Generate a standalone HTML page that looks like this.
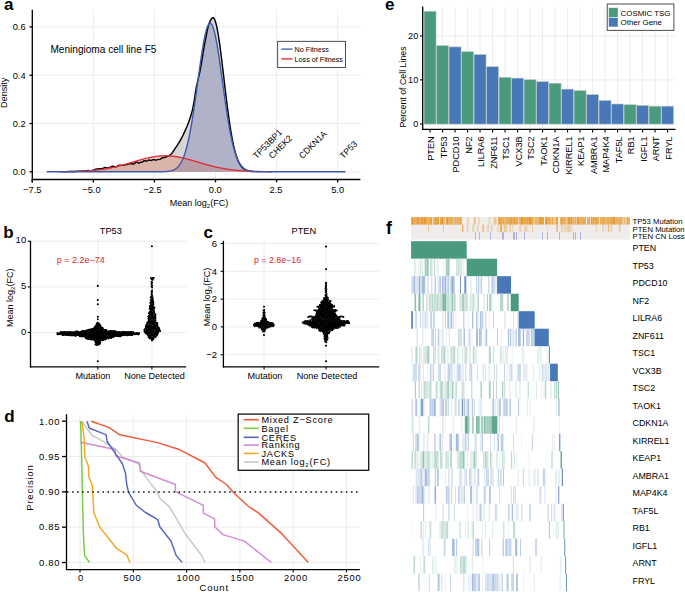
<!DOCTYPE html>
<html><head><meta charset="utf-8"><style>
html,body{margin:0;padding:0;background:#fff;}
svg{display:block;font-family:"Liberation Sans", sans-serif;}
</style></head><body>
<svg width="685" height="592" viewBox="0 0 685 592">
<rect width="685" height="592" fill="#fff"/>
<line x1="32.28" y1="9.7" x2="32.28" y2="178.8" stroke="#EBEBEB" stroke-width="0.9"/>
<line x1="93.35" y1="9.7" x2="93.35" y2="178.8" stroke="#EBEBEB" stroke-width="0.9"/>
<line x1="154.43" y1="9.7" x2="154.43" y2="178.8" stroke="#EBEBEB" stroke-width="0.9"/>
<line x1="215.5" y1="9.7" x2="215.5" y2="178.8" stroke="#EBEBEB" stroke-width="0.9"/>
<line x1="276.57" y1="9.7" x2="276.57" y2="178.8" stroke="#EBEBEB" stroke-width="0.9"/>
<line x1="337.65" y1="9.7" x2="337.65" y2="178.8" stroke="#EBEBEB" stroke-width="0.9"/>
<line x1="32.3" y1="171.8" x2="360.4" y2="171.8" stroke="#EBEBEB" stroke-width="0.9"/>
<line x1="32.3" y1="123.5" x2="360.4" y2="123.5" stroke="#EBEBEB" stroke-width="0.9"/>
<line x1="32.3" y1="75.2" x2="360.4" y2="75.2" stroke="#EBEBEB" stroke-width="0.9"/>
<line x1="32.3" y1="26.9" x2="360.4" y2="26.9" stroke="#EBEBEB" stroke-width="0.9"/>
<path d="M46.69,171.8 L46.69,171.8 L47.19,171.8 L47.69,171.8 L48.19,171.79 L48.68,171.79 L49.18,171.79 L49.68,171.79 L50.18,171.78 L50.68,171.78 L51.18,171.78 L51.68,171.77 L52.18,171.77 L52.67,171.77 L53.17,171.76 L53.67,171.76 L54.17,171.75 L54.67,171.75 L55.17,171.75 L55.67,171.74 L56.17,171.74 L56.66,171.73 L57.16,171.73 L57.66,171.72 L58.16,171.72 L58.66,171.71 L59.16,171.71 L59.66,171.7 L60.16,171.7 L60.65,171.69 L61.15,171.69 L61.65,171.68 L62.15,171.68 L62.65,171.67 L63.15,171.66 L63.65,171.66 L64.15,171.65 L64.65,171.64 L65.14,171.64 L65.64,171.63 L66.14,171.62 L66.64,171.61 L67.14,171.6 L67.64,171.6 L68.14,171.59 L68.64,171.58 L69.13,171.57 L69.63,171.56 L70.13,171.55 L70.63,171.54 L71.13,171.52 L71.63,171.51 L72.13,171.5 L72.63,171.49 L73.12,171.47 L73.62,171.46 L74.12,171.44 L74.62,171.42 L75.12,171.41 L75.62,171.39 L76.12,171.37 L76.62,171.35 L77.12,171.33 L77.61,171.31 L78.11,171.29 L78.61,171.27 L79.11,171.24 L79.61,171.22 L80.11,171.19 L80.61,171.17 L81.11,171.14 L81.6,171.11 L82.1,171.07 L82.6,171.04 L83.1,171 L83.6,170.96 L84.1,170.92 L84.6,170.88 L85.1,170.83 L85.59,170.79 L86.09,170.75 L86.59,170.71 L87.09,170.66 L87.59,170.59 L88.09,170.51 L88.59,170.46 L89.09,170.5 L89.59,170.64 L90.08,170.82 L90.58,170.98 L91.08,171.05 L91.58,170.97 L92.08,170.76 L92.58,170.51 L93.08,170.28 L93.58,170.12 L94.07,169.95 L94.57,169.7 L95.07,169.42 L95.57,169.21 L96.07,169.08 L96.57,169.01 L97.07,168.93 L97.57,168.88 L98.06,168.85 L98.56,168.82 L99.06,168.77 L99.56,168.78 L100.06,168.82 L100.56,168.82 L101.06,168.75 L101.56,168.66 L102.06,168.58 L102.55,168.47 L103.05,168.27 L103.55,168.03 L104.05,167.82 L104.55,167.67 L105.05,167.58 L105.55,167.55 L106.05,167.62 L106.54,167.78 L107.04,167.9 L107.54,167.94 L108.04,167.88 L108.54,167.7 L109.04,167.49 L109.54,167.33 L110.04,167.21 L110.53,167.05 L111.03,166.82 L111.53,166.54 L112.03,166.29 L112.53,166.17 L113.03,166.19 L113.53,166.3 L114.03,166.45 L114.52,166.6 L115.02,166.73 L115.52,166.83 L116.02,166.81 L116.52,166.64 L117.02,166.36 L117.52,166 L118.02,165.68 L118.52,165.48 L119.01,165.37 L119.51,165.31 L120.01,165.26 L120.51,165.23 L121.01,165.27 L121.51,165.35 L122.01,165.39 L122.51,165.39 L123,165.34 L123.5,165.25 L124,165.14 L124.5,165 L125,164.87 L125.5,164.77 L126,164.71 L126.5,164.65 L126.99,164.52 L127.49,164.36 L127.99,164.18 L128.49,164 L128.99,163.9 L129.49,163.84 L129.99,163.79 L130.49,163.76 L130.99,163.7 L131.48,163.66 L131.98,163.72 L132.48,163.86 L132.98,164.01 L133.48,164.08 L133.98,163.94 L134.48,163.57 L134.98,163.02 L135.47,162.43 L135.97,161.98 L136.47,161.84 L136.97,162.06 L137.47,162.49 L137.97,162.91 L138.47,163.13 L138.97,163.07 L139.46,162.8 L139.96,162.51 L140.46,162.32 L140.96,162.26 L141.46,162.24 L141.96,162.18 L142.46,161.99 L142.96,161.62 L143.46,161.18 L143.95,160.84 L144.45,160.69 L144.95,160.72 L145.45,160.86 L145.95,161.03 L146.45,161.12 L146.95,161.02 L147.45,160.73 L147.94,160.38 L148.44,160.11 L148.94,160 L149.44,160.06 L149.94,160.22 L150.44,160.36 L150.94,160.39 L151.44,160.25 L151.93,160.05 L152.43,159.85 L152.93,159.73 L153.43,159.68 L153.93,159.72 L154.43,159.78 L154.93,159.88 L155.43,159.99 L155.93,160.07 L156.42,160.06 L156.92,159.88 L157.42,159.63 L157.92,159.46 L158.42,159.39 L158.92,159.4 L159.42,159.41 L159.92,159.3 L160.41,159.02 L160.91,158.68 L161.41,158.32 L161.91,158 L162.41,157.75 L162.91,157.56 L163.41,157.46 L163.91,157.43 L164.4,157.44 L164.9,157.4 L165.4,157.25 L165.9,157 L166.4,156.73 L166.9,156.5 L167.4,156.32 L167.9,156.16 L168.39,155.94 L168.89,155.66 L169.39,155.35 L169.89,155.01 L170.39,154.62 L170.89,154.19 L171.39,153.71 L171.89,153.17 L172.39,152.53 L172.88,151.82 L173.38,151.07 L173.88,150.32 L174.38,149.59 L174.88,148.87 L175.38,148.14 L175.88,147.41 L176.38,146.67 L176.87,145.92 L177.37,145.16 L177.87,144.38 L178.37,143.59 L178.87,142.78 L179.37,141.96 L179.87,141.11 L180.37,140.23 L180.86,139.33 L181.36,138.4 L181.86,137.45 L182.36,136.47 L182.86,135.47 L183.36,134.45 L183.86,133.41 L184.36,132.34 L184.86,131.26 L185.35,130.16 L185.85,129.04 L186.35,127.9 L186.85,126.74 L187.35,125.54 L187.85,124.3 L188.35,123.02 L188.85,121.68 L189.34,120.27 L189.84,118.81 L190.34,117.29 L190.84,115.68 L191.34,113.97 L191.84,112.13 L192.34,110.15 L192.84,107.93 L193.33,105.45 L193.83,102.76 L194.33,99.91 L194.83,96.58 L195.33,93.01 L195.83,89.84 L196.33,87.2 L196.83,84.79 L197.33,82.56 L197.82,80.44 L198.32,78.38 L198.82,76.3 L199.32,74.15 L199.82,71.87 L200.32,69.39 L200.82,66.7 L201.32,63.84 L201.81,60.86 L202.31,57.79 L202.81,54.69 L203.31,51.61 L203.81,48.59 L204.31,45.68 L204.81,42.92 L205.31,40.37 L205.8,37.89 L206.3,35.37 L206.8,32.87 L207.3,30.46 L207.8,28.2 L208.3,26.15 L208.8,24.39 L209.3,22.97 L209.8,21.88 L210.29,20.86 L210.79,19.92 L211.29,19.08 L211.79,18.4 L212.29,17.9 L212.79,17.63 L213.29,17.7 L213.79,18.1 L214.28,18.82 L214.78,19.84 L215.28,21.17 L215.78,22.8 L216.28,24.71 L216.78,26.89 L217.28,29.34 L217.78,32.03 L218.27,34.95 L218.77,38.09 L219.27,41.42 L219.77,44.93 L220.27,48.6 L220.77,52.41 L221.27,56.34 L221.77,60.37 L222.26,64.48 L222.76,68.65 L223.26,72.86 L223.76,77.09 L224.26,81.33 L224.76,85.56 L225.26,89.76 L225.76,93.92 L226.26,98.01 L226.75,102.04 L227.25,105.98 L227.75,109.82 L228.25,113.56 L228.75,117.19 L229.25,120.7 L229.75,124.08 L230.25,127.32 L230.74,130.43 L231.24,133.41 L231.74,136.24 L232.24,138.93 L232.74,141.48 L233.24,143.89 L233.74,146.16 L234.24,148.3 L234.73,150.3 L235.23,152.17 L235.73,153.91 L236.23,155.54 L236.73,157.04 L237.23,158.44 L237.73,159.73 L238.23,160.91 L238.73,162 L239.22,163 L239.72,163.91 L240.22,164.75 L240.72,165.5 L241.22,166.19 L241.72,166.81 L242.22,167.38 L242.72,167.88 L243.21,168.34 L243.71,168.75 L244.21,169.12 L244.71,169.44 L245.21,169.74 L245.71,170 L246.21,170.23 L246.71,170.43 L247.2,170.61 L247.7,170.77 L248.2,170.91 L248.7,171.03 L249.2,171.13 L249.7,171.23 L250.2,171.31 L250.7,171.38 L251.2,171.44 L251.69,171.49 L252.19,171.54 L252.69,171.58 L253.19,171.61 L253.69,171.64 L254.19,171.67 L254.69,171.69 L255.19,171.7 L255.68,171.72 L256.18,171.73 L256.68,171.74 L257.18,171.75 L257.68,171.76 L258.18,171.77 L258.68,171.77 L259.18,171.78 L259.67,171.78 L260.17,171.78 L260.67,171.79 L261.17,171.79 L261.67,171.79 L262.17,171.79 L262.67,171.79 L263.17,171.8 L263.67,171.8 L264.16,171.8 L264.66,171.8 L265.16,171.8 L265.66,171.8 L266.16,171.8 L266.66,171.8 L267.16,171.8 L267.66,171.8 L268.15,171.8 L268.65,171.8 L269.15,171.8 L269.65,171.8 L270.15,171.8 L270.65,171.8 L271.15,171.8 L271.65,171.8 L272.14,171.8 L272.64,171.8 L273.14,171.8 L273.64,171.8 L274.14,171.8 L274.64,171.8 L275.14,171.8 L275.64,171.8 L276.13,171.8 L276.63,171.8 L277.13,171.8 L277.63,171.8 L278.13,171.8 L278.63,171.8 L279.13,171.8 L279.63,171.8 L280.13,171.8 L280.62,171.8 L281.12,171.8 L281.62,171.8 L282.12,171.8 L282.62,171.8 L283.12,171.8 L283.62,171.8 L284.12,171.8 L284.61,171.8 L285.11,171.8 L285.61,171.8 L286.11,171.8 L286.61,171.8 L287.11,171.8 L287.61,171.8 L288.11,171.8 L288.6,171.8 L289.1,171.8 L289.6,171.8 L290.1,171.8 L290.6,171.8 L291.1,171.8 L291.6,171.8 L292.1,171.8 L292.6,171.8 L293.09,171.8 L293.59,171.8 L294.09,171.8 L294.59,171.8 L295.09,171.8 L295.59,171.8 L296.09,171.8 L296.59,171.8 L297.08,171.8 L297.58,171.8 L298.08,171.8 L298.58,171.8 L299.08,171.8 L299.58,171.8 L300.08,171.8 L300.58,171.8 L301.07,171.8 L301.57,171.8 L302.07,171.8 L302.57,171.8 L303.07,171.8 L303.57,171.8 L304.07,171.8 L304.57,171.8 L305.07,171.8 L305.56,171.8 L306.06,171.8 L306.56,171.8 L307.06,171.8 L307.56,171.8 L308.06,171.8 L308.56,171.8 L309.06,171.8 L309.55,171.8 L310.05,171.8 L310.55,171.8 L311.05,171.8 L311.55,171.8 L312.05,171.8 L312.55,171.8 L313.05,171.8 L313.54,171.8 L314.04,171.8 L314.54,171.8 L315.04,171.8 L315.54,171.8 L316.04,171.8 L316.54,171.8 L317.04,171.8 L317.54,171.8 L318.03,171.8 L318.53,171.8 L319.03,171.8 L319.53,171.8 L320.03,171.8 L320.53,171.8 L321.03,171.8 L321.53,171.8 L322.02,171.8 L322.52,171.8 L323.02,171.8 L323.52,171.8 L324.02,171.8 L324.52,171.8 L325.02,171.8 L325.52,171.8 L326.01,171.8 L326.51,171.8 L327.01,171.8 L327.51,171.8 L328.01,171.8 L328.51,171.8 L329.01,171.8 L329.51,171.8 L330,171.8 L330.5,171.8 L331,171.8 L331.5,171.8 L332,171.8 L332.5,171.8 L333,171.8 L333.5,171.8 L334,171.8 L334.49,171.8 L334.99,171.8 L335.49,171.8 L335.99,171.8 L336.49,171.8 L336.99,171.8 L337.49,171.8 L337.99,171.8 L338.48,171.8 L338.98,171.8 L339.48,171.8 L339.98,171.8 L340.48,171.8 L340.98,171.8 L341.48,171.8 L341.98,171.8 L342.47,171.8 L342.97,171.8 L343.47,171.8 L343.97,171.8 L344.47,171.8 L344.97,171.8 L345.47,171.8 L345.47,171.8 Z" fill="#D6D6D4"/>
<path d="M46.69,171.8 L46.69,171.8 L47.19,171.8 L47.69,171.8 L48.19,171.8 L48.68,171.8 L49.18,171.8 L49.68,171.8 L50.18,171.8 L50.68,171.8 L51.18,171.8 L51.68,171.8 L52.18,171.8 L52.67,171.8 L53.17,171.8 L53.67,171.8 L54.17,171.8 L54.67,171.8 L55.17,171.8 L55.67,171.8 L56.17,171.8 L56.66,171.8 L57.16,171.8 L57.66,171.8 L58.16,171.8 L58.66,171.8 L59.16,171.8 L59.66,171.8 L60.16,171.8 L60.65,171.8 L61.15,171.8 L61.65,171.8 L62.15,171.8 L62.65,171.8 L63.15,171.8 L63.65,171.8 L64.15,171.8 L64.65,171.8 L65.14,171.8 L65.64,171.8 L66.14,171.8 L66.64,171.8 L67.14,171.8 L67.64,171.8 L68.14,171.8 L68.64,171.8 L69.13,171.8 L69.63,171.8 L70.13,171.8 L70.63,171.8 L71.13,171.8 L71.63,171.8 L72.13,171.8 L72.63,171.8 L73.12,171.8 L73.62,171.8 L74.12,171.8 L74.62,171.8 L75.12,171.8 L75.62,171.8 L76.12,171.8 L76.62,171.8 L77.12,171.8 L77.61,171.8 L78.11,171.8 L78.61,171.8 L79.11,171.8 L79.61,171.8 L80.11,171.8 L80.61,171.8 L81.11,171.8 L81.6,171.8 L82.1,171.8 L82.6,171.8 L83.1,171.8 L83.6,171.8 L84.1,171.8 L84.6,171.8 L85.1,171.8 L85.59,171.8 L86.09,171.8 L86.59,171.8 L87.09,171.8 L87.59,171.8 L88.09,171.8 L88.59,171.8 L89.09,171.8 L89.59,171.8 L90.08,171.8 L90.58,171.8 L91.08,171.8 L91.58,171.8 L92.08,171.8 L92.58,171.8 L93.08,171.8 L93.58,171.8 L94.07,171.8 L94.57,171.8 L95.07,171.8 L95.57,171.8 L96.07,171.8 L96.57,171.8 L97.07,171.8 L97.57,171.8 L98.06,171.8 L98.56,171.8 L99.06,171.8 L99.56,171.8 L100.06,171.8 L100.56,171.8 L101.06,171.8 L101.56,171.8 L102.06,171.8 L102.55,171.8 L103.05,171.8 L103.55,171.8 L104.05,171.8 L104.55,171.8 L105.05,171.8 L105.55,171.8 L106.05,171.8 L106.54,171.8 L107.04,171.8 L107.54,171.8 L108.04,171.8 L108.54,171.8 L109.04,171.8 L109.54,171.8 L110.04,171.8 L110.53,171.8 L111.03,171.8 L111.53,171.8 L112.03,171.8 L112.53,171.8 L113.03,171.8 L113.53,171.8 L114.03,171.8 L114.52,171.8 L115.02,171.8 L115.52,171.8 L116.02,171.8 L116.52,171.8 L117.02,171.8 L117.52,171.8 L118.02,171.8 L118.52,171.8 L119.01,171.8 L119.51,171.8 L120.01,171.8 L120.51,171.8 L121.01,171.8 L121.51,171.8 L122.01,171.8 L122.51,171.8 L123,171.8 L123.5,171.8 L124,171.8 L124.5,171.8 L125,171.8 L125.5,171.8 L126,171.8 L126.5,171.8 L126.99,171.8 L127.49,171.8 L127.99,171.8 L128.49,171.8 L128.99,171.8 L129.49,171.8 L129.99,171.8 L130.49,171.8 L130.99,171.8 L131.48,171.8 L131.98,171.8 L132.48,171.8 L132.98,171.8 L133.48,171.8 L133.98,171.8 L134.48,171.8 L134.98,171.8 L135.47,171.8 L135.97,171.8 L136.47,171.8 L136.97,171.8 L137.47,171.8 L137.97,171.8 L138.47,171.8 L138.97,171.8 L139.46,171.8 L139.96,171.8 L140.46,171.8 L140.96,171.8 L141.46,171.8 L141.96,171.8 L142.46,171.8 L142.96,171.8 L143.46,171.8 L143.95,171.8 L144.45,171.8 L144.95,171.8 L145.45,171.8 L145.95,171.8 L146.45,171.8 L146.95,171.8 L147.45,171.8 L147.94,171.8 L148.44,171.8 L148.94,171.8 L149.44,171.8 L149.94,171.8 L150.44,171.8 L150.94,171.8 L151.44,171.8 L151.93,171.8 L152.43,171.8 L152.93,171.8 L153.43,171.8 L153.93,171.8 L154.43,171.79 L154.93,171.79 L155.43,171.79 L155.93,171.79 L156.42,171.79 L156.92,171.79 L157.42,171.78 L157.92,171.78 L158.42,171.78 L158.92,171.77 L159.42,171.77 L159.92,171.76 L160.41,171.76 L160.91,171.75 L161.41,171.74 L161.91,171.73 L162.41,171.72 L162.91,171.7 L163.41,171.69 L163.91,171.67 L164.4,171.65 L164.9,171.62 L165.4,171.59 L165.9,171.56 L166.4,171.52 L166.9,171.48 L167.4,171.43 L167.9,171.38 L168.39,171.31 L168.89,171.24 L169.39,171.16 L169.89,171.07 L170.39,170.97 L170.89,170.85 L171.39,170.73 L171.89,170.58 L172.39,170.42 L172.88,170.24 L173.38,170.04 L173.88,169.81 L174.38,169.57 L174.88,169.29 L175.38,168.98 L175.88,168.65 L176.38,168.28 L176.87,167.87 L177.37,167.42 L177.87,166.93 L178.37,166.39 L178.87,165.8 L179.37,165.16 L179.87,164.46 L180.37,163.7 L180.86,162.88 L181.36,161.99 L181.86,161.03 L182.36,159.99 L182.86,158.87 L183.36,157.68 L183.86,156.4 L184.36,155.03 L184.86,153.56 L185.35,152 L185.85,150.35 L186.35,148.59 L186.85,146.73 L187.35,144.77 L187.85,142.69 L188.35,140.51 L188.85,138.23 L189.34,135.83 L189.84,133.33 L190.34,130.72 L190.84,128 L191.34,125.18 L191.84,122.26 L192.34,119.25 L192.84,116.14 L193.33,112.94 L193.83,109.66 L194.33,106.31 L194.83,102.89 L195.33,99.4 L195.83,95.87 L196.33,92.29 L196.83,88.68 L197.33,85.05 L197.82,81.41 L198.32,77.77 L198.82,74.14 L199.32,70.54 L199.82,66.97 L200.32,63.46 L200.82,60.01 L201.32,56.64 L201.81,53.37 L202.31,50.2 L202.81,47.14 L203.31,44.23 L203.81,41.45 L204.31,38.83 L204.81,36.39 L205.31,34.12 L205.8,32.04 L206.3,30.16 L206.8,28.49 L207.3,27.04 L207.8,25.82 L208.3,24.82 L208.8,24.06 L209.3,23.54 L209.8,23.25 L210.29,23.21 L210.79,23.42 L211.29,23.86 L211.79,24.55 L212.29,25.47 L212.79,26.62 L213.29,28 L213.79,29.6 L214.28,31.41 L214.78,33.42 L215.28,35.63 L215.78,38.02 L216.28,40.58 L216.78,43.31 L217.28,46.18 L217.78,49.19 L218.27,52.33 L218.77,55.57 L219.27,58.91 L219.77,62.33 L220.27,65.83 L220.77,69.37 L221.27,72.97 L221.77,76.59 L222.26,80.23 L222.76,83.87 L223.26,87.51 L223.76,91.12 L224.26,94.71 L224.76,98.26 L225.26,101.76 L225.76,105.21 L226.26,108.58 L226.75,111.89 L227.25,115.11 L227.75,118.25 L228.25,121.3 L228.75,124.25 L229.25,127.1 L229.75,129.85 L230.25,132.49 L230.74,135.03 L231.24,137.46 L231.74,139.78 L232.24,142 L232.74,144.1 L233.24,146.1 L233.74,148 L234.24,149.79 L234.73,151.48 L235.23,153.07 L235.73,154.56 L236.23,155.96 L236.73,157.27 L237.23,158.5 L237.73,159.64 L238.23,160.7 L238.73,161.68 L239.22,162.6 L239.72,163.44 L240.22,164.22 L240.72,164.94 L241.22,165.6 L241.72,166.2 L242.22,166.76 L242.72,167.26 L243.21,167.73 L243.71,168.15 L244.21,168.53 L244.71,168.88 L245.21,169.19 L245.71,169.48 L246.21,169.74 L246.71,169.97 L247.2,170.18 L247.7,170.36 L248.2,170.53 L248.7,170.68 L249.2,170.81 L249.7,170.93 L250.2,171.04 L250.7,171.13 L251.2,171.22 L251.69,171.29 L252.19,171.36 L252.69,171.41 L253.19,171.46 L253.69,171.51 L254.19,171.55 L254.69,171.58 L255.19,171.61 L255.68,171.64 L256.18,171.66 L256.68,171.68 L257.18,171.7 L257.68,171.71 L258.18,171.72 L258.68,171.74 L259.18,171.75 L259.67,171.75 L260.17,171.76 L260.67,171.77 L261.17,171.77 L261.67,171.78 L262.17,171.78 L262.67,171.78 L263.17,171.79 L263.67,171.79 L264.16,171.79 L264.66,171.79 L265.16,171.79 L265.66,171.79 L266.16,171.8 L266.66,171.8 L267.16,171.8 L267.66,171.8 L268.15,171.8 L268.65,171.8 L269.15,171.8 L269.65,171.8 L270.15,171.8 L270.65,171.8 L271.15,171.8 L271.65,171.8 L272.14,171.8 L272.64,171.8 L273.14,171.8 L273.64,171.8 L274.14,171.8 L274.64,171.8 L275.14,171.8 L275.64,171.8 L276.13,171.8 L276.63,171.8 L277.13,171.8 L277.63,171.8 L278.13,171.8 L278.63,171.8 L279.13,171.8 L279.63,171.8 L280.13,171.8 L280.62,171.8 L281.12,171.8 L281.62,171.8 L282.12,171.8 L282.62,171.8 L283.12,171.8 L283.62,171.8 L284.12,171.8 L284.61,171.8 L285.11,171.8 L285.61,171.8 L286.11,171.8 L286.61,171.8 L287.11,171.8 L287.61,171.8 L288.11,171.8 L288.6,171.8 L289.1,171.8 L289.6,171.8 L290.1,171.8 L290.6,171.8 L291.1,171.8 L291.6,171.8 L292.1,171.8 L292.6,171.8 L293.09,171.8 L293.59,171.8 L294.09,171.8 L294.59,171.8 L295.09,171.8 L295.59,171.8 L296.09,171.8 L296.59,171.8 L297.08,171.8 L297.58,171.8 L298.08,171.8 L298.58,171.8 L299.08,171.8 L299.58,171.8 L300.08,171.8 L300.58,171.8 L301.07,171.8 L301.57,171.8 L302.07,171.8 L302.57,171.8 L303.07,171.8 L303.57,171.8 L304.07,171.8 L304.57,171.8 L305.07,171.8 L305.56,171.8 L306.06,171.8 L306.56,171.8 L307.06,171.8 L307.56,171.8 L308.06,171.8 L308.56,171.8 L309.06,171.8 L309.55,171.8 L310.05,171.8 L310.55,171.8 L311.05,171.8 L311.55,171.8 L312.05,171.8 L312.55,171.8 L313.05,171.8 L313.54,171.8 L314.04,171.8 L314.54,171.8 L315.04,171.8 L315.54,171.8 L316.04,171.8 L316.54,171.8 L317.04,171.8 L317.54,171.8 L318.03,171.8 L318.53,171.8 L319.03,171.8 L319.53,171.8 L320.03,171.8 L320.53,171.8 L321.03,171.8 L321.53,171.8 L322.02,171.8 L322.52,171.8 L323.02,171.8 L323.52,171.8 L324.02,171.8 L324.52,171.8 L325.02,171.8 L325.52,171.8 L326.01,171.8 L326.51,171.8 L327.01,171.8 L327.51,171.8 L328.01,171.8 L328.51,171.8 L329.01,171.8 L329.51,171.8 L330,171.8 L330.5,171.8 L331,171.8 L331.5,171.8 L332,171.8 L332.5,171.8 L333,171.8 L333.5,171.8 L334,171.8 L334.49,171.8 L334.99,171.8 L335.49,171.8 L335.99,171.8 L336.49,171.8 L336.99,171.8 L337.49,171.8 L337.99,171.8 L338.48,171.8 L338.98,171.8 L339.48,171.8 L339.98,171.8 L340.48,171.8 L340.98,171.8 L341.48,171.8 L341.98,171.8 L342.47,171.8 L342.97,171.8 L343.47,171.8 L343.97,171.8 L344.47,171.8 L344.97,171.8 L345.47,171.8 L345.47,171.8 Z" fill="rgb(105,111,178)" fill-opacity="0.35"/>
<path d="M46.69,171.8 L46.69,171.78 L47.19,171.78 L47.69,171.78 L48.19,171.78 L48.68,171.77 L49.18,171.77 L49.68,171.77 L50.18,171.77 L50.68,171.77 L51.18,171.77 L51.68,171.77 L52.18,171.76 L52.67,171.76 L53.17,171.76 L53.67,171.76 L54.17,171.75 L54.67,171.75 L55.17,171.75 L55.67,171.75 L56.17,171.74 L56.66,171.74 L57.16,171.74 L57.66,171.73 L58.16,171.73 L58.66,171.73 L59.16,171.72 L59.66,171.72 L60.16,171.72 L60.65,171.71 L61.15,171.71 L61.65,171.7 L62.15,171.7 L62.65,171.69 L63.15,171.69 L63.65,171.68 L64.15,171.68 L64.65,171.67 L65.14,171.66 L65.64,171.66 L66.14,171.65 L66.64,171.64 L67.14,171.64 L67.64,171.63 L68.14,171.62 L68.64,171.61 L69.13,171.6 L69.63,171.59 L70.13,171.58 L70.63,171.57 L71.13,171.56 L71.63,171.55 L72.13,171.54 L72.63,171.53 L73.12,171.52 L73.62,171.5 L74.12,171.49 L74.62,171.48 L75.12,171.46 L75.62,171.45 L76.12,171.43 L76.62,171.42 L77.12,171.4 L77.61,171.38 L78.11,171.37 L78.61,171.35 L79.11,171.33 L79.61,171.31 L80.11,171.29 L80.61,171.27 L81.11,171.25 L81.6,171.23 L82.1,171.2 L82.6,171.18 L83.1,171.15 L83.6,171.13 L84.1,171.1 L84.6,171.07 L85.1,171.05 L85.59,171.02 L86.09,170.99 L86.59,170.96 L87.09,170.92 L87.59,170.89 L88.09,170.86 L88.59,170.82 L89.09,170.79 L89.59,170.75 L90.08,170.71 L90.58,170.67 L91.08,170.63 L91.58,170.59 L92.08,170.55 L92.58,170.5 L93.08,170.46 L93.58,170.41 L94.07,170.36 L94.57,170.31 L95.07,170.26 L95.57,170.21 L96.07,170.16 L96.57,170.11 L97.07,170.05 L97.57,169.99 L98.06,169.93 L98.56,169.87 L99.06,169.81 L99.56,169.75 L100.06,169.68 L100.56,169.62 L101.06,169.55 L101.56,169.48 L102.06,169.41 L102.55,169.34 L103.05,169.26 L103.55,169.19 L104.05,169.11 L104.55,169.03 L105.05,168.95 L105.55,168.87 L106.05,168.79 L106.54,168.7 L107.04,168.61 L107.54,168.53 L108.04,168.44 L108.54,168.34 L109.04,168.25 L109.54,168.15 L110.04,168.06 L110.53,167.96 L111.03,167.86 L111.53,167.76 L112.03,167.65 L112.53,167.55 L113.03,167.44 L113.53,167.33 L114.03,167.22 L114.52,167.11 L115.02,166.99 L115.52,166.88 L116.02,166.76 L116.52,166.64 L117.02,166.52 L117.52,166.4 L118.02,166.28 L118.52,166.16 L119.01,166.03 L119.51,165.9 L120.01,165.77 L120.51,165.64 L121.01,165.51 L121.51,165.38 L122.01,165.25 L122.51,165.11 L123,164.98 L123.5,164.84 L124,164.7 L124.5,164.56 L125,164.42 L125.5,164.28 L126,164.14 L126.5,163.99 L126.99,163.85 L127.49,163.7 L127.99,163.56 L128.49,163.41 L128.99,163.27 L129.49,163.12 L129.99,162.97 L130.49,162.82 L130.99,162.67 L131.48,162.53 L131.98,162.38 L132.48,162.23 L132.98,162.08 L133.48,161.93 L133.98,161.78 L134.48,161.63 L134.98,161.48 L135.47,161.34 L135.97,161.19 L136.47,161.04 L136.97,160.89 L137.47,160.75 L137.97,160.6 L138.47,160.46 L138.97,160.31 L139.46,160.17 L139.96,160.03 L140.46,159.89 L140.96,159.75 L141.46,159.61 L141.96,159.47 L142.46,159.34 L142.96,159.2 L143.46,159.07 L143.95,158.94 L144.45,158.81 L144.95,158.68 L145.45,158.55 L145.95,158.43 L146.45,158.31 L146.95,158.19 L147.45,158.07 L147.94,157.95 L148.44,157.84 L148.94,157.73 L149.44,157.62 L149.94,157.52 L150.44,157.41 L150.94,157.31 L151.44,157.22 L151.93,157.12 L152.43,157.03 L152.93,156.94 L153.43,156.85 L153.93,156.77 L154.43,156.69 L154.93,156.61 L155.43,156.54 L155.93,156.47 L156.42,156.4 L156.92,156.34 L157.42,156.28 L157.92,156.22 L158.42,156.17 L158.92,156.12 L159.42,156.07 L159.92,156.03 L160.41,155.99 L160.91,155.95 L161.41,155.92 L161.91,155.89 L162.41,155.87 L162.91,155.85 L163.41,155.83 L163.91,155.82 L164.4,155.81 L164.9,155.8 L165.4,155.8 L165.9,155.8 L166.4,155.81 L166.9,155.82 L167.4,155.83 L167.9,155.85 L168.39,155.87 L168.89,155.89 L169.39,155.92 L169.89,155.95 L170.39,155.99 L170.89,156.03 L171.39,156.07 L171.89,156.11 L172.39,156.16 L172.88,156.22 L173.38,156.27 L173.88,156.33 L174.38,156.4 L174.88,156.46 L175.38,156.53 L175.88,156.61 L176.38,156.68 L176.87,156.76 L177.37,156.85 L177.87,156.93 L178.37,157.02 L178.87,157.11 L179.37,157.21 L179.87,157.31 L180.37,157.41 L180.86,157.51 L181.36,157.62 L181.86,157.72 L182.36,157.83 L182.86,157.95 L183.36,158.06 L183.86,158.18 L184.36,158.3 L184.86,158.42 L185.35,158.55 L185.85,158.67 L186.35,158.8 L186.85,158.93 L187.35,159.06 L187.85,159.19 L188.35,159.33 L188.85,159.46 L189.34,159.6 L189.84,159.74 L190.34,159.88 L190.84,160.02 L191.34,160.16 L191.84,160.3 L192.34,160.45 L192.84,160.59 L193.33,160.74 L193.83,160.88 L194.33,161.03 L194.83,161.18 L195.33,161.33 L195.83,161.47 L196.33,161.62 L196.83,161.77 L197.33,161.92 L197.82,162.07 L198.32,162.22 L198.82,162.37 L199.32,162.52 L199.82,162.66 L200.32,162.81 L200.82,162.96 L201.32,163.11 L201.81,163.26 L202.31,163.4 L202.81,163.55 L203.31,163.69 L203.81,163.84 L204.31,163.98 L204.81,164.13 L205.31,164.27 L205.8,164.41 L206.3,164.55 L206.8,164.69 L207.3,164.83 L207.8,164.97 L208.3,165.1 L208.8,165.24 L209.3,165.37 L209.8,165.5 L210.29,165.64 L210.79,165.77 L211.29,165.89 L211.79,166.02 L212.29,166.15 L212.79,166.27 L213.29,166.39 L213.79,166.52 L214.28,166.64 L214.78,166.75 L215.28,166.87 L215.78,166.99 L216.28,167.1 L216.78,167.21 L217.28,167.32 L217.78,167.43 L218.27,167.54 L218.77,167.64 L219.27,167.75 L219.77,167.85 L220.27,167.95 L220.77,168.05 L221.27,168.15 L221.77,168.24 L222.26,168.34 L222.76,168.43 L223.26,168.52 L223.76,168.61 L224.26,168.7 L224.76,168.78 L225.26,168.86 L225.76,168.95 L226.26,169.03 L226.75,169.11 L227.25,169.18 L227.75,169.26 L228.25,169.33 L228.75,169.41 L229.25,169.48 L229.75,169.55 L230.25,169.61 L230.74,169.68 L231.24,169.74 L231.74,169.81 L232.24,169.87 L232.74,169.93 L233.24,169.99 L233.74,170.05 L234.24,170.1 L234.73,170.16 L235.23,170.21 L235.73,170.26 L236.23,170.31 L236.73,170.36 L237.23,170.41 L237.73,170.46 L238.23,170.5 L238.73,170.54 L239.22,170.59 L239.72,170.63 L240.22,170.67 L240.72,170.71 L241.22,170.75 L241.72,170.78 L242.22,170.82 L242.72,170.86 L243.21,170.89 L243.71,170.92 L244.21,170.95 L244.71,170.99 L245.21,171.02 L245.71,171.04 L246.21,171.07 L246.71,171.1 L247.2,171.13 L247.7,171.15 L248.2,171.18 L248.7,171.2 L249.2,171.22 L249.7,171.25 L250.2,171.27 L250.7,171.29 L251.2,171.31 L251.69,171.33 L252.19,171.35 L252.69,171.37 L253.19,171.38 L253.69,171.4 L254.19,171.42 L254.69,171.43 L255.19,171.45 L255.68,171.46 L256.18,171.48 L256.68,171.49 L257.18,171.5 L257.68,171.52 L258.18,171.53 L258.68,171.54 L259.18,171.55 L259.67,171.56 L260.17,171.57 L260.67,171.58 L261.17,171.59 L261.67,171.6 L262.17,171.61 L262.67,171.62 L263.17,171.63 L263.67,171.63 L264.16,171.64 L264.66,171.65 L265.16,171.66 L265.66,171.66 L266.16,171.67 L266.66,171.68 L267.16,171.68 L267.66,171.69 L268.15,171.69 L268.65,171.7 L269.15,171.7 L269.65,171.71 L270.15,171.71 L270.65,171.72 L271.15,171.72 L271.65,171.72 L272.14,171.73 L272.64,171.73 L273.14,171.73 L273.64,171.74 L274.14,171.74 L274.64,171.74 L275.14,171.75 L275.64,171.75 L276.13,171.75 L276.63,171.75 L277.13,171.76 L277.63,171.76 L278.13,171.76 L278.63,171.76 L279.13,171.76 L279.63,171.77 L280.13,171.77 L280.62,171.77 L281.12,171.77 L281.62,171.77 L282.12,171.77 L282.62,171.78 L283.12,171.78 L283.62,171.78 L284.12,171.78 L284.61,171.78 L285.11,171.78 L285.61,171.78 L286.11,171.78 L286.61,171.78 L287.11,171.79 L287.61,171.79 L288.11,171.79 L288.6,171.79 L289.1,171.79 L289.6,171.79 L290.1,171.79 L290.6,171.79 L291.1,171.79 L291.6,171.79 L292.1,171.79 L292.6,171.79 L293.09,171.79 L293.59,171.79 L294.09,171.79 L294.59,171.79 L295.09,171.79 L295.59,171.79 L296.09,171.8 L296.59,171.8 L297.08,171.8 L297.58,171.8 L298.08,171.8 L298.58,171.8 L299.08,171.8 L299.58,171.8 L300.08,171.8 L300.58,171.8 L301.07,171.8 L301.57,171.8 L302.07,171.8 L302.57,171.8 L303.07,171.8 L303.57,171.8 L304.07,171.8 L304.57,171.8 L305.07,171.8 L305.56,171.8 L306.06,171.8 L306.56,171.8 L307.06,171.8 L307.56,171.8 L308.06,171.8 L308.56,171.8 L309.06,171.8 L309.55,171.8 L310.05,171.8 L310.55,171.8 L311.05,171.8 L311.55,171.8 L312.05,171.8 L312.55,171.8 L313.05,171.8 L313.54,171.8 L314.04,171.8 L314.54,171.8 L315.04,171.8 L315.54,171.8 L316.04,171.8 L316.54,171.8 L317.04,171.8 L317.54,171.8 L318.03,171.8 L318.53,171.8 L319.03,171.8 L319.53,171.8 L320.03,171.8 L320.53,171.8 L321.03,171.8 L321.53,171.8 L322.02,171.8 L322.52,171.8 L323.02,171.8 L323.52,171.8 L324.02,171.8 L324.52,171.8 L325.02,171.8 L325.52,171.8 L326.01,171.8 L326.51,171.8 L327.01,171.8 L327.51,171.8 L328.01,171.8 L328.51,171.8 L329.01,171.8 L329.51,171.8 L330,171.8 L330.5,171.8 L331,171.8 L331.5,171.8 L332,171.8 L332.5,171.8 L333,171.8 L333.5,171.8 L334,171.8 L334.49,171.8 L334.99,171.8 L335.49,171.8 L335.99,171.8 L336.49,171.8 L336.99,171.8 L337.49,171.8 L337.99,171.8 L338.48,171.8 L338.98,171.8 L339.48,171.8 L339.98,171.8 L340.48,171.8 L340.98,171.8 L341.48,171.8 L341.98,171.8 L342.47,171.8 L342.97,171.8 L343.47,171.8 L343.97,171.8 L344.47,171.8 L344.97,171.8 L345.47,171.8 L345.47,171.8 Z" fill="rgb(225,117,83)" fill-opacity="0.35"/>
<path d="M46.69,171.8 L46.69,171.8 L47.19,171.8 L47.69,171.8 L48.19,171.8 L48.68,171.8 L49.18,171.8 L49.68,171.8 L50.18,171.8 L50.68,171.8 L51.18,171.8 L51.68,171.8 L52.18,171.8 L52.67,171.8 L53.17,171.8 L53.67,171.8 L54.17,171.8 L54.67,171.8 L55.17,171.8 L55.67,171.8 L56.17,171.8 L56.66,171.8 L57.16,171.8 L57.66,171.8 L58.16,171.8 L58.66,171.8 L59.16,171.8 L59.66,171.8 L60.16,171.8 L60.65,171.8 L61.15,171.8 L61.65,171.8 L62.15,171.8 L62.65,171.8 L63.15,171.8 L63.65,171.8 L64.15,171.8 L64.65,171.8 L65.14,171.8 L65.64,171.8 L66.14,171.8 L66.64,171.8 L67.14,171.8 L67.64,171.8 L68.14,171.8 L68.64,171.8 L69.13,171.8 L69.63,171.8 L70.13,171.8 L70.63,171.8 L71.13,171.8 L71.63,171.8 L72.13,171.8 L72.63,171.8 L73.12,171.8 L73.62,171.8 L74.12,171.8 L74.62,171.8 L75.12,171.8 L75.62,171.8 L76.12,171.8 L76.62,171.8 L77.12,171.8 L77.61,171.8 L78.11,171.8 L78.61,171.8 L79.11,171.8 L79.61,171.8 L80.11,171.8 L80.61,171.8 L81.11,171.8 L81.6,171.8 L82.1,171.8 L82.6,171.8 L83.1,171.8 L83.6,171.8 L84.1,171.8 L84.6,171.8 L85.1,171.8 L85.59,171.8 L86.09,171.8 L86.59,171.8 L87.09,171.8 L87.59,171.8 L88.09,171.8 L88.59,171.8 L89.09,171.8 L89.59,171.8 L90.08,171.8 L90.58,171.8 L91.08,171.8 L91.58,171.8 L92.08,171.8 L92.58,171.8 L93.08,171.8 L93.58,171.8 L94.07,171.8 L94.57,171.8 L95.07,171.8 L95.57,171.8 L96.07,171.8 L96.57,171.8 L97.07,171.8 L97.57,171.8 L98.06,171.8 L98.56,171.8 L99.06,171.8 L99.56,171.8 L100.06,171.8 L100.56,171.8 L101.06,171.8 L101.56,171.8 L102.06,171.8 L102.55,171.8 L103.05,171.8 L103.55,171.8 L104.05,171.8 L104.55,171.8 L105.05,171.8 L105.55,171.8 L106.05,171.8 L106.54,171.8 L107.04,171.8 L107.54,171.8 L108.04,171.8 L108.54,171.8 L109.04,171.8 L109.54,171.8 L110.04,171.8 L110.53,171.8 L111.03,171.8 L111.53,171.8 L112.03,171.8 L112.53,171.8 L113.03,171.8 L113.53,171.8 L114.03,171.8 L114.52,171.8 L115.02,171.8 L115.52,171.8 L116.02,171.8 L116.52,171.8 L117.02,171.8 L117.52,171.8 L118.02,171.8 L118.52,171.8 L119.01,171.8 L119.51,171.8 L120.01,171.8 L120.51,171.8 L121.01,171.8 L121.51,171.8 L122.01,171.8 L122.51,171.8 L123,171.8 L123.5,171.8 L124,171.8 L124.5,171.8 L125,171.8 L125.5,171.8 L126,171.8 L126.5,171.8 L126.99,171.8 L127.49,171.8 L127.99,171.8 L128.49,171.8 L128.99,171.8 L129.49,171.8 L129.99,171.8 L130.49,171.8 L130.99,171.8 L131.48,171.8 L131.98,171.8 L132.48,171.8 L132.98,171.8 L133.48,171.8 L133.98,171.8 L134.48,171.8 L134.98,171.8 L135.47,171.8 L135.97,171.8 L136.47,171.8 L136.97,171.8 L137.47,171.8 L137.97,171.8 L138.47,171.8 L138.97,171.8 L139.46,171.8 L139.96,171.8 L140.46,171.8 L140.96,171.8 L141.46,171.8 L141.96,171.8 L142.46,171.8 L142.96,171.8 L143.46,171.8 L143.95,171.8 L144.45,171.8 L144.95,171.8 L145.45,171.8 L145.95,171.8 L146.45,171.8 L146.95,171.8 L147.45,171.8 L147.94,171.8 L148.44,171.8 L148.94,171.8 L149.44,171.8 L149.94,171.8 L150.44,171.8 L150.94,171.8 L151.44,171.8 L151.93,171.8 L152.43,171.8 L152.93,171.8 L153.43,171.8 L153.93,171.8 L154.43,171.79 L154.93,171.79 L155.43,171.79 L155.93,171.79 L156.42,171.79 L156.92,171.79 L157.42,171.78 L157.92,171.78 L158.42,171.78 L158.92,171.77 L159.42,171.77 L159.92,171.76 L160.41,171.76 L160.91,171.75 L161.41,171.74 L161.91,171.73 L162.41,171.72 L162.91,171.7 L163.41,171.69 L163.91,171.67 L164.4,171.65 L164.9,171.62 L165.4,171.59 L165.9,171.56 L166.4,171.52 L166.9,171.48 L167.4,171.43 L167.9,171.38 L168.39,171.31 L168.89,171.24 L169.39,171.16 L169.89,171.07 L170.39,170.97 L170.89,170.85 L171.39,170.73 L171.89,170.58 L172.39,170.42 L172.88,170.24 L173.38,170.04 L173.88,169.81 L174.38,169.57 L174.88,169.29 L175.38,168.98 L175.88,168.65 L176.38,168.28 L176.87,167.87 L177.37,167.42 L177.87,166.93 L178.37,166.39 L178.87,165.8 L179.37,165.16 L179.87,164.46 L180.37,163.7 L180.86,162.88 L181.36,161.99 L181.86,161.03 L182.36,159.99 L182.86,158.87 L183.36,158.06 L183.86,158.18 L184.36,158.3 L184.86,158.42 L185.35,158.55 L185.85,158.67 L186.35,158.8 L186.85,158.93 L187.35,159.06 L187.85,159.19 L188.35,159.33 L188.85,159.46 L189.34,159.6 L189.84,159.74 L190.34,159.88 L190.84,160.02 L191.34,160.16 L191.84,160.3 L192.34,160.45 L192.84,160.59 L193.33,160.74 L193.83,160.88 L194.33,161.03 L194.83,161.18 L195.33,161.33 L195.83,161.47 L196.33,161.62 L196.83,161.77 L197.33,161.92 L197.82,162.07 L198.32,162.22 L198.82,162.37 L199.32,162.52 L199.82,162.66 L200.32,162.81 L200.82,162.96 L201.32,163.11 L201.81,163.26 L202.31,163.4 L202.81,163.55 L203.31,163.69 L203.81,163.84 L204.31,163.98 L204.81,164.13 L205.31,164.27 L205.8,164.41 L206.3,164.55 L206.8,164.69 L207.3,164.83 L207.8,164.97 L208.3,165.1 L208.8,165.24 L209.3,165.37 L209.8,165.5 L210.29,165.64 L210.79,165.77 L211.29,165.89 L211.79,166.02 L212.29,166.15 L212.79,166.27 L213.29,166.39 L213.79,166.52 L214.28,166.64 L214.78,166.75 L215.28,166.87 L215.78,166.99 L216.28,167.1 L216.78,167.21 L217.28,167.32 L217.78,167.43 L218.27,167.54 L218.77,167.64 L219.27,167.75 L219.77,167.85 L220.27,167.95 L220.77,168.05 L221.27,168.15 L221.77,168.24 L222.26,168.34 L222.76,168.43 L223.26,168.52 L223.76,168.61 L224.26,168.7 L224.76,168.78 L225.26,168.86 L225.76,168.95 L226.26,169.03 L226.75,169.11 L227.25,169.18 L227.75,169.26 L228.25,169.33 L228.75,169.41 L229.25,169.48 L229.75,169.55 L230.25,169.61 L230.74,169.68 L231.24,169.74 L231.74,169.81 L232.24,169.87 L232.74,169.93 L233.24,169.99 L233.74,170.05 L234.24,170.1 L234.73,170.16 L235.23,170.21 L235.73,170.26 L236.23,170.31 L236.73,170.36 L237.23,170.41 L237.73,170.46 L238.23,170.5 L238.73,170.54 L239.22,170.59 L239.72,170.63 L240.22,170.67 L240.72,170.71 L241.22,170.75 L241.72,170.78 L242.22,170.82 L242.72,170.86 L243.21,170.89 L243.71,170.92 L244.21,170.95 L244.71,170.99 L245.21,171.02 L245.71,171.04 L246.21,171.07 L246.71,171.1 L247.2,171.13 L247.7,171.15 L248.2,171.18 L248.7,171.2 L249.2,171.22 L249.7,171.25 L250.2,171.27 L250.7,171.29 L251.2,171.31 L251.69,171.33 L252.19,171.36 L252.69,171.41 L253.19,171.46 L253.69,171.51 L254.19,171.55 L254.69,171.58 L255.19,171.61 L255.68,171.64 L256.18,171.66 L256.68,171.68 L257.18,171.7 L257.68,171.71 L258.18,171.72 L258.68,171.74 L259.18,171.75 L259.67,171.75 L260.17,171.76 L260.67,171.77 L261.17,171.77 L261.67,171.78 L262.17,171.78 L262.67,171.78 L263.17,171.79 L263.67,171.79 L264.16,171.79 L264.66,171.79 L265.16,171.79 L265.66,171.79 L266.16,171.8 L266.66,171.8 L267.16,171.8 L267.66,171.8 L268.15,171.8 L268.65,171.8 L269.15,171.8 L269.65,171.8 L270.15,171.8 L270.65,171.8 L271.15,171.8 L271.65,171.8 L272.14,171.8 L272.64,171.8 L273.14,171.8 L273.64,171.8 L274.14,171.8 L274.64,171.8 L275.14,171.8 L275.64,171.8 L276.13,171.8 L276.63,171.8 L277.13,171.8 L277.63,171.8 L278.13,171.8 L278.63,171.8 L279.13,171.8 L279.63,171.8 L280.13,171.8 L280.62,171.8 L281.12,171.8 L281.62,171.8 L282.12,171.8 L282.62,171.8 L283.12,171.8 L283.62,171.8 L284.12,171.8 L284.61,171.8 L285.11,171.8 L285.61,171.8 L286.11,171.8 L286.61,171.8 L287.11,171.8 L287.61,171.8 L288.11,171.8 L288.6,171.8 L289.1,171.8 L289.6,171.8 L290.1,171.8 L290.6,171.8 L291.1,171.8 L291.6,171.8 L292.1,171.8 L292.6,171.8 L293.09,171.8 L293.59,171.8 L294.09,171.8 L294.59,171.8 L295.09,171.8 L295.59,171.8 L296.09,171.8 L296.59,171.8 L297.08,171.8 L297.58,171.8 L298.08,171.8 L298.58,171.8 L299.08,171.8 L299.58,171.8 L300.08,171.8 L300.58,171.8 L301.07,171.8 L301.57,171.8 L302.07,171.8 L302.57,171.8 L303.07,171.8 L303.57,171.8 L304.07,171.8 L304.57,171.8 L305.07,171.8 L305.56,171.8 L306.06,171.8 L306.56,171.8 L307.06,171.8 L307.56,171.8 L308.06,171.8 L308.56,171.8 L309.06,171.8 L309.55,171.8 L310.05,171.8 L310.55,171.8 L311.05,171.8 L311.55,171.8 L312.05,171.8 L312.55,171.8 L313.05,171.8 L313.54,171.8 L314.04,171.8 L314.54,171.8 L315.04,171.8 L315.54,171.8 L316.04,171.8 L316.54,171.8 L317.04,171.8 L317.54,171.8 L318.03,171.8 L318.53,171.8 L319.03,171.8 L319.53,171.8 L320.03,171.8 L320.53,171.8 L321.03,171.8 L321.53,171.8 L322.02,171.8 L322.52,171.8 L323.02,171.8 L323.52,171.8 L324.02,171.8 L324.52,171.8 L325.02,171.8 L325.52,171.8 L326.01,171.8 L326.51,171.8 L327.01,171.8 L327.51,171.8 L328.01,171.8 L328.51,171.8 L329.01,171.8 L329.51,171.8 L330,171.8 L330.5,171.8 L331,171.8 L331.5,171.8 L332,171.8 L332.5,171.8 L333,171.8 L333.5,171.8 L334,171.8 L334.49,171.8 L334.99,171.8 L335.49,171.8 L335.99,171.8 L336.49,171.8 L336.99,171.8 L337.49,171.8 L337.99,171.8 L338.48,171.8 L338.98,171.8 L339.48,171.8 L339.98,171.8 L340.48,171.8 L340.98,171.8 L341.48,171.8 L341.98,171.8 L342.47,171.8 L342.97,171.8 L343.47,171.8 L343.97,171.8 L344.47,171.8 L344.97,171.8 L345.47,171.8 L345.47,171.8 Z" fill="#B99CA6"/>
<path d="M64.15,171.65 L64.65,171.64 L65.14,171.64 L65.64,171.63 L66.14,171.62 L66.64,171.61 L67.14,171.6 L67.64,171.6 L68.14,171.59 L68.64,171.58 L69.13,171.57 L69.63,171.56 L70.13,171.55 L70.63,171.54 L71.13,171.52 L71.63,171.51 L72.13,171.5 L72.63,171.49 L73.12,171.47 L73.62,171.46 L74.12,171.44 L74.62,171.42 L75.12,171.41 L75.62,171.39 L76.12,171.37 L76.62,171.35 L77.12,171.33 L77.61,171.31 L78.11,171.29 L78.61,171.27 L79.11,171.24 L79.61,171.22 L80.11,171.19 L80.61,171.17 L81.11,171.14 L81.6,171.11 L82.1,171.07 L82.6,171.04 L83.1,171 L83.6,170.96 L84.1,170.92 L84.6,170.88 L85.1,170.83 L85.59,170.79 L86.09,170.75 L86.59,170.71 L87.09,170.66 L87.59,170.59 L88.09,170.51 L88.59,170.46 L89.09,170.5 L89.59,170.64 L90.08,170.82 L90.58,170.98 L91.08,171.05 L91.58,170.97 L92.08,170.76 L92.58,170.51 L93.08,170.28 L93.58,170.12 L94.07,169.95 L94.57,169.7 L95.07,169.42 L95.57,169.21 L96.07,169.08 L96.57,169.01 L97.07,168.93 L97.57,168.88 L98.06,168.85 L98.56,168.82 L99.06,168.77 L99.56,168.78 L100.06,168.82 L100.56,168.82 L101.06,168.75 L101.56,168.66 L102.06,168.58 L102.55,168.47 L103.05,168.27 L103.55,168.03 L104.05,167.82 L104.55,167.67 L105.05,167.58 L105.55,167.55 L106.05,167.62 L106.54,167.78 L107.04,167.9 L107.54,167.94 L108.04,167.88 L108.54,167.7 L109.04,167.49 L109.54,167.33 L110.04,167.21 L110.53,167.05 L111.03,166.82 L111.53,166.54 L112.03,166.29 L112.53,166.17 L113.03,166.19 L113.53,166.3 L114.03,166.45 L114.52,166.6 L115.02,166.73 L115.52,166.83 L116.02,166.81 L116.52,166.64 L117.02,166.36 L117.52,166 L118.02,165.68 L118.52,165.48 L119.01,165.37 L119.51,165.31 L120.01,165.26 L120.51,165.23 L121.01,165.27 L121.51,165.35 L122.01,165.39 L122.51,165.39 L123,165.34 L123.5,165.25 L124,165.14 L124.5,165 L125,164.87 L125.5,164.77 L126,164.71 L126.5,164.65 L126.99,164.52 L127.49,164.36 L127.99,164.18 L128.49,164 L128.99,163.9 L129.49,163.84 L129.99,163.79 L130.49,163.76 L130.99,163.7 L131.48,163.66 L131.98,163.72 L132.48,163.86 L132.98,164.01 L133.48,164.08 L133.98,163.94 L134.48,163.57 L134.98,163.02 L135.47,162.43 L135.97,161.98 L136.47,161.84 L136.97,162.06 L137.47,162.49 L137.97,162.91 L138.47,163.13 L138.97,163.07 L139.46,162.8 L139.96,162.51 L140.46,162.32 L140.96,162.26 L141.46,162.24 L141.96,162.18 L142.46,161.99 L142.96,161.62 L143.46,161.18 L143.95,160.84 L144.45,160.69 L144.95,160.72 L145.45,160.86 L145.95,161.03 L146.45,161.12 L146.95,161.02 L147.45,160.73 L147.94,160.38 L148.44,160.11 L148.94,160 L149.44,160.06 L149.94,160.22 L150.44,160.36 L150.94,160.39 L151.44,160.25 L151.93,160.05 L152.43,159.85 L152.93,159.73 L153.43,159.68 L153.93,159.72 L154.43,159.78 L154.93,159.88 L155.43,159.99 L155.93,160.07 L156.42,160.06 L156.92,159.88 L157.42,159.63 L157.92,159.46 L158.42,159.39 L158.92,159.4 L159.42,159.41 L159.92,159.3 L160.41,159.02 L160.91,158.68 L161.41,158.32 L161.91,158 L162.41,157.75 L162.91,157.56 L163.41,157.46 L163.91,157.43 L164.4,157.44 L164.9,157.4 L165.4,157.25 L165.9,157 L166.4,156.73 L166.9,156.5 L167.4,156.32 L167.9,156.16 L168.39,155.94 L168.89,155.66 L169.39,155.35 L169.89,155.01 L170.39,154.62 L170.89,154.19 L171.39,153.71 L171.89,153.17 L172.39,152.53 L172.88,151.82 L173.38,151.07 L173.88,150.32 L174.38,149.59 L174.88,148.87 L175.38,148.14 L175.88,147.41 L176.38,146.67 L176.87,145.92 L177.37,145.16 L177.87,144.38 L178.37,143.59 L178.87,142.78 L179.37,141.96 L179.87,141.11 L180.37,140.23 L180.86,139.33 L181.36,138.4 L181.86,137.45 L182.36,136.47 L182.86,135.47 L183.36,134.45 L183.86,133.41 L184.36,132.34 L184.86,131.26 L185.35,130.16 L185.85,129.04 L186.35,127.9 L186.85,126.74 L187.35,125.54 L187.85,124.3 L188.35,123.02 L188.85,121.68 L189.34,120.27 L189.84,118.81 L190.34,117.29 L190.84,115.68 L191.34,113.97 L191.84,112.13 L192.34,110.15 L192.84,107.93 L193.33,105.45 L193.83,102.76 L194.33,99.91 L194.83,96.58 L195.33,93.01 L195.83,89.84 L196.33,87.2 L196.83,84.79 L197.33,82.56 L197.82,80.44 L198.32,78.38 L198.82,76.3 L199.32,74.15 L199.82,71.87 L200.32,69.39 L200.82,66.7 L201.32,63.84 L201.81,60.86 L202.31,57.79 L202.81,54.69 L203.31,51.61 L203.81,48.59 L204.31,45.68 L204.81,42.92 L205.31,40.37 L205.8,37.89 L206.3,35.37 L206.8,32.87 L207.3,30.46 L207.8,28.2 L208.3,26.15 L208.8,24.39 L209.3,22.97 L209.8,21.88 L210.29,20.86 L210.79,19.92 L211.29,19.08 L211.79,18.4 L212.29,17.9 L212.79,17.63 L213.29,17.7 L213.79,18.1 L214.28,18.82 L214.78,19.84 L215.28,21.17 L215.78,22.8 L216.28,24.71 L216.78,26.89 L217.28,29.34 L217.78,32.03 L218.27,34.95 L218.77,38.09 L219.27,41.42 L219.77,44.93 L220.27,48.6 L220.77,52.41 L221.27,56.34 L221.77,60.37 L222.26,64.48 L222.76,68.65 L223.26,72.86 L223.76,77.09 L224.26,81.33 L224.76,85.56 L225.26,89.76 L225.76,93.92 L226.26,98.01 L226.75,102.04 L227.25,105.98 L227.75,109.82 L228.25,113.56 L228.75,117.19 L229.25,120.7 L229.75,124.08 L230.25,127.32 L230.74,130.43 L231.24,133.41 L231.74,136.24 L232.24,138.93 L232.74,141.48 L233.24,143.89 L233.74,146.16 L234.24,148.3 L234.73,150.3 L235.23,152.17 L235.73,153.91 L236.23,155.54 L236.73,157.04 L237.23,158.44 L237.73,159.73 L238.23,160.91 L238.73,162 L239.22,163 L239.72,163.91 L240.22,164.75 L240.72,165.5 L241.22,166.19 L241.72,166.81 L242.22,167.38 L242.72,167.88 L243.21,168.34 L243.71,168.75 L244.21,169.12 L244.71,169.44 L245.21,169.74 L245.71,170 L246.21,170.23 L246.71,170.43 L247.2,170.61 L247.7,170.77 L248.2,170.91 L248.7,171.03 L249.2,171.13 L249.7,171.23 L250.2,171.31 L250.7,171.38 L251.2,171.44 L251.69,171.49 L252.19,171.54 L252.69,171.58 L253.19,171.61 L253.69,171.64" fill="none" stroke="#000" stroke-width="1.45" stroke-linejoin="round"/>
<path d="M59.16,171.72 L59.66,171.72 L60.16,171.72 L60.65,171.71 L61.15,171.71 L61.65,171.7 L62.15,171.7 L62.65,171.69 L63.15,171.69 L63.65,171.68 L64.15,171.68 L64.65,171.67 L65.14,171.66 L65.64,171.66 L66.14,171.65 L66.64,171.64 L67.14,171.64 L67.64,171.63 L68.14,171.62 L68.64,171.61 L69.13,171.6 L69.63,171.59 L70.13,171.58 L70.63,171.57 L71.13,171.56 L71.63,171.55 L72.13,171.54 L72.63,171.53 L73.12,171.52 L73.62,171.5 L74.12,171.49 L74.62,171.48 L75.12,171.46 L75.62,171.45 L76.12,171.43 L76.62,171.42 L77.12,171.4 L77.61,171.38 L78.11,171.37 L78.61,171.35 L79.11,171.33 L79.61,171.31 L80.11,171.29 L80.61,171.27 L81.11,171.25 L81.6,171.23 L82.1,171.2 L82.6,171.18 L83.1,171.15 L83.6,171.13 L84.1,171.1 L84.6,171.07 L85.1,171.05 L85.59,171.02 L86.09,170.99 L86.59,170.96 L87.09,170.92 L87.59,170.89 L88.09,170.86 L88.59,170.82 L89.09,170.79 L89.59,170.75 L90.08,170.71 L90.58,170.67 L91.08,170.63 L91.58,170.59 L92.08,170.55 L92.58,170.5 L93.08,170.46 L93.58,170.41 L94.07,170.36 L94.57,170.31 L95.07,170.26 L95.57,170.21 L96.07,170.16 L96.57,170.11 L97.07,170.05 L97.57,169.99 L98.06,169.93 L98.56,169.87 L99.06,169.81 L99.56,169.75 L100.06,169.68 L100.56,169.62 L101.06,169.55 L101.56,169.48 L102.06,169.41 L102.55,169.34 L103.05,169.26 L103.55,169.19 L104.05,169.11 L104.55,169.03 L105.05,168.95 L105.55,168.87 L106.05,168.79 L106.54,168.7 L107.04,168.61 L107.54,168.53 L108.04,168.44 L108.54,168.34 L109.04,168.25 L109.54,168.15 L110.04,168.06 L110.53,167.96 L111.03,167.86 L111.53,167.76 L112.03,167.65 L112.53,167.55 L113.03,167.44 L113.53,167.33 L114.03,167.22 L114.52,167.11 L115.02,166.99 L115.52,166.88 L116.02,166.76 L116.52,166.64 L117.02,166.52 L117.52,166.4 L118.02,166.28 L118.52,166.16 L119.01,166.03 L119.51,165.9 L120.01,165.77 L120.51,165.64 L121.01,165.51 L121.51,165.38 L122.01,165.25 L122.51,165.11 L123,164.98 L123.5,164.84 L124,164.7 L124.5,164.56 L125,164.42 L125.5,164.28 L126,164.14 L126.5,163.99 L126.99,163.85 L127.49,163.7 L127.99,163.56 L128.49,163.41 L128.99,163.27 L129.49,163.12 L129.99,162.97 L130.49,162.82 L130.99,162.67 L131.48,162.53 L131.98,162.38 L132.48,162.23 L132.98,162.08 L133.48,161.93 L133.98,161.78 L134.48,161.63 L134.98,161.48 L135.47,161.34 L135.97,161.19 L136.47,161.04 L136.97,160.89 L137.47,160.75 L137.97,160.6 L138.47,160.46 L138.97,160.31 L139.46,160.17 L139.96,160.03 L140.46,159.89 L140.96,159.75 L141.46,159.61 L141.96,159.47 L142.46,159.34 L142.96,159.2 L143.46,159.07 L143.95,158.94 L144.45,158.81 L144.95,158.68 L145.45,158.55 L145.95,158.43 L146.45,158.31 L146.95,158.19 L147.45,158.07 L147.94,157.95 L148.44,157.84 L148.94,157.73 L149.44,157.62 L149.94,157.52 L150.44,157.41 L150.94,157.31 L151.44,157.22 L151.93,157.12 L152.43,157.03 L152.93,156.94 L153.43,156.85 L153.93,156.77 L154.43,156.69 L154.93,156.61 L155.43,156.54 L155.93,156.47 L156.42,156.4 L156.92,156.34 L157.42,156.28 L157.92,156.22 L158.42,156.17 L158.92,156.12 L159.42,156.07 L159.92,156.03 L160.41,155.99 L160.91,155.95 L161.41,155.92 L161.91,155.89 L162.41,155.87 L162.91,155.85 L163.41,155.83 L163.91,155.82 L164.4,155.81 L164.9,155.8 L165.4,155.8 L165.9,155.8 L166.4,155.81 L166.9,155.82 L167.4,155.83 L167.9,155.85 L168.39,155.87 L168.89,155.89 L169.39,155.92 L169.89,155.95 L170.39,155.99 L170.89,156.03 L171.39,156.07 L171.89,156.11 L172.39,156.16 L172.88,156.22 L173.38,156.27 L173.88,156.33 L174.38,156.4 L174.88,156.46 L175.38,156.53 L175.88,156.61 L176.38,156.68 L176.87,156.76 L177.37,156.85 L177.87,156.93 L178.37,157.02 L178.87,157.11 L179.37,157.21 L179.87,157.31 L180.37,157.41 L180.86,157.51 L181.36,157.62 L181.86,157.72 L182.36,157.83 L182.86,157.95 L183.36,158.06 L183.86,158.18 L184.36,158.3 L184.86,158.42 L185.35,158.55 L185.85,158.67 L186.35,158.8 L186.85,158.93 L187.35,159.06 L187.85,159.19 L188.35,159.33 L188.85,159.46 L189.34,159.6 L189.84,159.74 L190.34,159.88 L190.84,160.02 L191.34,160.16 L191.84,160.3 L192.34,160.45 L192.84,160.59 L193.33,160.74 L193.83,160.88 L194.33,161.03 L194.83,161.18 L195.33,161.33 L195.83,161.47 L196.33,161.62 L196.83,161.77 L197.33,161.92 L197.82,162.07 L198.32,162.22 L198.82,162.37 L199.32,162.52 L199.82,162.66 L200.32,162.81 L200.82,162.96 L201.32,163.11 L201.81,163.26 L202.31,163.4 L202.81,163.55 L203.31,163.69 L203.81,163.84 L204.31,163.98 L204.81,164.13 L205.31,164.27 L205.8,164.41 L206.3,164.55 L206.8,164.69 L207.3,164.83 L207.8,164.97 L208.3,165.1 L208.8,165.24 L209.3,165.37 L209.8,165.5 L210.29,165.64 L210.79,165.77 L211.29,165.89 L211.79,166.02 L212.29,166.15 L212.79,166.27 L213.29,166.39 L213.79,166.52 L214.28,166.64 L214.78,166.75 L215.28,166.87 L215.78,166.99 L216.28,167.1 L216.78,167.21 L217.28,167.32 L217.78,167.43 L218.27,167.54 L218.77,167.64 L219.27,167.75 L219.77,167.85 L220.27,167.95 L220.77,168.05 L221.27,168.15 L221.77,168.24 L222.26,168.34 L222.76,168.43 L223.26,168.52 L223.76,168.61 L224.26,168.7 L224.76,168.78 L225.26,168.86 L225.76,168.95 L226.26,169.03 L226.75,169.11 L227.25,169.18 L227.75,169.26 L228.25,169.33 L228.75,169.41 L229.25,169.48 L229.75,169.55 L230.25,169.61 L230.74,169.68 L231.24,169.74 L231.74,169.81 L232.24,169.87 L232.74,169.93 L233.24,169.99 L233.74,170.05 L234.24,170.1 L234.73,170.16 L235.23,170.21 L235.73,170.26 L236.23,170.31 L236.73,170.36 L237.23,170.41 L237.73,170.46 L238.23,170.5 L238.73,170.54 L239.22,170.59 L239.72,170.63 L240.22,170.67 L240.72,170.71 L241.22,170.75 L241.72,170.78 L242.22,170.82 L242.72,170.86 L243.21,170.89 L243.71,170.92 L244.21,170.95 L244.71,170.99 L245.21,171.02 L245.71,171.04 L246.21,171.07 L246.71,171.1 L247.2,171.13 L247.7,171.15 L248.2,171.18 L248.7,171.2 L249.2,171.22 L249.7,171.25 L250.2,171.27 L250.7,171.29 L251.2,171.31 L251.69,171.33 L252.19,171.35 L252.69,171.37 L253.19,171.38 L253.69,171.4 L254.19,171.42 L254.69,171.43 L255.19,171.45 L255.68,171.46 L256.18,171.48 L256.68,171.49 L257.18,171.5 L257.68,171.52 L258.18,171.53 L258.68,171.54 L259.18,171.55 L259.67,171.56 L260.17,171.57 L260.67,171.58 L261.17,171.59 L261.67,171.6 L262.17,171.61 L262.67,171.62 L263.17,171.63 L263.67,171.63 L264.16,171.64 L264.66,171.65 L265.16,171.66 L265.66,171.66 L266.16,171.67 L266.66,171.68 L267.16,171.68 L267.66,171.69 L268.15,171.69 L268.65,171.7 L269.15,171.7 L269.65,171.71 L270.15,171.71 L270.65,171.72 L271.15,171.72 L271.65,171.72 L272.14,171.73" fill="none" stroke="#DC3038" stroke-width="1.4"/>
<path d="M46.69,171.8 L47.19,171.8 L47.69,171.8 L48.19,171.8 L48.68,171.8 L49.18,171.8 L49.68,171.8 L50.18,171.8 L50.68,171.8 L51.18,171.8 L51.68,171.8 L52.18,171.8 L52.67,171.8 L53.17,171.8 L53.67,171.8 L54.17,171.8 L54.67,171.8 L55.17,171.8 L55.67,171.8 L56.17,171.8 L56.66,171.8 L57.16,171.8 L57.66,171.8 L58.16,171.8 L58.66,171.8 L59.16,171.8 L59.66,171.8 L60.16,171.8 L60.65,171.8 L61.15,171.8 L61.65,171.8 L62.15,171.8 L62.65,171.8 L63.15,171.8 L63.65,171.8 L64.15,171.8 L64.65,171.8 L65.14,171.8 L65.64,171.8 L66.14,171.8 L66.64,171.8 L67.14,171.8 L67.64,171.8 L68.14,171.8 L68.64,171.8 L69.13,171.8 L69.63,171.8 L70.13,171.8 L70.63,171.8 L71.13,171.8 L71.63,171.8 L72.13,171.8 L72.63,171.8 L73.12,171.8 L73.62,171.8 L74.12,171.8 L74.62,171.8 L75.12,171.8 L75.62,171.8 L76.12,171.8 L76.62,171.8 L77.12,171.8 L77.61,171.8 L78.11,171.8 L78.61,171.8 L79.11,171.8 L79.61,171.8 L80.11,171.8 L80.61,171.8 L81.11,171.8 L81.6,171.8 L82.1,171.8 L82.6,171.8 L83.1,171.8 L83.6,171.8 L84.1,171.8 L84.6,171.8 L85.1,171.8 L85.59,171.8 L86.09,171.8 L86.59,171.8 L87.09,171.8 L87.59,171.8 L88.09,171.8 L88.59,171.8 L89.09,171.8 L89.59,171.8 L90.08,171.8 L90.58,171.8 L91.08,171.8 L91.58,171.8 L92.08,171.8 L92.58,171.8 L93.08,171.8 L93.58,171.8 L94.07,171.8 L94.57,171.8 L95.07,171.8 L95.57,171.8 L96.07,171.8 L96.57,171.8 L97.07,171.8 L97.57,171.8 L98.06,171.8 L98.56,171.8 L99.06,171.8 L99.56,171.8 L100.06,171.8 L100.56,171.8 L101.06,171.8 L101.56,171.8 L102.06,171.8 L102.55,171.8 L103.05,171.8 L103.55,171.8 L104.05,171.8 L104.55,171.8 L105.05,171.8 L105.55,171.8 L106.05,171.8 L106.54,171.8 L107.04,171.8 L107.54,171.8 L108.04,171.8 L108.54,171.8 L109.04,171.8 L109.54,171.8 L110.04,171.8 L110.53,171.8 L111.03,171.8 L111.53,171.8 L112.03,171.8 L112.53,171.8 L113.03,171.8 L113.53,171.8 L114.03,171.8 L114.52,171.8 L115.02,171.8 L115.52,171.8 L116.02,171.8 L116.52,171.8 L117.02,171.8 L117.52,171.8 L118.02,171.8 L118.52,171.8 L119.01,171.8 L119.51,171.8 L120.01,171.8 L120.51,171.8 L121.01,171.8 L121.51,171.8 L122.01,171.8 L122.51,171.8 L123,171.8 L123.5,171.8 L124,171.8 L124.5,171.8 L125,171.8 L125.5,171.8 L126,171.8 L126.5,171.8 L126.99,171.8 L127.49,171.8 L127.99,171.8 L128.49,171.8 L128.99,171.8 L129.49,171.8 L129.99,171.8 L130.49,171.8 L130.99,171.8 L131.48,171.8 L131.98,171.8 L132.48,171.8 L132.98,171.8 L133.48,171.8 L133.98,171.8 L134.48,171.8 L134.98,171.8 L135.47,171.8 L135.97,171.8 L136.47,171.8 L136.97,171.8 L137.47,171.8 L137.97,171.8 L138.47,171.8 L138.97,171.8 L139.46,171.8 L139.96,171.8 L140.46,171.8 L140.96,171.8 L141.46,171.8 L141.96,171.8 L142.46,171.8 L142.96,171.8 L143.46,171.8 L143.95,171.8 L144.45,171.8 L144.95,171.8 L145.45,171.8 L145.95,171.8 L146.45,171.8 L146.95,171.8 L147.45,171.8 L147.94,171.8 L148.44,171.8 L148.94,171.8 L149.44,171.8 L149.94,171.8 L150.44,171.8 L150.94,171.8 L151.44,171.8 L151.93,171.8 L152.43,171.8 L152.93,171.8 L153.43,171.8 L153.93,171.8 L154.43,171.79 L154.93,171.79 L155.43,171.79 L155.93,171.79 L156.42,171.79 L156.92,171.79 L157.42,171.78 L157.92,171.78 L158.42,171.78 L158.92,171.77 L159.42,171.77 L159.92,171.76 L160.41,171.76 L160.91,171.75 L161.41,171.74 L161.91,171.73 L162.41,171.72 L162.91,171.7 L163.41,171.69 L163.91,171.67 L164.4,171.65 L164.9,171.62 L165.4,171.59 L165.9,171.56 L166.4,171.52 L166.9,171.48 L167.4,171.43 L167.9,171.38 L168.39,171.31 L168.89,171.24 L169.39,171.16 L169.89,171.07 L170.39,170.97 L170.89,170.85 L171.39,170.73 L171.89,170.58 L172.39,170.42 L172.88,170.24 L173.38,170.04 L173.88,169.81 L174.38,169.57 L174.88,169.29 L175.38,168.98 L175.88,168.65 L176.38,168.28 L176.87,167.87 L177.37,167.42 L177.87,166.93 L178.37,166.39 L178.87,165.8 L179.37,165.16 L179.87,164.46 L180.37,163.7 L180.86,162.88 L181.36,161.99 L181.86,161.03 L182.36,159.99 L182.86,158.87 L183.36,157.68 L183.86,156.4 L184.36,155.03 L184.86,153.56 L185.35,152 L185.85,150.35 L186.35,148.59 L186.85,146.73 L187.35,144.77 L187.85,142.69 L188.35,140.51 L188.85,138.23 L189.34,135.83 L189.84,133.33 L190.34,130.72 L190.84,128 L191.34,125.18 L191.84,122.26 L192.34,119.25 L192.84,116.14 L193.33,112.94 L193.83,109.66 L194.33,106.31 L194.83,102.89 L195.33,99.4 L195.83,95.87 L196.33,92.29 L196.83,88.68 L197.33,85.05 L197.82,81.41 L198.32,77.77 L198.82,74.14 L199.32,70.54 L199.82,66.97 L200.32,63.46 L200.82,60.01 L201.32,56.64 L201.81,53.37 L202.31,50.2 L202.81,47.14 L203.31,44.23 L203.81,41.45 L204.31,38.83 L204.81,36.39 L205.31,34.12 L205.8,32.04 L206.3,30.16 L206.8,28.49 L207.3,27.04 L207.8,25.82 L208.3,24.82 L208.8,24.06 L209.3,23.54 L209.8,23.25 L210.29,23.21 L210.79,23.42 L211.29,23.86 L211.79,24.55 L212.29,25.47 L212.79,26.62 L213.29,28 L213.79,29.6 L214.28,31.41 L214.78,33.42 L215.28,35.63 L215.78,38.02 L216.28,40.58 L216.78,43.31 L217.28,46.18 L217.78,49.19 L218.27,52.33 L218.77,55.57 L219.27,58.91 L219.77,62.33 L220.27,65.83 L220.77,69.37 L221.27,72.97 L221.77,76.59 L222.26,80.23 L222.76,83.87 L223.26,87.51 L223.76,91.12 L224.26,94.71 L224.76,98.26 L225.26,101.76 L225.76,105.21 L226.26,108.58 L226.75,111.89 L227.25,115.11 L227.75,118.25 L228.25,121.3 L228.75,124.25 L229.25,127.1 L229.75,129.85 L230.25,132.49 L230.74,135.03 L231.24,137.46 L231.74,139.78 L232.24,142 L232.74,144.1 L233.24,146.1 L233.74,148 L234.24,149.79 L234.73,151.48 L235.23,153.07 L235.73,154.56 L236.23,155.96 L236.73,157.27 L237.23,158.5 L237.73,159.64 L238.23,160.7 L238.73,161.68 L239.22,162.6 L239.72,163.44 L240.22,164.22 L240.72,164.94 L241.22,165.6 L241.72,166.2 L242.22,166.76 L242.72,167.26 L243.21,167.73 L243.71,168.15 L244.21,168.53 L244.71,168.88 L245.21,169.19 L245.71,169.48 L246.21,169.74 L246.71,169.97 L247.2,170.18 L247.7,170.36 L248.2,170.53 L248.7,170.68 L249.2,170.81 L249.7,170.93 L250.2,171.04 L250.7,171.13 L251.2,171.22 L251.69,171.29 L252.19,171.36 L252.69,171.41 L253.19,171.46 L253.69,171.51 L254.19,171.55 L254.69,171.58 L255.19,171.61 L255.68,171.64 L256.18,171.66 L256.68,171.68 L257.18,171.7 L257.68,171.71 L258.18,171.72 L258.68,171.74 L259.18,171.75 L259.67,171.75 L260.17,171.76 L260.67,171.77 L261.17,171.77 L261.67,171.78 L262.17,171.78 L262.67,171.78 L263.17,171.79 L263.67,171.79 L264.16,171.79 L264.66,171.79 L265.16,171.79 L265.66,171.79 L266.16,171.8 L266.66,171.8 L267.16,171.8 L267.66,171.8 L268.15,171.8 L268.65,171.8 L269.15,171.8 L269.65,171.8 L270.15,171.8 L270.65,171.8 L271.15,171.8 L271.65,171.8 L272.14,171.8 L272.64,171.8 L273.14,171.8 L273.64,171.8 L274.14,171.8 L274.64,171.8 L275.14,171.8 L275.64,171.8 L276.13,171.8 L276.63,171.8 L277.13,171.8 L277.63,171.8 L278.13,171.8 L278.63,171.8 L279.13,171.8 L279.63,171.8 L280.13,171.8 L280.62,171.8 L281.12,171.8 L281.62,171.8 L282.12,171.8 L282.62,171.8 L283.12,171.8 L283.62,171.8 L284.12,171.8 L284.61,171.8 L285.11,171.8 L285.61,171.8 L286.11,171.8 L286.61,171.8 L287.11,171.8 L287.61,171.8 L288.11,171.8 L288.6,171.8 L289.1,171.8 L289.6,171.8 L290.1,171.8 L290.6,171.8 L291.1,171.8 L291.6,171.8 L292.1,171.8 L292.6,171.8 L293.09,171.8 L293.59,171.8 L294.09,171.8 L294.59,171.8 L295.09,171.8 L295.59,171.8 L296.09,171.8 L296.59,171.8 L297.08,171.8 L297.58,171.8 L298.08,171.8 L298.58,171.8 L299.08,171.8 L299.58,171.8 L300.08,171.8 L300.58,171.8 L301.07,171.8 L301.57,171.8 L302.07,171.8 L302.57,171.8 L303.07,171.8 L303.57,171.8 L304.07,171.8 L304.57,171.8 L305.07,171.8 L305.56,171.8 L306.06,171.8 L306.56,171.8 L307.06,171.8 L307.56,171.8 L308.06,171.8 L308.56,171.8 L309.06,171.8 L309.55,171.8 L310.05,171.8 L310.55,171.8 L311.05,171.8 L311.55,171.8 L312.05,171.8 L312.55,171.8 L313.05,171.8 L313.54,171.8 L314.04,171.8 L314.54,171.8 L315.04,171.8 L315.54,171.8 L316.04,171.8 L316.54,171.8 L317.04,171.8 L317.54,171.8 L318.03,171.8 L318.53,171.8 L319.03,171.8 L319.53,171.8 L320.03,171.8 L320.53,171.8 L321.03,171.8 L321.53,171.8 L322.02,171.8 L322.52,171.8 L323.02,171.8 L323.52,171.8 L324.02,171.8 L324.52,171.8 L325.02,171.8 L325.52,171.8 L326.01,171.8 L326.51,171.8 L327.01,171.8 L327.51,171.8 L328.01,171.8 L328.51,171.8 L329.01,171.8 L329.51,171.8 L330,171.8 L330.5,171.8 L331,171.8 L331.5,171.8 L332,171.8 L332.5,171.8 L333,171.8 L333.5,171.8 L334,171.8 L334.49,171.8 L334.99,171.8 L335.49,171.8 L335.99,171.8 L336.49,171.8 L336.99,171.8 L337.49,171.8 L337.99,171.8 L338.48,171.8 L338.98,171.8 L339.48,171.8 L339.98,171.8 L340.48,171.8 L340.98,171.8 L341.48,171.8 L341.98,171.8 L342.47,171.8 L342.97,171.8 L343.47,171.8 L343.97,171.8 L344.47,171.8 L344.97,171.8 L345.47,171.8" fill="none" stroke="#3D5AAA" stroke-width="1.4"/>
<line x1="32.3" y1="9.7" x2="32.3" y2="182.4" stroke="#000" stroke-width="1.3"/>
<line x1="31.7" y1="179.5" x2="360.4" y2="179.5" stroke="#000" stroke-width="1.4"/>
<line x1="29.5" y1="171.8" x2="32.3" y2="171.8" stroke="#000" stroke-width="1.3"/>
<text x="25.6" y="175.2" font-size="9.3" text-anchor="end" fill="#000">0.0</text>
<line x1="29.5" y1="123.5" x2="32.3" y2="123.5" stroke="#000" stroke-width="1.3"/>
<text x="25.6" y="126.9" font-size="9.3" text-anchor="end" fill="#000">0.2</text>
<line x1="29.5" y1="75.2" x2="32.3" y2="75.2" stroke="#000" stroke-width="1.3"/>
<text x="25.6" y="78.6" font-size="9.3" text-anchor="end" fill="#000">0.4</text>
<line x1="29.5" y1="26.9" x2="32.3" y2="26.9" stroke="#000" stroke-width="1.3"/>
<text x="25.6" y="30.3" font-size="9.3" text-anchor="end" fill="#000">0.6</text>
<line x1="32.28" y1="179.5" x2="32.28" y2="182.4" stroke="#000" stroke-width="1.3"/>
<text x="32.28" y="192.9" font-size="9.3" text-anchor="middle" fill="#000">−7.5</text>
<line x1="93.35" y1="179.5" x2="93.35" y2="182.4" stroke="#000" stroke-width="1.3"/>
<text x="91.45" y="192.9" font-size="9.3" text-anchor="middle" fill="#000">−5.0</text>
<line x1="154.43" y1="179.5" x2="154.43" y2="182.4" stroke="#000" stroke-width="1.3"/>
<text x="152.43" y="192.9" font-size="9.3" text-anchor="middle" fill="#000">−2.5</text>
<line x1="215.5" y1="179.5" x2="215.5" y2="182.4" stroke="#000" stroke-width="1.3"/>
<text x="215.3" y="192.9" font-size="9.3" text-anchor="middle" fill="#000">0.0</text>
<line x1="276.57" y1="179.5" x2="276.57" y2="182.4" stroke="#000" stroke-width="1.3"/>
<text x="276.07" y="192.9" font-size="9.3" text-anchor="middle" fill="#000">2.5</text>
<line x1="337.65" y1="179.5" x2="337.65" y2="182.4" stroke="#000" stroke-width="1.3"/>
<text x="337.65" y="192.9" font-size="9.3" text-anchor="middle" fill="#000">5.0</text>
<text x="4" y="9.8" font-size="17" text-anchor="start" fill="#000" font-weight="bold">a</text>
<text x="50.4" y="53.2" font-size="10.1" text-anchor="start" fill="#000">Meningioma cell line F5</text>
<text x="7.3" y="92.8" font-size="9.1" text-anchor="middle" fill="#000" transform="rotate(-90 7.3 92.8)">Density</text>
<text x="169.8" y="206" font-size="9">Mean log<tspan font-size="6" dy="2">2</tspan><tspan dy="-2">(FC)</tspan></text>
<rect x="277.7" y="41.3" width="67.8" height="26.2" fill="#fff" stroke="#222" stroke-width="0.8"/>
<line x1="281.2" y1="49.1" x2="292.5" y2="49.1" stroke="#3D5CAA" stroke-width="1.3"/>
<line x1="281.2" y1="58.9" x2="292.5" y2="58.9" stroke="#E0262B" stroke-width="1.3"/>
<text x="294.6" y="51.8" font-size="7.2" text-anchor="start" fill="#000">No Fitness</text>
<text x="294.6" y="61.6" font-size="7.2" text-anchor="start" fill="#000">Loss of Fitness</text>
<text x="256.5" y="159.2" font-size="8.7" text-anchor="start" fill="#000" transform="rotate(-45 256.5 159.2)">TP53BP1</text>
<text x="272.3" y="159.2" font-size="8.7" text-anchor="start" fill="#000" transform="rotate(-45 272.3 159.2)">CHEK2</text>
<text x="302.4" y="159.2" font-size="8.7" text-anchor="start" fill="#000" transform="rotate(-45 302.4 159.2)">CDKN1A</text>
<text x="343.2" y="159.2" font-size="8.7" text-anchor="start" fill="#000" transform="rotate(-45 343.2 159.2)">TP53</text>
<line x1="430.05" y1="6.6" x2="430.05" y2="129" stroke="#EBEBEB" stroke-width="0.9"/>
<line x1="442.55" y1="6.6" x2="442.55" y2="129" stroke="#EBEBEB" stroke-width="0.9"/>
<line x1="455.05" y1="6.6" x2="455.05" y2="129" stroke="#EBEBEB" stroke-width="0.9"/>
<line x1="467.55" y1="6.6" x2="467.55" y2="129" stroke="#EBEBEB" stroke-width="0.9"/>
<line x1="480.05" y1="6.6" x2="480.05" y2="129" stroke="#EBEBEB" stroke-width="0.9"/>
<line x1="492.55" y1="6.6" x2="492.55" y2="129" stroke="#EBEBEB" stroke-width="0.9"/>
<line x1="505.05" y1="6.6" x2="505.05" y2="129" stroke="#EBEBEB" stroke-width="0.9"/>
<line x1="517.55" y1="6.6" x2="517.55" y2="129" stroke="#EBEBEB" stroke-width="0.9"/>
<line x1="530.05" y1="6.6" x2="530.05" y2="129" stroke="#EBEBEB" stroke-width="0.9"/>
<line x1="542.55" y1="6.6" x2="542.55" y2="129" stroke="#EBEBEB" stroke-width="0.9"/>
<line x1="555.05" y1="6.6" x2="555.05" y2="129" stroke="#EBEBEB" stroke-width="0.9"/>
<line x1="567.55" y1="6.6" x2="567.55" y2="129" stroke="#EBEBEB" stroke-width="0.9"/>
<line x1="580.05" y1="6.6" x2="580.05" y2="129" stroke="#EBEBEB" stroke-width="0.9"/>
<line x1="592.55" y1="6.6" x2="592.55" y2="129" stroke="#EBEBEB" stroke-width="0.9"/>
<line x1="605.05" y1="6.6" x2="605.05" y2="129" stroke="#EBEBEB" stroke-width="0.9"/>
<line x1="617.55" y1="6.6" x2="617.55" y2="129" stroke="#EBEBEB" stroke-width="0.9"/>
<line x1="630.05" y1="6.6" x2="630.05" y2="129" stroke="#EBEBEB" stroke-width="0.9"/>
<line x1="642.55" y1="6.6" x2="642.55" y2="129" stroke="#EBEBEB" stroke-width="0.9"/>
<line x1="655.05" y1="6.6" x2="655.05" y2="129" stroke="#EBEBEB" stroke-width="0.9"/>
<line x1="667.55" y1="6.6" x2="667.55" y2="129" stroke="#EBEBEB" stroke-width="0.9"/>
<line x1="422.7" y1="123.9" x2="675.5" y2="123.9" stroke="#EBEBEB" stroke-width="0.9"/>
<line x1="422.7" y1="79.9" x2="675.5" y2="79.9" stroke="#EBEBEB" stroke-width="0.9"/>
<line x1="422.7" y1="35.9" x2="675.5" y2="35.9" stroke="#EBEBEB" stroke-width="0.9"/>
<rect x="424.05" y="11.26" width="12" height="112.84" fill="#4A9A7E" stroke="#BCC8C2" stroke-width="0.6"/>
<rect x="436.55" y="45.58" width="12" height="78.52" fill="#4A9A7E" stroke="#BCC8C2" stroke-width="0.6"/>
<rect x="449.05" y="46.9" width="12" height="77.2" fill="#4878B8" stroke="#BCC8C2" stroke-width="0.6"/>
<rect x="461.55" y="51.74" width="12" height="72.36" fill="#4A9A7E" stroke="#BCC8C2" stroke-width="0.6"/>
<rect x="474.05" y="54.6" width="12" height="69.5" fill="#4878B8" stroke="#BCC8C2" stroke-width="0.6"/>
<rect x="486.55" y="66.7" width="12" height="57.4" fill="#4878B8" stroke="#BCC8C2" stroke-width="0.6"/>
<rect x="499.05" y="77.26" width="12" height="46.84" fill="#4A9A7E" stroke="#BCC8C2" stroke-width="0.6"/>
<rect x="511.55" y="78.14" width="12" height="45.96" fill="#4878B8" stroke="#BCC8C2" stroke-width="0.6"/>
<rect x="524.05" y="79.68" width="12" height="44.42" fill="#4A9A7E" stroke="#BCC8C2" stroke-width="0.6"/>
<rect x="536.55" y="81.66" width="12" height="42.44" fill="#4878B8" stroke="#BCC8C2" stroke-width="0.6"/>
<rect x="549.05" y="83.2" width="12" height="40.9" fill="#4A9A7E" stroke="#BCC8C2" stroke-width="0.6"/>
<rect x="561.55" y="89.14" width="12" height="34.96" fill="#4878B8" stroke="#BCC8C2" stroke-width="0.6"/>
<rect x="574.05" y="90.59" width="12" height="33.51" fill="#4A9A7E" stroke="#BCC8C2" stroke-width="0.6"/>
<rect x="586.55" y="94.6" width="12" height="29.5" fill="#4878B8" stroke="#BCC8C2" stroke-width="0.6"/>
<rect x="599.05" y="100.49" width="12" height="23.61" fill="#4878B8" stroke="#BCC8C2" stroke-width="0.6"/>
<rect x="611.55" y="104.01" width="12" height="20.09" fill="#4878B8" stroke="#BCC8C2" stroke-width="0.6"/>
<rect x="624.05" y="104.76" width="12" height="19.34" fill="#4A9A7E" stroke="#BCC8C2" stroke-width="0.6"/>
<rect x="636.55" y="105.42" width="12" height="18.68" fill="#4878B8" stroke="#BCC8C2" stroke-width="0.6"/>
<rect x="649.05" y="106.17" width="12" height="17.93" fill="#4A9A7E" stroke="#BCC8C2" stroke-width="0.6"/>
<rect x="661.55" y="106.17" width="12" height="17.93" fill="#4878B8" stroke="#BCC8C2" stroke-width="0.6"/>
<line x1="422.7" y1="6.6" x2="422.7" y2="130.1" stroke="#000" stroke-width="1.3"/>
<line x1="422.1" y1="129.4" x2="675.5" y2="129.4" stroke="#000" stroke-width="1.3"/>
<line x1="420" y1="123.9" x2="422.7" y2="123.9" stroke="#000" stroke-width="1.1"/>
<text x="418.3" y="127.2" font-size="9.2" text-anchor="end" fill="#000">0</text>
<line x1="420" y1="79.9" x2="422.7" y2="79.9" stroke="#000" stroke-width="1.1"/>
<text x="418.3" y="83.2" font-size="9.2" text-anchor="end" fill="#000">10</text>
<line x1="420" y1="35.9" x2="422.7" y2="35.9" stroke="#000" stroke-width="1.1"/>
<text x="418.3" y="39.2" font-size="9.2" text-anchor="end" fill="#000">20</text>
<line x1="430.05" y1="129.4" x2="430.05" y2="132.6" stroke="#000" stroke-width="1.1"/>
<text x="434.35" y="136.3" font-size="9.2" text-anchor="end" fill="#000" transform="rotate(-90 434.35 136.3)">PTEN</text>
<line x1="442.55" y1="129.4" x2="442.55" y2="132.6" stroke="#000" stroke-width="1.1"/>
<text x="446.85" y="136.3" font-size="9.2" text-anchor="end" fill="#000" transform="rotate(-90 446.85 136.3)">TP53</text>
<line x1="455.05" y1="129.4" x2="455.05" y2="132.6" stroke="#000" stroke-width="1.1"/>
<text x="459.35" y="136.3" font-size="9.2" text-anchor="end" fill="#000" transform="rotate(-90 459.35 136.3)">PDCD10</text>
<line x1="467.55" y1="129.4" x2="467.55" y2="132.6" stroke="#000" stroke-width="1.1"/>
<text x="471.85" y="136.3" font-size="9.2" text-anchor="end" fill="#000" transform="rotate(-90 471.85 136.3)">NF2</text>
<line x1="480.05" y1="129.4" x2="480.05" y2="132.6" stroke="#000" stroke-width="1.1"/>
<text x="484.35" y="136.3" font-size="9.2" text-anchor="end" fill="#000" transform="rotate(-90 484.35 136.3)">LILRA6</text>
<line x1="492.55" y1="129.4" x2="492.55" y2="132.6" stroke="#000" stroke-width="1.1"/>
<text x="496.85" y="136.3" font-size="9.2" text-anchor="end" fill="#000" transform="rotate(-90 496.85 136.3)">ZNF611</text>
<line x1="505.05" y1="129.4" x2="505.05" y2="132.6" stroke="#000" stroke-width="1.1"/>
<text x="509.35" y="136.3" font-size="9.2" text-anchor="end" fill="#000" transform="rotate(-90 509.35 136.3)">TSC1</text>
<line x1="517.55" y1="129.4" x2="517.55" y2="132.6" stroke="#000" stroke-width="1.1"/>
<text x="521.85" y="136.3" font-size="9.2" text-anchor="end" fill="#000" transform="rotate(-90 521.85 136.3)">VCX3B</text>
<line x1="530.05" y1="129.4" x2="530.05" y2="132.6" stroke="#000" stroke-width="1.1"/>
<text x="534.35" y="136.3" font-size="9.2" text-anchor="end" fill="#000" transform="rotate(-90 534.35 136.3)">TSC2</text>
<line x1="542.55" y1="129.4" x2="542.55" y2="132.6" stroke="#000" stroke-width="1.1"/>
<text x="546.85" y="136.3" font-size="9.2" text-anchor="end" fill="#000" transform="rotate(-90 546.85 136.3)">TAOK1</text>
<line x1="555.05" y1="129.4" x2="555.05" y2="132.6" stroke="#000" stroke-width="1.1"/>
<text x="559.35" y="136.3" font-size="9.2" text-anchor="end" fill="#000" transform="rotate(-90 559.35 136.3)">CDKN1A</text>
<line x1="567.55" y1="129.4" x2="567.55" y2="132.6" stroke="#000" stroke-width="1.1"/>
<text x="571.85" y="136.3" font-size="9.2" text-anchor="end" fill="#000" transform="rotate(-90 571.85 136.3)">KIRREL1</text>
<line x1="580.05" y1="129.4" x2="580.05" y2="132.6" stroke="#000" stroke-width="1.1"/>
<text x="584.35" y="136.3" font-size="9.2" text-anchor="end" fill="#000" transform="rotate(-90 584.35 136.3)">KEAP1</text>
<line x1="592.55" y1="129.4" x2="592.55" y2="132.6" stroke="#000" stroke-width="1.1"/>
<text x="596.85" y="136.3" font-size="9.2" text-anchor="end" fill="#000" transform="rotate(-90 596.85 136.3)">AMBRA1</text>
<line x1="605.05" y1="129.4" x2="605.05" y2="132.6" stroke="#000" stroke-width="1.1"/>
<text x="609.35" y="136.3" font-size="9.2" text-anchor="end" fill="#000" transform="rotate(-90 609.35 136.3)">MAP4K4</text>
<line x1="617.55" y1="129.4" x2="617.55" y2="132.6" stroke="#000" stroke-width="1.1"/>
<text x="621.85" y="136.3" font-size="9.2" text-anchor="end" fill="#000" transform="rotate(-90 621.85 136.3)">TAF5L</text>
<line x1="630.05" y1="129.4" x2="630.05" y2="132.6" stroke="#000" stroke-width="1.1"/>
<text x="634.35" y="136.3" font-size="9.2" text-anchor="end" fill="#000" transform="rotate(-90 634.35 136.3)">RB1</text>
<line x1="642.55" y1="129.4" x2="642.55" y2="132.6" stroke="#000" stroke-width="1.1"/>
<text x="646.85" y="136.3" font-size="9.2" text-anchor="end" fill="#000" transform="rotate(-90 646.85 136.3)">IGFL1</text>
<line x1="655.05" y1="129.4" x2="655.05" y2="132.6" stroke="#000" stroke-width="1.1"/>
<text x="659.35" y="136.3" font-size="9.2" text-anchor="end" fill="#000" transform="rotate(-90 659.35 136.3)">ARNT</text>
<line x1="667.55" y1="129.4" x2="667.55" y2="132.6" stroke="#000" stroke-width="1.1"/>
<text x="671.85" y="136.3" font-size="9.2" text-anchor="end" fill="#000" transform="rotate(-90 671.85 136.3)">FRYL</text>
<text x="406.2" y="87" font-size="8.8" text-anchor="middle" fill="#000" transform="rotate(-90 406.2 87)">Percent of Cell Lines</text>
<text x="385" y="9.6" font-size="17" text-anchor="start" fill="#000" font-weight="bold">e</text>
<rect x="607.2" y="4" width="66.7" height="26.3" fill="#fff" stroke="#222" stroke-width="0.8"/>
<rect x="608.8" y="7.8" width="9" height="9.2" fill="#4A9A7E"/>
<rect x="608.8" y="17.7" width="9" height="9" fill="#4878B8"/>
<text x="620.6" y="15.5" font-size="7.9" text-anchor="start" fill="#000">COSMIC TSG</text>
<text x="620.6" y="25.1" font-size="7.9" text-anchor="start" fill="#000">Other Gene</text>
<line x1="30.5" y1="241.2" x2="186.2" y2="241.2" stroke="#EBEBEB" stroke-width="0.9"/>
<line x1="30.5" y1="286.9" x2="186.2" y2="286.9" stroke="#EBEBEB" stroke-width="0.9"/>
<line x1="30.5" y1="332.6" x2="186.2" y2="332.6" stroke="#EBEBEB" stroke-width="0.9"/>
<line x1="97.9" y1="240.9" x2="97.9" y2="366.2" stroke="#EBEBEB" stroke-width="0.9"/>
<line x1="151.9" y1="240.9" x2="151.9" y2="366.2" stroke="#EBEBEB" stroke-width="0.9"/>
<line x1="30.5" y1="240.9" x2="30.5" y2="367.5" stroke="#000" stroke-width="1.3"/>
<line x1="29.9" y1="366.8" x2="186.2" y2="366.8" stroke="#000" stroke-width="1.3"/>
<line x1="27.8" y1="241.2" x2="30.5" y2="241.2" stroke="#000" stroke-width="1.1"/>
<text x="26.2" y="243.2" font-size="9.5" text-anchor="end" fill="#000">10</text>
<line x1="27.8" y1="286.9" x2="30.5" y2="286.9" stroke="#000" stroke-width="1.1"/>
<text x="26.2" y="288.9" font-size="9.5" text-anchor="end" fill="#000">5</text>
<line x1="27.8" y1="332.6" x2="30.5" y2="332.6" stroke="#000" stroke-width="1.1"/>
<text x="26.2" y="334.6" font-size="9.5" text-anchor="end" fill="#000">0</text>
<line x1="97.9" y1="366.8" x2="97.9" y2="369.6" stroke="#000" stroke-width="1.1"/>
<line x1="151.9" y1="366.8" x2="151.9" y2="369.6" stroke="#000" stroke-width="1.1"/>
<text x="75.4" y="378.9" font-size="9.1" text-anchor="start" fill="#000">Mutation</text>
<text x="124.2" y="378.9" font-size="9.1" text-anchor="start" fill="#000">None Detected</text>
<text x="110.8" y="234.2" font-size="9.2" text-anchor="middle" fill="#000">TP53</text>
<text x="3.3" y="238" font-size="17" text-anchor="start" fill="#000" font-weight="bold">b</text>
<text transform="translate(13.2 297.8) rotate(-90)" font-size="9" text-anchor="middle">Mean log<tspan font-size="6" dy="2">2</tspan><tspan dy="-2">(FC)</tspan></text>
<text x="56.8" y="263.3" font-size="9" text-anchor="start" fill="#E0262B">p = 2.2e−74</text>
<g fill="#000">
<circle cx="97.7" cy="322.7" r="1.0"/>
<circle cx="96.9" cy="323.5" r="1.0"/>
<circle cx="98.0" cy="323.6" r="1.0"/>
<circle cx="98.9" cy="323.5" r="1.0"/>
<circle cx="96.5" cy="324.5" r="1.0"/>
<circle cx="97.4" cy="324.4" r="1.0"/>
<circle cx="98.8" cy="324.5" r="1.0"/>
<circle cx="99.8" cy="324.8" r="1.0"/>
<circle cx="95.6" cy="326.0" r="1.0"/>
<circle cx="97.0" cy="325.6" r="1.0"/>
<circle cx="98.1" cy="326.0" r="1.0"/>
<circle cx="99.2" cy="326.0" r="1.0"/>
<circle cx="100.3" cy="325.8" r="1.0"/>
<circle cx="94.8" cy="327.0" r="1.0"/>
<circle cx="96.1" cy="326.6" r="1.0"/>
<circle cx="97.1" cy="326.7" r="1.0"/>
<circle cx="98.5" cy="326.9" r="1.0"/>
<circle cx="99.5" cy="326.6" r="1.0"/>
<circle cx="100.7" cy="326.6" r="1.0"/>
<circle cx="94.2" cy="328.1" r="1.0"/>
<circle cx="95.7" cy="328.1" r="1.0"/>
<circle cx="96.7" cy="327.9" r="1.0"/>
<circle cx="98.1" cy="327.9" r="1.0"/>
<circle cx="98.9" cy="328.0" r="1.0"/>
<circle cx="100.7" cy="327.9" r="1.0"/>
<circle cx="101.4" cy="328.0" r="1.0"/>
<circle cx="102.5" cy="327.7" r="1.0"/>
<circle cx="91.2" cy="329.0" r="1.0"/>
<circle cx="92.5" cy="329.2" r="1.0"/>
<circle cx="93.6" cy="328.7" r="1.0"/>
<circle cx="95.2" cy="329.0" r="1.0"/>
<circle cx="96.1" cy="328.6" r="1.0"/>
<circle cx="97.2" cy="328.7" r="1.0"/>
<circle cx="98.4" cy="329.1" r="1.0"/>
<circle cx="100.0" cy="329.0" r="1.0"/>
<circle cx="101.0" cy="329.1" r="1.0"/>
<circle cx="102.2" cy="328.8" r="1.0"/>
<circle cx="103.3" cy="329.2" r="1.0"/>
<circle cx="87.4" cy="330.2" r="1.0"/>
<circle cx="88.7" cy="329.7" r="1.0"/>
<circle cx="89.3" cy="329.7" r="1.0"/>
<circle cx="90.5" cy="330.2" r="1.0"/>
<circle cx="91.8" cy="330.2" r="1.0"/>
<circle cx="93.3" cy="329.9" r="1.0"/>
<circle cx="94.3" cy="329.9" r="1.0"/>
<circle cx="95.5" cy="330.2" r="1.0"/>
<circle cx="96.9" cy="329.7" r="1.0"/>
<circle cx="98.0" cy="329.8" r="1.0"/>
<circle cx="98.9" cy="330.2" r="1.0"/>
<circle cx="100.6" cy="329.8" r="1.0"/>
<circle cx="101.8" cy="329.8" r="1.0"/>
<circle cx="102.7" cy="330.2" r="1.0"/>
<circle cx="104.3" cy="330.0" r="1.0"/>
<circle cx="105.5" cy="330.2" r="1.0"/>
<circle cx="106.4" cy="329.9" r="1.0"/>
<circle cx="77.0" cy="331.3" r="1.0"/>
<circle cx="81.8" cy="331.2" r="1.0"/>
<circle cx="82.9" cy="330.9" r="1.0"/>
<circle cx="84.0" cy="331.1" r="1.0"/>
<circle cx="85.7" cy="330.8" r="1.0"/>
<circle cx="86.8" cy="330.8" r="1.0"/>
<circle cx="87.5" cy="330.8" r="1.0"/>
<circle cx="89.3" cy="331.2" r="1.0"/>
<circle cx="90.1" cy="331.3" r="1.0"/>
<circle cx="91.6" cy="331.0" r="1.0"/>
<circle cx="92.6" cy="331.1" r="1.0"/>
<circle cx="93.6" cy="330.7" r="1.0"/>
<circle cx="94.9" cy="330.7" r="1.0"/>
<circle cx="96.3" cy="331.0" r="1.0"/>
<circle cx="97.3" cy="331.2" r="1.0"/>
<circle cx="98.4" cy="330.8" r="1.0"/>
<circle cx="99.7" cy="330.8" r="1.0"/>
<circle cx="100.8" cy="331.2" r="1.0"/>
<circle cx="102.0" cy="331.1" r="1.0"/>
<circle cx="103.2" cy="330.7" r="1.0"/>
<circle cx="104.6" cy="331.2" r="1.0"/>
<circle cx="106.0" cy="330.9" r="1.0"/>
<circle cx="106.7" cy="331.2" r="1.0"/>
<circle cx="108.4" cy="331.2" r="1.0"/>
<circle cx="109.5" cy="331.2" r="1.0"/>
<circle cx="110.8" cy="331.0" r="1.0"/>
<circle cx="111.8" cy="331.0" r="1.0"/>
<circle cx="113.1" cy="331.1" r="1.0"/>
<circle cx="114.2" cy="331.2" r="1.0"/>
<circle cx="115.4" cy="331.2" r="1.0"/>
<circle cx="60.7" cy="331.9" r="1.0"/>
<circle cx="62.1" cy="332.1" r="1.0"/>
<circle cx="63.4" cy="332.3" r="1.0"/>
<circle cx="64.5" cy="332.1" r="1.0"/>
<circle cx="65.5" cy="332.3" r="1.0"/>
<circle cx="66.6" cy="332.3" r="1.0"/>
<circle cx="67.9" cy="332.1" r="1.0"/>
<circle cx="69.3" cy="331.9" r="1.0"/>
<circle cx="70.2" cy="332.1" r="1.0"/>
<circle cx="71.8" cy="332.2" r="1.0"/>
<circle cx="72.6" cy="332.3" r="1.0"/>
<circle cx="74.0" cy="332.3" r="1.0"/>
<circle cx="75.2" cy="331.8" r="1.0"/>
<circle cx="76.2" cy="332.3" r="1.0"/>
<circle cx="77.7" cy="332.3" r="1.0"/>
<circle cx="78.7" cy="332.1" r="1.0"/>
<circle cx="80.1" cy="332.1" r="1.0"/>
<circle cx="81.0" cy="332.0" r="1.0"/>
<circle cx="82.2" cy="332.3" r="1.0"/>
<circle cx="83.9" cy="331.8" r="1.0"/>
<circle cx="84.9" cy="331.9" r="1.0"/>
<circle cx="86.1" cy="331.9" r="1.0"/>
<circle cx="87.3" cy="332.0" r="1.0"/>
<circle cx="88.3" cy="332.3" r="1.0"/>
<circle cx="89.9" cy="332.1" r="1.0"/>
<circle cx="90.6" cy="332.3" r="1.0"/>
<circle cx="92.2" cy="332.2" r="1.0"/>
<circle cx="93.0" cy="332.2" r="1.0"/>
<circle cx="94.2" cy="332.1" r="1.0"/>
<circle cx="95.7" cy="332.2" r="1.0"/>
<circle cx="96.7" cy="332.2" r="1.0"/>
<circle cx="98.2" cy="332.1" r="1.0"/>
<circle cx="99.0" cy="331.8" r="1.0"/>
<circle cx="100.2" cy="331.9" r="1.0"/>
<circle cx="101.4" cy="332.2" r="1.0"/>
<circle cx="102.5" cy="331.9" r="1.0"/>
<circle cx="104.2" cy="332.3" r="1.0"/>
<circle cx="105.3" cy="332.3" r="1.0"/>
<circle cx="106.1" cy="332.3" r="1.0"/>
<circle cx="107.5" cy="332.2" r="1.0"/>
<circle cx="109.0" cy="332.3" r="1.0"/>
<circle cx="110.0" cy="332.3" r="1.0"/>
<circle cx="111.1" cy="332.3" r="1.0"/>
<circle cx="112.5" cy="332.3" r="1.0"/>
<circle cx="113.3" cy="332.2" r="1.0"/>
<circle cx="114.8" cy="332.0" r="1.0"/>
<circle cx="115.9" cy="331.9" r="1.0"/>
<circle cx="117.0" cy="331.9" r="1.0"/>
<circle cx="118.6" cy="332.1" r="1.0"/>
<circle cx="119.3" cy="332.2" r="1.0"/>
<circle cx="120.8" cy="332.2" r="1.0"/>
<circle cx="122.0" cy="332.0" r="1.0"/>
<circle cx="123.5" cy="331.8" r="1.0"/>
<circle cx="124.7" cy="332.3" r="1.0"/>
<circle cx="125.5" cy="331.9" r="1.0"/>
<circle cx="126.9" cy="331.9" r="1.0"/>
<circle cx="128.2" cy="331.9" r="1.0"/>
<circle cx="129.1" cy="332.3" r="1.0"/>
<circle cx="130.6" cy="332.1" r="1.0"/>
<circle cx="131.8" cy="332.0" r="1.0"/>
<circle cx="133.1" cy="332.0" r="1.0"/>
<circle cx="57.5" cy="332.9" r="1.0"/>
<circle cx="58.9" cy="333.4" r="1.0"/>
<circle cx="60.0" cy="333.2" r="1.0"/>
<circle cx="61.4" cy="333.0" r="1.0"/>
<circle cx="62.4" cy="332.9" r="1.0"/>
<circle cx="63.5" cy="333.2" r="1.0"/>
<circle cx="65.1" cy="333.1" r="1.0"/>
<circle cx="66.3" cy="332.9" r="1.0"/>
<circle cx="67.7" cy="333.3" r="1.0"/>
<circle cx="68.7" cy="333.0" r="1.0"/>
<circle cx="69.7" cy="333.1" r="1.0"/>
<circle cx="71.3" cy="333.3" r="1.0"/>
<circle cx="72.2" cy="333.1" r="1.0"/>
<circle cx="73.6" cy="333.4" r="1.0"/>
<circle cx="74.7" cy="333.2" r="1.0"/>
<circle cx="75.7" cy="333.4" r="1.0"/>
<circle cx="77.2" cy="333.1" r="1.0"/>
<circle cx="78.4" cy="333.3" r="1.0"/>
<circle cx="79.6" cy="332.9" r="1.0"/>
<circle cx="80.6" cy="333.3" r="1.0"/>
<circle cx="82.0" cy="333.1" r="1.0"/>
<circle cx="83.3" cy="333.0" r="1.0"/>
<circle cx="84.1" cy="333.4" r="1.0"/>
<circle cx="85.6" cy="333.3" r="1.0"/>
<circle cx="86.3" cy="333.0" r="1.0"/>
<circle cx="87.6" cy="333.0" r="1.0"/>
<circle cx="89.1" cy="333.2" r="1.0"/>
<circle cx="90.2" cy="333.0" r="1.0"/>
<circle cx="91.5" cy="333.1" r="1.0"/>
<circle cx="92.6" cy="333.2" r="1.0"/>
<circle cx="93.7" cy="333.3" r="1.0"/>
<circle cx="94.9" cy="333.2" r="1.0"/>
<circle cx="96.5" cy="332.8" r="1.0"/>
<circle cx="97.5" cy="332.9" r="1.0"/>
<circle cx="98.6" cy="333.2" r="1.0"/>
<circle cx="99.6" cy="333.3" r="1.0"/>
<circle cx="101.1" cy="332.9" r="1.0"/>
<circle cx="102.4" cy="332.9" r="1.0"/>
<circle cx="103.4" cy="332.9" r="1.0"/>
<circle cx="104.6" cy="333.0" r="1.0"/>
<circle cx="105.9" cy="333.2" r="1.0"/>
<circle cx="107.0" cy="333.2" r="1.0"/>
<circle cx="108.4" cy="333.3" r="1.0"/>
<circle cx="109.5" cy="333.1" r="1.0"/>
<circle cx="110.5" cy="333.3" r="1.0"/>
<circle cx="111.9" cy="332.9" r="1.0"/>
<circle cx="113.0" cy="333.3" r="1.0"/>
<circle cx="114.0" cy="333.3" r="1.0"/>
<circle cx="115.6" cy="333.1" r="1.0"/>
<circle cx="116.3" cy="332.9" r="1.0"/>
<circle cx="118.1" cy="332.8" r="1.0"/>
<circle cx="118.9" cy="333.2" r="1.0"/>
<circle cx="120.0" cy="333.4" r="1.0"/>
<circle cx="121.2" cy="333.1" r="1.0"/>
<circle cx="122.7" cy="332.9" r="1.0"/>
<circle cx="123.8" cy="333.1" r="1.0"/>
<circle cx="125.2" cy="333.2" r="1.0"/>
<circle cx="126.2" cy="333.2" r="1.0"/>
<circle cx="127.4" cy="333.1" r="1.0"/>
<circle cx="128.7" cy="332.9" r="1.0"/>
<circle cx="130.0" cy="333.2" r="1.0"/>
<circle cx="131.3" cy="332.9" r="1.0"/>
<circle cx="132.2" cy="333.3" r="1.0"/>
<circle cx="133.5" cy="333.2" r="1.0"/>
<circle cx="134.5" cy="333.2" r="1.0"/>
<circle cx="136.1" cy="332.9" r="1.0"/>
<circle cx="137.2" cy="333.4" r="1.0"/>
<circle cx="137.9" cy="332.9" r="1.0"/>
<circle cx="139.2" cy="333.3" r="1.0"/>
<circle cx="57.4" cy="334.2" r="1.0"/>
<circle cx="58.4" cy="334.2" r="1.0"/>
<circle cx="59.6" cy="334.1" r="1.0"/>
<circle cx="60.6" cy="333.9" r="1.0"/>
<circle cx="61.8" cy="333.9" r="1.0"/>
<circle cx="63.2" cy="334.4" r="1.0"/>
<circle cx="64.3" cy="333.9" r="1.0"/>
<circle cx="65.6" cy="334.2" r="1.0"/>
<circle cx="66.8" cy="334.3" r="1.0"/>
<circle cx="68.3" cy="334.4" r="1.0"/>
<circle cx="69.3" cy="334.1" r="1.0"/>
<circle cx="70.5" cy="333.9" r="1.0"/>
<circle cx="71.9" cy="334.0" r="1.0"/>
<circle cx="73.0" cy="334.3" r="1.0"/>
<circle cx="74.2" cy="334.0" r="1.0"/>
<circle cx="75.0" cy="334.1" r="1.0"/>
<circle cx="76.6" cy="334.1" r="1.0"/>
<circle cx="77.9" cy="334.1" r="1.0"/>
<circle cx="78.9" cy="334.4" r="1.0"/>
<circle cx="80.1" cy="333.9" r="1.0"/>
<circle cx="81.2" cy="334.1" r="1.0"/>
<circle cx="82.4" cy="334.0" r="1.0"/>
<circle cx="83.4" cy="334.3" r="1.0"/>
<circle cx="84.9" cy="334.4" r="1.0"/>
<circle cx="85.8" cy="334.3" r="1.0"/>
<circle cx="87.4" cy="334.2" r="1.0"/>
<circle cx="88.2" cy="334.0" r="1.0"/>
<circle cx="89.6" cy="334.2" r="1.0"/>
<circle cx="90.8" cy="334.1" r="1.0"/>
<circle cx="92.2" cy="334.4" r="1.0"/>
<circle cx="93.4" cy="334.4" r="1.0"/>
<circle cx="94.4" cy="334.4" r="1.0"/>
<circle cx="95.7" cy="334.2" r="1.0"/>
<circle cx="96.7" cy="334.3" r="1.0"/>
<circle cx="97.7" cy="333.9" r="1.0"/>
<circle cx="99.0" cy="334.2" r="1.0"/>
<circle cx="100.2" cy="334.1" r="1.0"/>
<circle cx="101.3" cy="334.0" r="1.0"/>
<circle cx="103.1" cy="334.2" r="1.0"/>
<circle cx="103.8" cy="334.2" r="1.0"/>
<circle cx="105.5" cy="334.4" r="1.0"/>
<circle cx="106.3" cy="334.0" r="1.0"/>
<circle cx="107.8" cy="334.0" r="1.0"/>
<circle cx="108.7" cy="333.9" r="1.0"/>
<circle cx="110.2" cy="334.1" r="1.0"/>
<circle cx="111.2" cy="334.3" r="1.0"/>
<circle cx="112.6" cy="334.1" r="1.0"/>
<circle cx="113.4" cy="334.3" r="1.0"/>
<circle cx="114.5" cy="334.4" r="1.0"/>
<circle cx="116.0" cy="334.4" r="1.0"/>
<circle cx="117.3" cy="334.0" r="1.0"/>
<circle cx="118.3" cy="334.2" r="1.0"/>
<circle cx="119.9" cy="334.0" r="1.0"/>
<circle cx="120.8" cy="334.1" r="1.0"/>
<circle cx="122.2" cy="334.3" r="1.0"/>
<circle cx="123.2" cy="334.0" r="1.0"/>
<circle cx="124.1" cy="334.0" r="1.0"/>
<circle cx="125.5" cy="334.2" r="1.0"/>
<circle cx="127.0" cy="333.9" r="1.0"/>
<circle cx="128.3" cy="334.3" r="1.0"/>
<circle cx="129.3" cy="334.4" r="1.0"/>
<circle cx="130.3" cy="334.2" r="1.0"/>
<circle cx="131.7" cy="334.2" r="1.0"/>
<circle cx="132.7" cy="333.9" r="1.0"/>
<circle cx="133.9" cy="334.3" r="1.0"/>
<circle cx="135.3" cy="334.3" r="1.0"/>
<circle cx="136.4" cy="334.0" r="1.0"/>
<circle cx="137.7" cy="334.0" r="1.0"/>
<circle cx="138.5" cy="334.4" r="1.0"/>
<circle cx="62.4" cy="335.0" r="1.0"/>
<circle cx="63.5" cy="335.0" r="1.0"/>
<circle cx="65.2" cy="335.0" r="1.0"/>
<circle cx="66.0" cy="334.9" r="1.0"/>
<circle cx="67.5" cy="335.0" r="1.0"/>
<circle cx="68.5" cy="335.0" r="1.0"/>
<circle cx="69.7" cy="335.2" r="1.0"/>
<circle cx="71.0" cy="335.2" r="1.0"/>
<circle cx="72.0" cy="335.4" r="1.0"/>
<circle cx="73.2" cy="335.2" r="1.0"/>
<circle cx="74.5" cy="335.1" r="1.0"/>
<circle cx="75.9" cy="335.2" r="1.0"/>
<circle cx="76.8" cy="335.2" r="1.0"/>
<circle cx="78.1" cy="335.3" r="1.0"/>
<circle cx="79.2" cy="335.4" r="1.0"/>
<circle cx="80.6" cy="335.2" r="1.0"/>
<circle cx="81.7" cy="335.0" r="1.0"/>
<circle cx="83.0" cy="335.5" r="1.0"/>
<circle cx="84.0" cy="335.1" r="1.0"/>
<circle cx="85.6" cy="335.3" r="1.0"/>
<circle cx="86.5" cy="335.1" r="1.0"/>
<circle cx="87.8" cy="335.3" r="1.0"/>
<circle cx="89.1" cy="335.4" r="1.0"/>
<circle cx="90.3" cy="335.0" r="1.0"/>
<circle cx="91.7" cy="335.4" r="1.0"/>
<circle cx="92.5" cy="335.1" r="1.0"/>
<circle cx="94.0" cy="335.0" r="1.0"/>
<circle cx="95.1" cy="335.1" r="1.0"/>
<circle cx="96.4" cy="335.1" r="1.0"/>
<circle cx="97.5" cy="335.0" r="1.0"/>
<circle cx="98.6" cy="335.4" r="1.0"/>
<circle cx="99.7" cy="335.0" r="1.0"/>
<circle cx="101.1" cy="335.4" r="1.0"/>
<circle cx="102.1" cy="335.2" r="1.0"/>
<circle cx="103.6" cy="335.4" r="1.0"/>
<circle cx="104.7" cy="335.3" r="1.0"/>
<circle cx="106.0" cy="335.4" r="1.0"/>
<circle cx="106.7" cy="335.1" r="1.0"/>
<circle cx="108.2" cy="335.3" r="1.0"/>
<circle cx="109.2" cy="335.1" r="1.0"/>
<circle cx="110.5" cy="335.2" r="1.0"/>
<circle cx="111.8" cy="335.3" r="1.0"/>
<circle cx="113.0" cy="335.3" r="1.0"/>
<circle cx="114.2" cy="335.2" r="1.0"/>
<circle cx="115.1" cy="335.0" r="1.0"/>
<circle cx="116.5" cy="335.0" r="1.0"/>
<circle cx="117.9" cy="335.3" r="1.0"/>
<circle cx="119.0" cy="335.1" r="1.0"/>
<circle cx="120.3" cy="335.0" r="1.0"/>
<circle cx="121.1" cy="335.3" r="1.0"/>
<circle cx="122.6" cy="335.3" r="1.0"/>
<circle cx="123.6" cy="334.9" r="1.0"/>
<circle cx="124.9" cy="335.3" r="1.0"/>
<circle cx="126.0" cy="335.0" r="1.0"/>
<circle cx="127.4" cy="335.3" r="1.0"/>
<circle cx="128.8" cy="335.0" r="1.0"/>
<circle cx="129.9" cy="335.1" r="1.0"/>
<circle cx="131.1" cy="335.0" r="1.0"/>
<circle cx="132.2" cy="335.0" r="1.0"/>
<circle cx="75.3" cy="336.0" r="1.0"/>
<circle cx="80.0" cy="336.3" r="1.0"/>
<circle cx="81.1" cy="336.2" r="1.0"/>
<circle cx="82.4" cy="336.4" r="1.0"/>
<circle cx="83.4" cy="336.1" r="1.0"/>
<circle cx="84.9" cy="336.2" r="1.0"/>
<circle cx="85.7" cy="336.0" r="1.0"/>
<circle cx="87.0" cy="336.2" r="1.0"/>
<circle cx="88.5" cy="336.5" r="1.0"/>
<circle cx="89.8" cy="336.1" r="1.0"/>
<circle cx="91.0" cy="336.1" r="1.0"/>
<circle cx="91.9" cy="336.1" r="1.0"/>
<circle cx="93.1" cy="336.1" r="1.0"/>
<circle cx="94.3" cy="336.0" r="1.0"/>
<circle cx="95.9" cy="336.3" r="1.0"/>
<circle cx="97.1" cy="336.4" r="1.0"/>
<circle cx="98.0" cy="336.4" r="1.0"/>
<circle cx="99.3" cy="336.1" r="1.0"/>
<circle cx="100.4" cy="336.4" r="1.0"/>
<circle cx="101.5" cy="336.0" r="1.0"/>
<circle cx="102.7" cy="336.4" r="1.0"/>
<circle cx="104.3" cy="336.3" r="1.0"/>
<circle cx="105.0" cy="336.4" r="1.0"/>
<circle cx="106.4" cy="336.4" r="1.0"/>
<circle cx="107.8" cy="336.5" r="1.0"/>
<circle cx="108.9" cy="336.5" r="1.0"/>
<circle cx="110.1" cy="336.4" r="1.0"/>
<circle cx="111.4" cy="336.5" r="1.0"/>
<circle cx="112.6" cy="336.2" r="1.0"/>
<circle cx="113.4" cy="336.4" r="1.0"/>
<circle cx="114.8" cy="336.3" r="1.0"/>
<circle cx="116.2" cy="336.0" r="1.0"/>
<circle cx="117.4" cy="336.0" r="1.0"/>
<circle cx="118.5" cy="336.3" r="1.0"/>
<circle cx="119.7" cy="336.2" r="1.0"/>
<circle cx="120.7" cy="336.3" r="1.0"/>
<circle cx="85.3" cy="337.4" r="1.0"/>
<circle cx="86.7" cy="337.1" r="1.0"/>
<circle cx="87.8" cy="337.5" r="1.0"/>
<circle cx="88.8" cy="337.4" r="1.0"/>
<circle cx="89.9" cy="337.0" r="1.0"/>
<circle cx="91.1" cy="337.3" r="1.0"/>
<circle cx="92.9" cy="337.2" r="1.0"/>
<circle cx="93.5" cy="337.5" r="1.0"/>
<circle cx="95.0" cy="337.2" r="1.0"/>
<circle cx="96.5" cy="337.6" r="1.0"/>
<circle cx="97.3" cy="337.1" r="1.0"/>
<circle cx="98.7" cy="337.5" r="1.0"/>
<circle cx="99.7" cy="337.4" r="1.0"/>
<circle cx="100.8" cy="337.1" r="1.0"/>
<circle cx="102.4" cy="337.1" r="1.0"/>
<circle cx="103.3" cy="337.4" r="1.0"/>
<circle cx="104.3" cy="337.0" r="1.0"/>
<circle cx="105.7" cy="337.2" r="1.0"/>
<circle cx="106.9" cy="337.5" r="1.0"/>
<circle cx="107.9" cy="337.2" r="1.0"/>
<circle cx="109.5" cy="337.1" r="1.0"/>
<circle cx="110.8" cy="337.4" r="1.0"/>
<circle cx="111.6" cy="337.1" r="1.0"/>
<circle cx="113.1" cy="337.2" r="1.0"/>
<circle cx="86.3" cy="338.6" r="1.0"/>
<circle cx="87.4" cy="338.1" r="1.0"/>
<circle cx="88.2" cy="338.1" r="1.0"/>
<circle cx="89.6" cy="338.6" r="1.0"/>
<circle cx="90.8" cy="338.5" r="1.0"/>
<circle cx="91.8" cy="338.6" r="1.0"/>
<circle cx="93.0" cy="338.1" r="1.0"/>
<circle cx="94.4" cy="338.4" r="1.0"/>
<circle cx="95.9" cy="338.1" r="1.0"/>
<circle cx="96.7" cy="338.1" r="1.0"/>
<circle cx="97.9" cy="338.2" r="1.0"/>
<circle cx="99.2" cy="338.3" r="1.0"/>
<circle cx="100.7" cy="338.5" r="1.0"/>
<circle cx="101.8" cy="338.1" r="1.0"/>
<circle cx="102.8" cy="338.2" r="1.0"/>
<circle cx="104.2" cy="338.1" r="1.0"/>
<circle cx="105.0" cy="338.3" r="1.0"/>
<circle cx="106.3" cy="338.2" r="1.0"/>
<circle cx="107.4" cy="338.1" r="1.0"/>
<circle cx="108.7" cy="338.6" r="1.0"/>
<circle cx="111.1" cy="338.1" r="1.0"/>
<circle cx="88.1" cy="339.3" r="1.0"/>
<circle cx="90.3" cy="339.3" r="1.0"/>
<circle cx="91.4" cy="339.5" r="1.0"/>
<circle cx="92.5" cy="339.6" r="1.0"/>
<circle cx="93.9" cy="339.7" r="1.0"/>
<circle cx="94.9" cy="339.7" r="1.0"/>
<circle cx="96.2" cy="339.5" r="1.0"/>
<circle cx="97.5" cy="339.6" r="1.0"/>
<circle cx="98.5" cy="339.4" r="1.0"/>
<circle cx="100.0" cy="339.5" r="1.0"/>
<circle cx="101.3" cy="339.7" r="1.0"/>
<circle cx="102.0" cy="339.2" r="1.0"/>
<circle cx="103.5" cy="339.5" r="1.0"/>
<circle cx="104.7" cy="339.6" r="1.0"/>
<circle cx="105.7" cy="339.3" r="1.0"/>
<circle cx="95.7" cy="340.4" r="1.0"/>
<circle cx="97.0" cy="340.6" r="1.0"/>
<circle cx="97.7" cy="340.7" r="1.0"/>
<circle cx="98.9" cy="340.5" r="1.0"/>
<circle cx="100.4" cy="340.7" r="1.0"/>
<circle cx="101.5" cy="340.2" r="1.0"/>
<circle cx="102.8" cy="340.2" r="1.0"/>
<circle cx="95.3" cy="341.5" r="1.0"/>
<circle cx="96.5" cy="341.3" r="1.0"/>
<circle cx="97.4" cy="341.5" r="1.0"/>
<circle cx="98.9" cy="341.7" r="1.0"/>
<circle cx="99.6" cy="341.5" r="1.0"/>
<circle cx="95.7" cy="342.5" r="1.0"/>
<circle cx="97.0" cy="342.8" r="1.0"/>
<circle cx="98.3" cy="342.7" r="1.0"/>
<circle cx="99.4" cy="342.4" r="1.0"/>
<circle cx="100.2" cy="342.8" r="1.0"/>
<circle cx="96.4" cy="343.8" r="1.0"/>
<circle cx="97.6" cy="343.6" r="1.0"/>
<circle cx="98.6" cy="343.5" r="1.0"/>
<circle cx="99.8" cy="343.7" r="1.0"/>
<circle cx="95.5" cy="344.6" r="1.0"/>
<circle cx="96.8" cy="344.9" r="1.0"/>
<circle cx="97.9" cy="344.6" r="1.0"/>
<circle cx="99.0" cy="344.6" r="1.0"/>
<circle cx="97.8" cy="285.9" r="1.05"/>
<circle cx="97.8" cy="300" r="1.05"/>
<circle cx="97.8" cy="304.2" r="1.05"/>
<circle cx="97.8" cy="316.8" r="1.05"/>
<circle cx="97.8" cy="319.2" r="1.05"/>
<circle cx="97.8" cy="361.2" r="1.05"/>
<circle cx="150.9" cy="277.9" r="1.0"/>
<circle cx="152.5" cy="278.0" r="1.0"/>
<circle cx="153.7" cy="277.9" r="1.0"/>
<circle cx="151.7" cy="279.3" r="1.0"/>
<circle cx="152.8" cy="279.7" r="1.0"/>
<circle cx="151.6" cy="281.8" r="1.0"/>
<circle cx="152.1" cy="282.7" r="1.0"/>
<circle cx="151.5" cy="284.0" r="1.0"/>
<circle cx="152.1" cy="285.5" r="1.0"/>
<circle cx="151.6" cy="286.4" r="1.0"/>
<circle cx="152.1" cy="287.6" r="1.0"/>
<circle cx="152.1" cy="290.4" r="1.0"/>
<circle cx="151.5" cy="291.6" r="1.0"/>
<circle cx="152.0" cy="292.5" r="1.0"/>
<circle cx="151.6" cy="294.0" r="1.0"/>
<circle cx="152.1" cy="295.2" r="1.0"/>
<circle cx="151.6" cy="296.3" r="1.0"/>
<circle cx="150.8" cy="297.3" r="1.0"/>
<circle cx="152.6" cy="297.2" r="1.0"/>
<circle cx="151.6" cy="298.5" r="1.0"/>
<circle cx="152.7" cy="298.9" r="1.0"/>
<circle cx="150.7" cy="299.9" r="1.0"/>
<circle cx="152.3" cy="300.0" r="1.0"/>
<circle cx="151.6" cy="301.0" r="1.0"/>
<circle cx="152.9" cy="300.8" r="1.0"/>
<circle cx="150.7" cy="302.3" r="1.0"/>
<circle cx="152.0" cy="301.9" r="1.0"/>
<circle cx="153.3" cy="302.0" r="1.0"/>
<circle cx="150.3" cy="303.1" r="1.0"/>
<circle cx="151.9" cy="303.1" r="1.0"/>
<circle cx="153.2" cy="303.1" r="1.0"/>
<circle cx="150.9" cy="304.9" r="1.0"/>
<circle cx="152.0" cy="304.9" r="1.0"/>
<circle cx="153.4" cy="304.3" r="1.0"/>
<circle cx="150.1" cy="305.8" r="1.0"/>
<circle cx="151.5" cy="305.9" r="1.0"/>
<circle cx="152.9" cy="305.8" r="1.0"/>
<circle cx="149.9" cy="306.9" r="1.0"/>
<circle cx="150.7" cy="307.0" r="1.0"/>
<circle cx="152.3" cy="306.7" r="1.0"/>
<circle cx="153.8" cy="307.1" r="1.0"/>
<circle cx="150.3" cy="308.5" r="1.0"/>
<circle cx="151.9" cy="308.2" r="1.0"/>
<circle cx="152.9" cy="307.9" r="1.0"/>
<circle cx="154.4" cy="308.1" r="1.0"/>
<circle cx="149.7" cy="309.1" r="1.0"/>
<circle cx="150.7" cy="309.5" r="1.0"/>
<circle cx="152.0" cy="309.1" r="1.0"/>
<circle cx="153.6" cy="309.3" r="1.0"/>
<circle cx="150.6" cy="310.9" r="1.0"/>
<circle cx="151.9" cy="310.7" r="1.0"/>
<circle cx="152.8" cy="310.3" r="1.0"/>
<circle cx="154.1" cy="310.9" r="1.0"/>
<circle cx="149.6" cy="312.1" r="1.0"/>
<circle cx="150.7" cy="311.7" r="1.0"/>
<circle cx="152.0" cy="312.1" r="1.0"/>
<circle cx="153.9" cy="311.7" r="1.0"/>
<circle cx="148.8" cy="313.3" r="1.0"/>
<circle cx="150.5" cy="312.8" r="1.0"/>
<circle cx="151.6" cy="312.7" r="1.0"/>
<circle cx="153.0" cy="313.0" r="1.0"/>
<circle cx="154.1" cy="312.7" r="1.0"/>
<circle cx="149.9" cy="314.3" r="1.0"/>
<circle cx="151.0" cy="314.0" r="1.0"/>
<circle cx="152.1" cy="314.1" r="1.0"/>
<circle cx="153.4" cy="314.5" r="1.0"/>
<circle cx="155.3" cy="314.1" r="1.0"/>
<circle cx="149.1" cy="315.7" r="1.0"/>
<circle cx="150.5" cy="315.3" r="1.0"/>
<circle cx="151.9" cy="315.1" r="1.0"/>
<circle cx="152.7" cy="315.2" r="1.0"/>
<circle cx="154.5" cy="315.6" r="1.0"/>
<circle cx="155.4" cy="315.5" r="1.0"/>
<circle cx="148.3" cy="316.4" r="1.0"/>
<circle cx="149.6" cy="316.8" r="1.0"/>
<circle cx="151.0" cy="316.4" r="1.0"/>
<circle cx="152.1" cy="316.8" r="1.0"/>
<circle cx="153.7" cy="316.9" r="1.0"/>
<circle cx="155.1" cy="316.4" r="1.0"/>
<circle cx="148.7" cy="318.0" r="1.0"/>
<circle cx="150.0" cy="318.1" r="1.0"/>
<circle cx="151.9" cy="317.8" r="1.0"/>
<circle cx="153.1" cy="317.7" r="1.0"/>
<circle cx="154.4" cy="317.5" r="1.0"/>
<circle cx="155.5" cy="317.8" r="1.0"/>
<circle cx="148.5" cy="318.7" r="1.0"/>
<circle cx="149.3" cy="319.2" r="1.0"/>
<circle cx="150.7" cy="319.0" r="1.0"/>
<circle cx="152.2" cy="318.8" r="1.0"/>
<circle cx="153.6" cy="319.0" r="1.0"/>
<circle cx="155.2" cy="319.1" r="1.0"/>
<circle cx="148.8" cy="320.3" r="1.0"/>
<circle cx="149.9" cy="320.0" r="1.0"/>
<circle cx="151.4" cy="320.2" r="1.0"/>
<circle cx="152.7" cy="320.5" r="1.0"/>
<circle cx="154.3" cy="320.3" r="1.0"/>
<circle cx="155.5" cy="320.3" r="1.0"/>
<circle cx="148.6" cy="321.3" r="1.0"/>
<circle cx="149.4" cy="321.7" r="1.0"/>
<circle cx="151.0" cy="321.7" r="1.0"/>
<circle cx="152.2" cy="321.1" r="1.0"/>
<circle cx="153.6" cy="321.7" r="1.0"/>
<circle cx="154.7" cy="321.4" r="1.0"/>
<circle cx="147.3" cy="322.5" r="1.0"/>
<circle cx="148.6" cy="322.9" r="1.0"/>
<circle cx="150.0" cy="322.4" r="1.0"/>
<circle cx="151.8" cy="322.8" r="1.0"/>
<circle cx="152.8" cy="322.4" r="1.0"/>
<circle cx="154.0" cy="322.3" r="1.0"/>
<circle cx="155.9" cy="322.4" r="1.0"/>
<circle cx="157.0" cy="322.8" r="1.0"/>
<circle cx="147.2" cy="324.0" r="1.0"/>
<circle cx="148.4" cy="323.5" r="1.0"/>
<circle cx="149.8" cy="323.6" r="1.0"/>
<circle cx="151.1" cy="323.5" r="1.0"/>
<circle cx="152.6" cy="323.6" r="1.0"/>
<circle cx="153.9" cy="324.1" r="1.0"/>
<circle cx="154.7" cy="323.5" r="1.0"/>
<circle cx="156.7" cy="324.1" r="1.0"/>
<circle cx="157.4" cy="323.9" r="1.0"/>
<circle cx="146.2" cy="325.1" r="1.0"/>
<circle cx="147.5" cy="324.7" r="1.0"/>
<circle cx="149.1" cy="325.2" r="1.0"/>
<circle cx="150.6" cy="325.0" r="1.0"/>
<circle cx="151.3" cy="325.3" r="1.0"/>
<circle cx="152.8" cy="324.7" r="1.0"/>
<circle cx="154.1" cy="325.1" r="1.0"/>
<circle cx="155.6" cy="325.1" r="1.0"/>
<circle cx="156.7" cy="324.7" r="1.0"/>
<circle cx="145.9" cy="326.5" r="1.0"/>
<circle cx="147.1" cy="326.2" r="1.0"/>
<circle cx="148.3" cy="326.2" r="1.0"/>
<circle cx="149.6" cy="326.0" r="1.0"/>
<circle cx="150.7" cy="326.3" r="1.0"/>
<circle cx="152.5" cy="326.5" r="1.0"/>
<circle cx="153.8" cy="326.2" r="1.0"/>
<circle cx="154.7" cy="325.9" r="1.0"/>
<circle cx="156.1" cy="326.3" r="1.0"/>
<circle cx="157.5" cy="326.1" r="1.0"/>
<circle cx="146.0" cy="327.6" r="1.0"/>
<circle cx="147.9" cy="327.5" r="1.0"/>
<circle cx="149.1" cy="327.7" r="1.0"/>
<circle cx="150.1" cy="327.5" r="1.0"/>
<circle cx="151.7" cy="327.7" r="1.0"/>
<circle cx="152.9" cy="327.1" r="1.0"/>
<circle cx="154.0" cy="327.2" r="1.0"/>
<circle cx="155.4" cy="327.3" r="1.0"/>
<circle cx="157.1" cy="327.4" r="1.0"/>
<circle cx="158.5" cy="327.4" r="1.0"/>
<circle cx="145.5" cy="328.6" r="1.0"/>
<circle cx="146.6" cy="328.3" r="1.0"/>
<circle cx="148.1" cy="328.5" r="1.0"/>
<circle cx="149.7" cy="328.4" r="1.0"/>
<circle cx="150.9" cy="328.9" r="1.0"/>
<circle cx="152.2" cy="328.8" r="1.0"/>
<circle cx="153.7" cy="328.3" r="1.0"/>
<circle cx="155.3" cy="328.3" r="1.0"/>
<circle cx="156.2" cy="328.9" r="1.0"/>
<circle cx="157.5" cy="328.9" r="1.0"/>
<circle cx="159.2" cy="328.4" r="1.0"/>
<circle cx="144.5" cy="329.5" r="1.0"/>
<circle cx="146.5" cy="330.1" r="1.0"/>
<circle cx="147.8" cy="329.8" r="1.0"/>
<circle cx="148.7" cy="330.0" r="1.0"/>
<circle cx="150.1" cy="329.5" r="1.0"/>
<circle cx="151.5" cy="329.9" r="1.0"/>
<circle cx="153.0" cy="330.0" r="1.0"/>
<circle cx="154.2" cy="329.6" r="1.0"/>
<circle cx="155.4" cy="329.6" r="1.0"/>
<circle cx="157.3" cy="329.5" r="1.0"/>
<circle cx="158.5" cy="329.8" r="1.0"/>
<circle cx="159.5" cy="329.9" r="1.0"/>
<circle cx="144.4" cy="331.1" r="1.0"/>
<circle cx="145.8" cy="331.1" r="1.0"/>
<circle cx="147.2" cy="330.8" r="1.0"/>
<circle cx="148.6" cy="330.8" r="1.0"/>
<circle cx="149.4" cy="330.8" r="1.0"/>
<circle cx="150.7" cy="331.1" r="1.0"/>
<circle cx="152.0" cy="331.2" r="1.0"/>
<circle cx="153.7" cy="330.9" r="1.0"/>
<circle cx="155.3" cy="331.2" r="1.0"/>
<circle cx="156.4" cy="330.7" r="1.0"/>
<circle cx="158.0" cy="331.1" r="1.0"/>
<circle cx="159.3" cy="330.8" r="1.0"/>
<circle cx="160.1" cy="330.9" r="1.0"/>
<circle cx="144.9" cy="331.9" r="1.0"/>
<circle cx="146.4" cy="332.1" r="1.0"/>
<circle cx="147.3" cy="332.3" r="1.0"/>
<circle cx="148.9" cy="332.1" r="1.0"/>
<circle cx="150.2" cy="332.4" r="1.0"/>
<circle cx="151.6" cy="332.5" r="1.0"/>
<circle cx="152.7" cy="332.1" r="1.0"/>
<circle cx="154.6" cy="332.3" r="1.0"/>
<circle cx="155.8" cy="332.4" r="1.0"/>
<circle cx="157.0" cy="331.9" r="1.0"/>
<circle cx="158.3" cy="332.0" r="1.0"/>
<circle cx="145.6" cy="333.3" r="1.0"/>
<circle cx="146.8" cy="333.3" r="1.0"/>
<circle cx="148.2" cy="333.3" r="1.0"/>
<circle cx="149.5" cy="333.1" r="1.0"/>
<circle cx="150.9" cy="333.1" r="1.0"/>
<circle cx="152.2" cy="333.1" r="1.0"/>
<circle cx="153.6" cy="333.4" r="1.0"/>
<circle cx="154.7" cy="333.2" r="1.0"/>
<circle cx="156.3" cy="333.2" r="1.0"/>
<circle cx="157.7" cy="333.6" r="1.0"/>
<circle cx="147.4" cy="334.4" r="1.0"/>
<circle cx="149.2" cy="334.4" r="1.0"/>
<circle cx="150.4" cy="334.3" r="1.0"/>
<circle cx="151.3" cy="334.5" r="1.0"/>
<circle cx="153.1" cy="334.6" r="1.0"/>
<circle cx="154.6" cy="334.6" r="1.0"/>
<circle cx="155.8" cy="334.3" r="1.0"/>
<circle cx="157.2" cy="334.7" r="1.0"/>
<circle cx="148.2" cy="335.8" r="1.0"/>
<circle cx="149.7" cy="335.9" r="1.0"/>
<circle cx="150.9" cy="335.5" r="1.0"/>
<circle cx="152.2" cy="335.6" r="1.0"/>
<circle cx="153.9" cy="336.0" r="1.0"/>
<circle cx="154.8" cy="335.9" r="1.0"/>
<circle cx="156.5" cy="335.7" r="1.0"/>
<circle cx="148.7" cy="337.3" r="1.0"/>
<circle cx="150.4" cy="336.9" r="1.0"/>
<circle cx="151.3" cy="337.2" r="1.0"/>
<circle cx="152.9" cy="337.3" r="1.0"/>
<circle cx="154.2" cy="336.7" r="1.0"/>
<circle cx="155.5" cy="336.9" r="1.0"/>
<circle cx="149.8" cy="338.4" r="1.0"/>
<circle cx="150.9" cy="338.2" r="1.0"/>
<circle cx="152.4" cy="338.4" r="1.0"/>
<circle cx="153.6" cy="338.1" r="1.0"/>
<circle cx="151.7" cy="339.7" r="1.0"/>
<circle cx="153.2" cy="339.3" r="1.0"/>
<circle cx="152.0" cy="340.6" r="1.0"/>
<circle cx="151.9" cy="246.2" r="1.05"/>
</g>
<line x1="223.4" y1="243.5" x2="379.2" y2="243.5" stroke="#EBEBEB" stroke-width="0.9"/>
<line x1="223.4" y1="271.3" x2="379.2" y2="271.3" stroke="#EBEBEB" stroke-width="0.9"/>
<line x1="223.4" y1="299.1" x2="379.2" y2="299.1" stroke="#EBEBEB" stroke-width="0.9"/>
<line x1="223.4" y1="326.9" x2="379.2" y2="326.9" stroke="#EBEBEB" stroke-width="0.9"/>
<line x1="223.4" y1="354.7" x2="379.2" y2="354.7" stroke="#EBEBEB" stroke-width="0.9"/>
<line x1="264.1" y1="240.9" x2="264.1" y2="366.2" stroke="#EBEBEB" stroke-width="0.9"/>
<line x1="326.1" y1="240.9" x2="326.1" y2="366.2" stroke="#EBEBEB" stroke-width="0.9"/>
<line x1="223.4" y1="240.9" x2="223.4" y2="367.5" stroke="#000" stroke-width="1.3"/>
<line x1="222.8" y1="366.8" x2="379.2" y2="366.8" stroke="#000" stroke-width="1.3"/>
<line x1="220.7" y1="243.5" x2="223.4" y2="243.5" stroke="#000" stroke-width="1.1"/>
<text x="217" y="246.8" font-size="9.5" text-anchor="end" fill="#000">6</text>
<line x1="220.7" y1="271.3" x2="223.4" y2="271.3" stroke="#000" stroke-width="1.1"/>
<text x="217" y="274.6" font-size="9.5" text-anchor="end" fill="#000">4</text>
<line x1="220.7" y1="299.1" x2="223.4" y2="299.1" stroke="#000" stroke-width="1.1"/>
<text x="217" y="302.4" font-size="9.5" text-anchor="end" fill="#000">2</text>
<line x1="220.7" y1="326.9" x2="223.4" y2="326.9" stroke="#000" stroke-width="1.1"/>
<text x="217" y="330.2" font-size="9.5" text-anchor="end" fill="#000">0</text>
<line x1="220.7" y1="354.7" x2="223.4" y2="354.7" stroke="#000" stroke-width="1.1"/>
<text x="217" y="358" font-size="9.5" text-anchor="end" fill="#000">−2</text>
<line x1="264.1" y1="366.8" x2="264.1" y2="369.6" stroke="#000" stroke-width="1.1"/>
<line x1="326.1" y1="366.8" x2="326.1" y2="369.6" stroke="#000" stroke-width="1.1"/>
<text x="265" y="378.9" font-size="9.1" text-anchor="middle" fill="#000">Mutation</text>
<text x="327" y="378.9" font-size="9.1" text-anchor="middle" fill="#000">None Detected</text>
<text x="303.8" y="234.2" font-size="9.2" text-anchor="middle" fill="#000">PTEN</text>
<text x="203.5" y="238" font-size="17" text-anchor="start" fill="#000" font-weight="bold">c</text>
<text transform="translate(210.2 297) rotate(-90)" font-size="9" text-anchor="middle">Mean log<tspan font-size="6" dy="2">2</tspan><tspan dy="-2">(FC)</tspan></text>
<text x="253.9" y="263" font-size="8.85" text-anchor="start" fill="#E0262B">p = 2.8e−16</text>
<g fill="#000">
<circle cx="264.2" cy="310.0" r="1.0"/>
<circle cx="263.5" cy="310.6" r="1.0"/>
<circle cx="264.1" cy="312.1" r="1.0"/>
<circle cx="263.4" cy="313.1" r="1.0"/>
<circle cx="264.6" cy="312.7" r="1.0"/>
<circle cx="264.0" cy="314.3" r="1.0"/>
<circle cx="263.4" cy="315.4" r="1.0"/>
<circle cx="264.6" cy="315.2" r="1.0"/>
<circle cx="264.3" cy="316.1" r="1.0"/>
<circle cx="263.5" cy="317.3" r="1.0"/>
<circle cx="264.9" cy="317.5" r="1.0"/>
<circle cx="262.5" cy="318.3" r="1.0"/>
<circle cx="264.1" cy="318.6" r="1.0"/>
<circle cx="265.5" cy="318.8" r="1.0"/>
<circle cx="262.1" cy="319.8" r="1.0"/>
<circle cx="263.3" cy="319.7" r="1.0"/>
<circle cx="264.5" cy="319.8" r="1.0"/>
<circle cx="266.1" cy="319.6" r="1.0"/>
<circle cx="261.2" cy="320.9" r="1.0"/>
<circle cx="262.5" cy="320.8" r="1.0"/>
<circle cx="264.2" cy="320.5" r="1.0"/>
<circle cx="265.3" cy="320.8" r="1.0"/>
<circle cx="266.3" cy="320.5" r="1.0"/>
<circle cx="261.2" cy="321.6" r="1.0"/>
<circle cx="262.4" cy="321.6" r="1.0"/>
<circle cx="263.7" cy="321.7" r="1.0"/>
<circle cx="264.8" cy="321.5" r="1.0"/>
<circle cx="265.8" cy="321.6" r="1.0"/>
<circle cx="267.2" cy="321.9" r="1.0"/>
<circle cx="268.4" cy="321.9" r="1.0"/>
<circle cx="256.2" cy="323.0" r="1.0"/>
<circle cx="257.5" cy="322.7" r="1.0"/>
<circle cx="258.8" cy="322.8" r="1.0"/>
<circle cx="260.4" cy="322.9" r="1.0"/>
<circle cx="261.5" cy="322.7" r="1.0"/>
<circle cx="262.7" cy="322.7" r="1.0"/>
<circle cx="264.1" cy="322.6" r="1.0"/>
<circle cx="265.3" cy="323.0" r="1.0"/>
<circle cx="266.5" cy="322.6" r="1.0"/>
<circle cx="267.6" cy="322.7" r="1.0"/>
<circle cx="268.9" cy="322.8" r="1.0"/>
<circle cx="270.5" cy="323.1" r="1.0"/>
<circle cx="271.7" cy="323.0" r="1.0"/>
<circle cx="272.7" cy="323.2" r="1.0"/>
<circle cx="254.6" cy="323.8" r="1.0"/>
<circle cx="255.8" cy="324.1" r="1.0"/>
<circle cx="257.1" cy="324.1" r="1.0"/>
<circle cx="258.5" cy="323.9" r="1.0"/>
<circle cx="259.4" cy="324.1" r="1.0"/>
<circle cx="260.8" cy="324.0" r="1.0"/>
<circle cx="261.9" cy="323.8" r="1.0"/>
<circle cx="263.3" cy="324.1" r="1.0"/>
<circle cx="264.4" cy="324.2" r="1.0"/>
<circle cx="266.1" cy="324.1" r="1.0"/>
<circle cx="267.3" cy="323.8" r="1.0"/>
<circle cx="268.1" cy="323.9" r="1.0"/>
<circle cx="269.4" cy="323.9" r="1.0"/>
<circle cx="271.0" cy="323.9" r="1.0"/>
<circle cx="272.3" cy="324.0" r="1.0"/>
<circle cx="273.2" cy="324.1" r="1.0"/>
<circle cx="253.9" cy="325.0" r="1.0"/>
<circle cx="255.5" cy="324.8" r="1.0"/>
<circle cx="256.6" cy="325.1" r="1.0"/>
<circle cx="257.5" cy="325.2" r="1.0"/>
<circle cx="259.2" cy="325.3" r="1.0"/>
<circle cx="260.0" cy="325.3" r="1.0"/>
<circle cx="261.4" cy="325.3" r="1.0"/>
<circle cx="262.8" cy="324.8" r="1.0"/>
<circle cx="264.1" cy="325.1" r="1.0"/>
<circle cx="265.2" cy="325.2" r="1.0"/>
<circle cx="266.5" cy="324.8" r="1.0"/>
<circle cx="268.0" cy="325.0" r="1.0"/>
<circle cx="268.9" cy="324.8" r="1.0"/>
<circle cx="270.4" cy="325.3" r="1.0"/>
<circle cx="271.5" cy="325.3" r="1.0"/>
<circle cx="272.6" cy="325.0" r="1.0"/>
<circle cx="273.9" cy="325.0" r="1.0"/>
<circle cx="254.7" cy="326.2" r="1.0"/>
<circle cx="256.1" cy="325.9" r="1.0"/>
<circle cx="257.3" cy="325.9" r="1.0"/>
<circle cx="258.2" cy="325.9" r="1.0"/>
<circle cx="259.6" cy="326.1" r="1.0"/>
<circle cx="260.8" cy="326.5" r="1.0"/>
<circle cx="262.2" cy="326.5" r="1.0"/>
<circle cx="263.6" cy="326.1" r="1.0"/>
<circle cx="264.7" cy="326.0" r="1.0"/>
<circle cx="265.8" cy="326.3" r="1.0"/>
<circle cx="267.2" cy="326.0" r="1.0"/>
<circle cx="268.1" cy="326.4" r="1.0"/>
<circle cx="269.7" cy="326.3" r="1.0"/>
<circle cx="270.7" cy="326.4" r="1.0"/>
<circle cx="272.2" cy="326.0" r="1.0"/>
<circle cx="273.2" cy="326.3" r="1.0"/>
<circle cx="259.1" cy="327.4" r="1.0"/>
<circle cx="260.0" cy="327.4" r="1.0"/>
<circle cx="261.5" cy="327.4" r="1.0"/>
<circle cx="262.5" cy="327.4" r="1.0"/>
<circle cx="264.3" cy="327.4" r="1.0"/>
<circle cx="265.0" cy="327.6" r="1.0"/>
<circle cx="266.5" cy="327.2" r="1.0"/>
<circle cx="267.8" cy="327.5" r="1.0"/>
<circle cx="268.8" cy="327.3" r="1.0"/>
<circle cx="262.0" cy="328.7" r="1.0"/>
<circle cx="263.5" cy="328.7" r="1.0"/>
<circle cx="264.5" cy="328.2" r="1.0"/>
<circle cx="266.2" cy="328.1" r="1.0"/>
<circle cx="261.7" cy="329.5" r="1.0"/>
<circle cx="262.8" cy="329.4" r="1.0"/>
<circle cx="264.2" cy="329.7" r="1.0"/>
<circle cx="265.3" cy="329.5" r="1.0"/>
<circle cx="263.7" cy="330.9" r="1.0"/>
<circle cx="264.6" cy="330.4" r="1.0"/>
<circle cx="263.0" cy="331.5" r="1.0"/>
<circle cx="264.3" cy="331.6" r="1.0"/>
<circle cx="264.0" cy="306.8" r="1.05"/>
<circle cx="264.0" cy="335.1" r="1.05"/>
<circle cx="326.1" cy="282.7" r="1.0"/>
<circle cx="325.8" cy="283.8" r="1.0"/>
<circle cx="326.2" cy="285.1" r="1.0"/>
<circle cx="325.7" cy="286.3" r="1.0"/>
<circle cx="326.0" cy="287.3" r="1.0"/>
<circle cx="325.5" cy="288.5" r="1.0"/>
<circle cx="326.4" cy="289.2" r="1.0"/>
<circle cx="325.7" cy="290.7" r="1.0"/>
<circle cx="326.2" cy="291.6" r="1.0"/>
<circle cx="325.8" cy="292.3" r="1.0"/>
<circle cx="326.5" cy="293.9" r="1.0"/>
<circle cx="325.5" cy="295.0" r="1.0"/>
<circle cx="326.4" cy="295.7" r="1.0"/>
<circle cx="325.7" cy="297.0" r="1.0"/>
<circle cx="326.8" cy="297.1" r="1.0"/>
<circle cx="324.0" cy="298.3" r="1.0"/>
<circle cx="324.9" cy="298.3" r="1.0"/>
<circle cx="326.1" cy="298.0" r="1.0"/>
<circle cx="327.8" cy="297.8" r="1.0"/>
<circle cx="324.4" cy="299.4" r="1.0"/>
<circle cx="325.6" cy="299.2" r="1.0"/>
<circle cx="326.6" cy="299.2" r="1.0"/>
<circle cx="328.2" cy="299.4" r="1.0"/>
<circle cx="323.6" cy="300.5" r="1.0"/>
<circle cx="325.1" cy="300.4" r="1.0"/>
<circle cx="326.2" cy="300.3" r="1.0"/>
<circle cx="327.5" cy="300.1" r="1.0"/>
<circle cx="322.1" cy="301.3" r="1.0"/>
<circle cx="323.2" cy="301.4" r="1.0"/>
<circle cx="324.5" cy="301.6" r="1.0"/>
<circle cx="325.8" cy="301.3" r="1.0"/>
<circle cx="326.7" cy="301.2" r="1.0"/>
<circle cx="327.8" cy="301.6" r="1.0"/>
<circle cx="329.6" cy="301.3" r="1.0"/>
<circle cx="330.6" cy="301.1" r="1.0"/>
<circle cx="321.1" cy="302.6" r="1.0"/>
<circle cx="322.6" cy="302.7" r="1.0"/>
<circle cx="323.9" cy="302.4" r="1.0"/>
<circle cx="325.2" cy="302.6" r="1.0"/>
<circle cx="326.2" cy="302.7" r="1.0"/>
<circle cx="327.4" cy="302.3" r="1.0"/>
<circle cx="328.9" cy="302.4" r="1.0"/>
<circle cx="329.8" cy="302.3" r="1.0"/>
<circle cx="321.8" cy="303.4" r="1.0"/>
<circle cx="323.0" cy="303.4" r="1.0"/>
<circle cx="324.7" cy="303.6" r="1.0"/>
<circle cx="325.8" cy="303.4" r="1.0"/>
<circle cx="326.8" cy="303.4" r="1.0"/>
<circle cx="328.4" cy="303.3" r="1.0"/>
<circle cx="329.1" cy="303.5" r="1.0"/>
<circle cx="330.4" cy="303.7" r="1.0"/>
<circle cx="320.0" cy="304.8" r="1.0"/>
<circle cx="321.4" cy="304.8" r="1.0"/>
<circle cx="322.4" cy="304.4" r="1.0"/>
<circle cx="323.5" cy="304.5" r="1.0"/>
<circle cx="325.2" cy="304.4" r="1.0"/>
<circle cx="326.1" cy="304.6" r="1.0"/>
<circle cx="327.3" cy="304.6" r="1.0"/>
<circle cx="328.5" cy="304.9" r="1.0"/>
<circle cx="330.0" cy="305.0" r="1.0"/>
<circle cx="331.2" cy="304.5" r="1.0"/>
<circle cx="332.3" cy="304.9" r="1.0"/>
<circle cx="319.5" cy="305.9" r="1.0"/>
<circle cx="320.9" cy="305.8" r="1.0"/>
<circle cx="321.9" cy="306.1" r="1.0"/>
<circle cx="323.2" cy="305.7" r="1.0"/>
<circle cx="324.5" cy="305.8" r="1.0"/>
<circle cx="325.8" cy="305.6" r="1.0"/>
<circle cx="327.2" cy="306.0" r="1.0"/>
<circle cx="328.0" cy="306.0" r="1.0"/>
<circle cx="329.7" cy="306.0" r="1.0"/>
<circle cx="330.4" cy="305.9" r="1.0"/>
<circle cx="331.8" cy="306.0" r="1.0"/>
<circle cx="334.2" cy="306.0" r="1.0"/>
<circle cx="317.3" cy="306.8" r="1.0"/>
<circle cx="318.9" cy="306.8" r="1.0"/>
<circle cx="320.3" cy="306.6" r="1.0"/>
<circle cx="321.5" cy="307.0" r="1.0"/>
<circle cx="322.6" cy="306.7" r="1.0"/>
<circle cx="323.7" cy="307.0" r="1.0"/>
<circle cx="324.9" cy="307.0" r="1.0"/>
<circle cx="326.3" cy="307.2" r="1.0"/>
<circle cx="327.5" cy="306.7" r="1.0"/>
<circle cx="328.7" cy="307.1" r="1.0"/>
<circle cx="330.1" cy="306.8" r="1.0"/>
<circle cx="331.1" cy="307.0" r="1.0"/>
<circle cx="332.3" cy="306.9" r="1.0"/>
<circle cx="334.0" cy="306.7" r="1.0"/>
<circle cx="319.2" cy="308.3" r="1.0"/>
<circle cx="320.9" cy="307.7" r="1.0"/>
<circle cx="321.8" cy="308.1" r="1.0"/>
<circle cx="322.8" cy="307.9" r="1.0"/>
<circle cx="324.6" cy="307.8" r="1.0"/>
<circle cx="325.7" cy="307.8" r="1.0"/>
<circle cx="327.0" cy="308.1" r="1.0"/>
<circle cx="328.1" cy="308.1" r="1.0"/>
<circle cx="329.5" cy="307.8" r="1.0"/>
<circle cx="330.6" cy="307.9" r="1.0"/>
<circle cx="331.9" cy="308.1" r="1.0"/>
<circle cx="318.9" cy="309.4" r="1.0"/>
<circle cx="319.9" cy="309.3" r="1.0"/>
<circle cx="321.4" cy="308.9" r="1.0"/>
<circle cx="322.7" cy="309.1" r="1.0"/>
<circle cx="323.6" cy="308.9" r="1.0"/>
<circle cx="324.9" cy="309.3" r="1.0"/>
<circle cx="326.1" cy="309.2" r="1.0"/>
<circle cx="327.3" cy="309.0" r="1.0"/>
<circle cx="328.8" cy="309.0" r="1.0"/>
<circle cx="329.7" cy="309.1" r="1.0"/>
<circle cx="331.0" cy="308.8" r="1.0"/>
<circle cx="332.3" cy="309.4" r="1.0"/>
<circle cx="314.4" cy="310.2" r="1.0"/>
<circle cx="315.7" cy="310.4" r="1.0"/>
<circle cx="317.0" cy="310.5" r="1.0"/>
<circle cx="318.2" cy="310.5" r="1.0"/>
<circle cx="319.1" cy="310.5" r="1.0"/>
<circle cx="320.7" cy="310.1" r="1.0"/>
<circle cx="321.8" cy="310.2" r="1.0"/>
<circle cx="322.8" cy="310.3" r="1.0"/>
<circle cx="324.1" cy="310.0" r="1.0"/>
<circle cx="325.7" cy="310.1" r="1.0"/>
<circle cx="327.1" cy="310.2" r="1.0"/>
<circle cx="327.9" cy="310.0" r="1.0"/>
<circle cx="329.6" cy="310.3" r="1.0"/>
<circle cx="330.8" cy="310.5" r="1.0"/>
<circle cx="331.6" cy="310.4" r="1.0"/>
<circle cx="333.3" cy="310.2" r="1.0"/>
<circle cx="334.2" cy="310.0" r="1.0"/>
<circle cx="335.4" cy="310.1" r="1.0"/>
<circle cx="336.7" cy="310.4" r="1.0"/>
<circle cx="317.6" cy="311.4" r="1.0"/>
<circle cx="318.5" cy="311.5" r="1.0"/>
<circle cx="320.0" cy="311.3" r="1.0"/>
<circle cx="321.5" cy="311.0" r="1.0"/>
<circle cx="322.6" cy="311.5" r="1.0"/>
<circle cx="323.8" cy="311.1" r="1.0"/>
<circle cx="325.3" cy="311.3" r="1.0"/>
<circle cx="326.1" cy="311.2" r="1.0"/>
<circle cx="327.5" cy="311.1" r="1.0"/>
<circle cx="328.8" cy="311.1" r="1.0"/>
<circle cx="329.9" cy="311.4" r="1.0"/>
<circle cx="331.3" cy="311.3" r="1.0"/>
<circle cx="332.2" cy="311.2" r="1.0"/>
<circle cx="333.9" cy="311.3" r="1.0"/>
<circle cx="335.2" cy="311.3" r="1.0"/>
<circle cx="316.8" cy="312.3" r="1.0"/>
<circle cx="318.3" cy="312.2" r="1.0"/>
<circle cx="319.6" cy="312.3" r="1.0"/>
<circle cx="320.6" cy="312.2" r="1.0"/>
<circle cx="321.7" cy="312.1" r="1.0"/>
<circle cx="323.1" cy="312.1" r="1.0"/>
<circle cx="324.6" cy="312.6" r="1.0"/>
<circle cx="325.8" cy="312.3" r="1.0"/>
<circle cx="327.1" cy="312.3" r="1.0"/>
<circle cx="328.2" cy="312.5" r="1.0"/>
<circle cx="329.4" cy="312.3" r="1.0"/>
<circle cx="330.9" cy="312.3" r="1.0"/>
<circle cx="331.8" cy="312.7" r="1.0"/>
<circle cx="333.3" cy="312.7" r="1.0"/>
<circle cx="334.5" cy="312.1" r="1.0"/>
<circle cx="316.4" cy="313.8" r="1.0"/>
<circle cx="317.4" cy="313.4" r="1.0"/>
<circle cx="318.8" cy="313.4" r="1.0"/>
<circle cx="320.1" cy="313.3" r="1.0"/>
<circle cx="321.1" cy="313.4" r="1.0"/>
<circle cx="322.6" cy="313.3" r="1.0"/>
<circle cx="323.6" cy="313.7" r="1.0"/>
<circle cx="324.9" cy="313.4" r="1.0"/>
<circle cx="326.0" cy="313.6" r="1.0"/>
<circle cx="327.6" cy="313.3" r="1.0"/>
<circle cx="328.9" cy="313.2" r="1.0"/>
<circle cx="329.8" cy="313.5" r="1.0"/>
<circle cx="331.3" cy="313.4" r="1.0"/>
<circle cx="332.3" cy="313.6" r="1.0"/>
<circle cx="333.5" cy="313.6" r="1.0"/>
<circle cx="335.1" cy="313.8" r="1.0"/>
<circle cx="317.2" cy="314.4" r="1.0"/>
<circle cx="318.0" cy="314.7" r="1.0"/>
<circle cx="319.5" cy="314.8" r="1.0"/>
<circle cx="320.6" cy="314.9" r="1.0"/>
<circle cx="321.9" cy="314.5" r="1.0"/>
<circle cx="323.2" cy="314.5" r="1.0"/>
<circle cx="324.2" cy="314.3" r="1.0"/>
<circle cx="325.3" cy="314.8" r="1.0"/>
<circle cx="327.2" cy="314.4" r="1.0"/>
<circle cx="328.0" cy="314.6" r="1.0"/>
<circle cx="329.2" cy="314.3" r="1.0"/>
<circle cx="330.6" cy="314.9" r="1.0"/>
<circle cx="331.9" cy="314.5" r="1.0"/>
<circle cx="333.2" cy="314.4" r="1.0"/>
<circle cx="334.3" cy="314.6" r="1.0"/>
<circle cx="335.5" cy="314.8" r="1.0"/>
<circle cx="316.0" cy="315.6" r="1.0"/>
<circle cx="317.7" cy="315.7" r="1.0"/>
<circle cx="318.9" cy="315.9" r="1.0"/>
<circle cx="320.2" cy="315.8" r="1.0"/>
<circle cx="321.5" cy="315.6" r="1.0"/>
<circle cx="322.4" cy="315.6" r="1.0"/>
<circle cx="324.0" cy="315.6" r="1.0"/>
<circle cx="325.2" cy="315.6" r="1.0"/>
<circle cx="326.4" cy="315.8" r="1.0"/>
<circle cx="327.7" cy="315.6" r="1.0"/>
<circle cx="329.0" cy="315.6" r="1.0"/>
<circle cx="330.2" cy="315.6" r="1.0"/>
<circle cx="331.0" cy="315.9" r="1.0"/>
<circle cx="332.5" cy="315.6" r="1.0"/>
<circle cx="334.0" cy="315.4" r="1.0"/>
<circle cx="335.2" cy="315.5" r="1.0"/>
<circle cx="336.5" cy="315.7" r="1.0"/>
<circle cx="308.2" cy="316.9" r="1.0"/>
<circle cx="309.6" cy="316.6" r="1.0"/>
<circle cx="310.3" cy="316.5" r="1.0"/>
<circle cx="311.7" cy="316.5" r="1.0"/>
<circle cx="313.4" cy="316.8" r="1.0"/>
<circle cx="314.6" cy="316.9" r="1.0"/>
<circle cx="315.5" cy="316.8" r="1.0"/>
<circle cx="316.9" cy="316.5" r="1.0"/>
<circle cx="318.4" cy="316.6" r="1.0"/>
<circle cx="319.1" cy="316.7" r="1.0"/>
<circle cx="320.8" cy="316.8" r="1.0"/>
<circle cx="322.0" cy="316.5" r="1.0"/>
<circle cx="323.2" cy="316.7" r="1.0"/>
<circle cx="324.5" cy="316.7" r="1.0"/>
<circle cx="325.5" cy="316.9" r="1.0"/>
<circle cx="327.0" cy="316.8" r="1.0"/>
<circle cx="328.4" cy="316.8" r="1.0"/>
<circle cx="329.6" cy="316.5" r="1.0"/>
<circle cx="330.9" cy="316.8" r="1.0"/>
<circle cx="332.0" cy="316.9" r="1.0"/>
<circle cx="333.1" cy="316.8" r="1.0"/>
<circle cx="334.3" cy="316.6" r="1.0"/>
<circle cx="335.4" cy="316.9" r="1.0"/>
<circle cx="337.1" cy="317.1" r="1.0"/>
<circle cx="338.0" cy="316.9" r="1.0"/>
<circle cx="339.6" cy="317.1" r="1.0"/>
<circle cx="340.4" cy="316.6" r="1.0"/>
<circle cx="342.2" cy="316.5" r="1.0"/>
<circle cx="343.4" cy="317.1" r="1.0"/>
<circle cx="312.7" cy="317.7" r="1.0"/>
<circle cx="313.7" cy="317.9" r="1.0"/>
<circle cx="315.0" cy="318.0" r="1.0"/>
<circle cx="316.1" cy="317.6" r="1.0"/>
<circle cx="317.7" cy="317.7" r="1.0"/>
<circle cx="318.9" cy="317.6" r="1.0"/>
<circle cx="319.9" cy="318.0" r="1.0"/>
<circle cx="321.5" cy="318.1" r="1.0"/>
<circle cx="322.6" cy="318.1" r="1.0"/>
<circle cx="323.5" cy="318.2" r="1.0"/>
<circle cx="325.2" cy="318.0" r="1.0"/>
<circle cx="326.0" cy="317.7" r="1.0"/>
<circle cx="327.3" cy="318.0" r="1.0"/>
<circle cx="328.9" cy="318.2" r="1.0"/>
<circle cx="330.1" cy="317.8" r="1.0"/>
<circle cx="331.1" cy="318.1" r="1.0"/>
<circle cx="332.7" cy="317.7" r="1.0"/>
<circle cx="333.8" cy="318.0" r="1.0"/>
<circle cx="334.7" cy="317.9" r="1.0"/>
<circle cx="336.5" cy="318.0" r="1.0"/>
<circle cx="337.5" cy="317.9" r="1.0"/>
<circle cx="339.0" cy="318.2" r="1.0"/>
<circle cx="312.0" cy="319.0" r="1.0"/>
<circle cx="313.3" cy="318.9" r="1.0"/>
<circle cx="314.4" cy="318.9" r="1.0"/>
<circle cx="315.7" cy="318.7" r="1.0"/>
<circle cx="317.1" cy="319.2" r="1.0"/>
<circle cx="318.2" cy="318.8" r="1.0"/>
<circle cx="319.2" cy="318.7" r="1.0"/>
<circle cx="320.6" cy="319.3" r="1.0"/>
<circle cx="321.6" cy="319.1" r="1.0"/>
<circle cx="323.1" cy="318.7" r="1.0"/>
<circle cx="324.3" cy="318.8" r="1.0"/>
<circle cx="325.4" cy="319.3" r="1.0"/>
<circle cx="327.1" cy="318.7" r="1.0"/>
<circle cx="327.9" cy="318.7" r="1.0"/>
<circle cx="329.3" cy="319.3" r="1.0"/>
<circle cx="330.9" cy="319.3" r="1.0"/>
<circle cx="331.7" cy="319.0" r="1.0"/>
<circle cx="333.0" cy="319.2" r="1.0"/>
<circle cx="334.2" cy="318.9" r="1.0"/>
<circle cx="335.5" cy="319.3" r="1.0"/>
<circle cx="337.0" cy="318.9" r="1.0"/>
<circle cx="337.8" cy="319.0" r="1.0"/>
<circle cx="339.3" cy="319.2" r="1.0"/>
<circle cx="310.2" cy="320.3" r="1.0"/>
<circle cx="312.7" cy="320.0" r="1.0"/>
<circle cx="313.5" cy="320.2" r="1.0"/>
<circle cx="315.2" cy="320.0" r="1.0"/>
<circle cx="316.3" cy="319.9" r="1.0"/>
<circle cx="317.5" cy="320.2" r="1.0"/>
<circle cx="318.7" cy="320.0" r="1.0"/>
<circle cx="319.9" cy="320.2" r="1.0"/>
<circle cx="321.4" cy="320.1" r="1.0"/>
<circle cx="322.4" cy="320.4" r="1.0"/>
<circle cx="323.5" cy="320.4" r="1.0"/>
<circle cx="325.2" cy="320.1" r="1.0"/>
<circle cx="326.1" cy="319.9" r="1.0"/>
<circle cx="327.6" cy="320.2" r="1.0"/>
<circle cx="328.9" cy="320.0" r="1.0"/>
<circle cx="329.8" cy="320.1" r="1.0"/>
<circle cx="331.4" cy="320.4" r="1.0"/>
<circle cx="332.7" cy="319.9" r="1.0"/>
<circle cx="333.7" cy="320.3" r="1.0"/>
<circle cx="335.1" cy="320.1" r="1.0"/>
<circle cx="336.1" cy="320.1" r="1.0"/>
<circle cx="337.4" cy="320.0" r="1.0"/>
<circle cx="339.0" cy="319.9" r="1.0"/>
<circle cx="340.1" cy="320.2" r="1.0"/>
<circle cx="304.5" cy="321.4" r="1.0"/>
<circle cx="305.7" cy="321.0" r="1.0"/>
<circle cx="307.0" cy="321.2" r="1.0"/>
<circle cx="307.8" cy="320.9" r="1.0"/>
<circle cx="309.2" cy="321.3" r="1.0"/>
<circle cx="310.8" cy="321.2" r="1.0"/>
<circle cx="312.0" cy="321.5" r="1.0"/>
<circle cx="313.1" cy="321.4" r="1.0"/>
<circle cx="314.3" cy="321.5" r="1.0"/>
<circle cx="315.4" cy="321.4" r="1.0"/>
<circle cx="317.0" cy="321.1" r="1.0"/>
<circle cx="318.2" cy="321.2" r="1.0"/>
<circle cx="319.3" cy="321.0" r="1.0"/>
<circle cx="320.6" cy="321.4" r="1.0"/>
<circle cx="322.1" cy="320.9" r="1.0"/>
<circle cx="323.2" cy="321.3" r="1.0"/>
<circle cx="324.3" cy="321.1" r="1.0"/>
<circle cx="325.8" cy="321.4" r="1.0"/>
<circle cx="326.7" cy="321.1" r="1.0"/>
<circle cx="328.4" cy="321.5" r="1.0"/>
<circle cx="329.6" cy="321.2" r="1.0"/>
<circle cx="330.9" cy="321.4" r="1.0"/>
<circle cx="331.7" cy="321.3" r="1.0"/>
<circle cx="333.3" cy="321.1" r="1.0"/>
<circle cx="334.5" cy="321.4" r="1.0"/>
<circle cx="335.8" cy="321.1" r="1.0"/>
<circle cx="336.8" cy="321.2" r="1.0"/>
<circle cx="338.1" cy="321.2" r="1.0"/>
<circle cx="339.6" cy="321.2" r="1.0"/>
<circle cx="340.8" cy="321.4" r="1.0"/>
<circle cx="341.6" cy="320.9" r="1.0"/>
<circle cx="343.2" cy="321.0" r="1.0"/>
<circle cx="344.3" cy="321.0" r="1.0"/>
<circle cx="345.8" cy="321.4" r="1.0"/>
<circle cx="346.9" cy="321.0" r="1.0"/>
<circle cx="348.0" cy="321.0" r="1.0"/>
<circle cx="302.7" cy="322.4" r="1.0"/>
<circle cx="304.0" cy="322.2" r="1.0"/>
<circle cx="304.8" cy="322.1" r="1.0"/>
<circle cx="306.4" cy="322.1" r="1.0"/>
<circle cx="307.3" cy="322.3" r="1.0"/>
<circle cx="308.9" cy="322.5" r="1.0"/>
<circle cx="309.8" cy="322.2" r="1.0"/>
<circle cx="311.1" cy="322.1" r="1.0"/>
<circle cx="312.5" cy="322.3" r="1.0"/>
<circle cx="313.9" cy="322.1" r="1.0"/>
<circle cx="314.7" cy="322.1" r="1.0"/>
<circle cx="316.0" cy="322.1" r="1.0"/>
<circle cx="317.4" cy="322.4" r="1.0"/>
<circle cx="318.5" cy="322.1" r="1.0"/>
<circle cx="320.0" cy="322.2" r="1.0"/>
<circle cx="321.2" cy="322.3" r="1.0"/>
<circle cx="322.5" cy="322.5" r="1.0"/>
<circle cx="323.7" cy="322.4" r="1.0"/>
<circle cx="325.2" cy="322.1" r="1.0"/>
<circle cx="326.3" cy="322.5" r="1.0"/>
<circle cx="327.3" cy="322.3" r="1.0"/>
<circle cx="328.6" cy="322.3" r="1.0"/>
<circle cx="330.1" cy="322.6" r="1.0"/>
<circle cx="331.3" cy="322.6" r="1.0"/>
<circle cx="332.5" cy="322.4" r="1.0"/>
<circle cx="333.7" cy="322.4" r="1.0"/>
<circle cx="334.8" cy="322.4" r="1.0"/>
<circle cx="336.5" cy="322.5" r="1.0"/>
<circle cx="337.7" cy="322.4" r="1.0"/>
<circle cx="338.8" cy="322.6" r="1.0"/>
<circle cx="340.3" cy="322.6" r="1.0"/>
<circle cx="341.0" cy="322.5" r="1.0"/>
<circle cx="342.3" cy="322.4" r="1.0"/>
<circle cx="343.9" cy="322.4" r="1.0"/>
<circle cx="345.1" cy="322.2" r="1.0"/>
<circle cx="346.4" cy="322.2" r="1.0"/>
<circle cx="347.6" cy="322.2" r="1.0"/>
<circle cx="348.9" cy="322.2" r="1.0"/>
<circle cx="304.1" cy="323.4" r="1.0"/>
<circle cx="305.7" cy="323.7" r="1.0"/>
<circle cx="307.2" cy="323.2" r="1.0"/>
<circle cx="308.2" cy="323.1" r="1.0"/>
<circle cx="309.4" cy="323.7" r="1.0"/>
<circle cx="310.8" cy="323.5" r="1.0"/>
<circle cx="311.9" cy="323.6" r="1.0"/>
<circle cx="313.1" cy="323.3" r="1.0"/>
<circle cx="314.3" cy="323.2" r="1.0"/>
<circle cx="315.8" cy="323.3" r="1.0"/>
<circle cx="316.7" cy="323.6" r="1.0"/>
<circle cx="318.4" cy="323.3" r="1.0"/>
<circle cx="319.1" cy="323.1" r="1.0"/>
<circle cx="320.4" cy="323.7" r="1.0"/>
<circle cx="321.9" cy="323.4" r="1.0"/>
<circle cx="323.3" cy="323.7" r="1.0"/>
<circle cx="324.4" cy="323.7" r="1.0"/>
<circle cx="325.3" cy="323.6" r="1.0"/>
<circle cx="326.7" cy="323.3" r="1.0"/>
<circle cx="328.2" cy="323.4" r="1.0"/>
<circle cx="329.4" cy="323.2" r="1.0"/>
<circle cx="330.7" cy="323.3" r="1.0"/>
<circle cx="331.7" cy="323.2" r="1.0"/>
<circle cx="333.2" cy="323.2" r="1.0"/>
<circle cx="334.5" cy="323.5" r="1.0"/>
<circle cx="335.4" cy="323.5" r="1.0"/>
<circle cx="336.7" cy="323.4" r="1.0"/>
<circle cx="338.1" cy="323.2" r="1.0"/>
<circle cx="339.1" cy="323.4" r="1.0"/>
<circle cx="340.5" cy="323.3" r="1.0"/>
<circle cx="341.8" cy="323.1" r="1.0"/>
<circle cx="343.4" cy="323.5" r="1.0"/>
<circle cx="344.3" cy="323.1" r="1.0"/>
<circle cx="345.8" cy="323.1" r="1.0"/>
<circle cx="346.9" cy="323.1" r="1.0"/>
<circle cx="347.9" cy="323.2" r="1.0"/>
<circle cx="349.2" cy="323.2" r="1.0"/>
<circle cx="307.3" cy="324.2" r="1.0"/>
<circle cx="308.9" cy="324.4" r="1.0"/>
<circle cx="309.7" cy="324.3" r="1.0"/>
<circle cx="311.0" cy="324.5" r="1.0"/>
<circle cx="312.6" cy="324.5" r="1.0"/>
<circle cx="313.8" cy="324.2" r="1.0"/>
<circle cx="314.9" cy="324.2" r="1.0"/>
<circle cx="316.2" cy="324.5" r="1.0"/>
<circle cx="317.2" cy="324.7" r="1.0"/>
<circle cx="318.5" cy="324.5" r="1.0"/>
<circle cx="320.2" cy="324.8" r="1.0"/>
<circle cx="321.1" cy="324.3" r="1.0"/>
<circle cx="322.3" cy="324.3" r="1.0"/>
<circle cx="323.8" cy="324.3" r="1.0"/>
<circle cx="325.1" cy="324.2" r="1.0"/>
<circle cx="326.2" cy="324.6" r="1.0"/>
<circle cx="327.4" cy="324.7" r="1.0"/>
<circle cx="328.6" cy="324.7" r="1.0"/>
<circle cx="330.0" cy="324.5" r="1.0"/>
<circle cx="331.5" cy="324.8" r="1.0"/>
<circle cx="332.8" cy="324.6" r="1.0"/>
<circle cx="333.9" cy="324.5" r="1.0"/>
<circle cx="335.0" cy="324.4" r="1.0"/>
<circle cx="336.3" cy="324.2" r="1.0"/>
<circle cx="337.8" cy="324.2" r="1.0"/>
<circle cx="338.8" cy="324.6" r="1.0"/>
<circle cx="340.1" cy="324.4" r="1.0"/>
<circle cx="341.2" cy="324.5" r="1.0"/>
<circle cx="342.3" cy="324.5" r="1.0"/>
<circle cx="343.5" cy="324.5" r="1.0"/>
<circle cx="344.7" cy="324.3" r="1.0"/>
<circle cx="309.4" cy="325.6" r="1.0"/>
<circle cx="310.5" cy="325.3" r="1.0"/>
<circle cx="311.7" cy="325.6" r="1.0"/>
<circle cx="313.3" cy="325.5" r="1.0"/>
<circle cx="314.5" cy="325.3" r="1.0"/>
<circle cx="315.6" cy="325.7" r="1.0"/>
<circle cx="316.7" cy="325.5" r="1.0"/>
<circle cx="318.2" cy="325.4" r="1.0"/>
<circle cx="319.2" cy="325.6" r="1.0"/>
<circle cx="320.7" cy="325.8" r="1.0"/>
<circle cx="322.0" cy="325.8" r="1.0"/>
<circle cx="323.3" cy="325.9" r="1.0"/>
<circle cx="324.4" cy="325.9" r="1.0"/>
<circle cx="325.9" cy="325.5" r="1.0"/>
<circle cx="326.8" cy="325.7" r="1.0"/>
<circle cx="328.3" cy="325.8" r="1.0"/>
<circle cx="329.2" cy="325.7" r="1.0"/>
<circle cx="330.7" cy="325.3" r="1.0"/>
<circle cx="332.0" cy="325.3" r="1.0"/>
<circle cx="333.3" cy="325.9" r="1.0"/>
<circle cx="334.6" cy="325.5" r="1.0"/>
<circle cx="335.6" cy="325.8" r="1.0"/>
<circle cx="336.6" cy="325.6" r="1.0"/>
<circle cx="337.9" cy="325.7" r="1.0"/>
<circle cx="339.3" cy="325.8" r="1.0"/>
<circle cx="340.8" cy="325.5" r="1.0"/>
<circle cx="341.6" cy="325.3" r="1.0"/>
<circle cx="343.2" cy="325.6" r="1.0"/>
<circle cx="344.5" cy="325.4" r="1.0"/>
<circle cx="311.5" cy="326.5" r="1.0"/>
<circle cx="312.2" cy="326.9" r="1.0"/>
<circle cx="313.5" cy="326.9" r="1.0"/>
<circle cx="315.2" cy="326.9" r="1.0"/>
<circle cx="316.1" cy="327.0" r="1.0"/>
<circle cx="317.3" cy="326.4" r="1.0"/>
<circle cx="318.8" cy="326.5" r="1.0"/>
<circle cx="319.8" cy="326.8" r="1.0"/>
<circle cx="321.1" cy="326.4" r="1.0"/>
<circle cx="322.3" cy="326.7" r="1.0"/>
<circle cx="324.0" cy="326.7" r="1.0"/>
<circle cx="325.1" cy="326.9" r="1.0"/>
<circle cx="326.4" cy="326.9" r="1.0"/>
<circle cx="327.5" cy="326.8" r="1.0"/>
<circle cx="328.5" cy="326.4" r="1.0"/>
<circle cx="330.1" cy="326.7" r="1.0"/>
<circle cx="331.4" cy="326.6" r="1.0"/>
<circle cx="332.8" cy="326.5" r="1.0"/>
<circle cx="334.0" cy="326.5" r="1.0"/>
<circle cx="334.8" cy="326.9" r="1.0"/>
<circle cx="336.2" cy="326.7" r="1.0"/>
<circle cx="337.4" cy="326.8" r="1.0"/>
<circle cx="338.6" cy="326.5" r="1.0"/>
<circle cx="340.0" cy="326.8" r="1.0"/>
<circle cx="312.9" cy="327.6" r="1.0"/>
<circle cx="314.4" cy="327.6" r="1.0"/>
<circle cx="315.8" cy="327.5" r="1.0"/>
<circle cx="316.9" cy="327.9" r="1.0"/>
<circle cx="318.4" cy="327.6" r="1.0"/>
<circle cx="319.2" cy="327.9" r="1.0"/>
<circle cx="320.8" cy="328.0" r="1.0"/>
<circle cx="322.1" cy="327.9" r="1.0"/>
<circle cx="323.3" cy="327.9" r="1.0"/>
<circle cx="324.2" cy="327.6" r="1.0"/>
<circle cx="325.8" cy="328.1" r="1.0"/>
<circle cx="326.8" cy="327.6" r="1.0"/>
<circle cx="328.1" cy="327.6" r="1.0"/>
<circle cx="329.2" cy="327.7" r="1.0"/>
<circle cx="330.7" cy="328.1" r="1.0"/>
<circle cx="331.7" cy="328.1" r="1.0"/>
<circle cx="333.1" cy="327.7" r="1.0"/>
<circle cx="334.7" cy="327.5" r="1.0"/>
<circle cx="335.8" cy="327.9" r="1.0"/>
<circle cx="337.0" cy="327.9" r="1.0"/>
<circle cx="338.4" cy="327.8" r="1.0"/>
<circle cx="318.7" cy="328.8" r="1.0"/>
<circle cx="320.3" cy="328.8" r="1.0"/>
<circle cx="321.4" cy="328.9" r="1.0"/>
<circle cx="322.4" cy="328.9" r="1.0"/>
<circle cx="324.0" cy="328.6" r="1.0"/>
<circle cx="325.1" cy="328.7" r="1.0"/>
<circle cx="326.5" cy="329.0" r="1.0"/>
<circle cx="327.5" cy="328.8" r="1.0"/>
<circle cx="328.5" cy="328.8" r="1.0"/>
<circle cx="329.7" cy="328.7" r="1.0"/>
<circle cx="331.5" cy="328.9" r="1.0"/>
<circle cx="332.5" cy="328.8" r="1.0"/>
<circle cx="333.7" cy="329.0" r="1.0"/>
<circle cx="319.2" cy="329.9" r="1.0"/>
<circle cx="320.9" cy="329.9" r="1.0"/>
<circle cx="322.0" cy="330.1" r="1.0"/>
<circle cx="323.1" cy="329.9" r="1.0"/>
<circle cx="324.5" cy="329.9" r="1.0"/>
<circle cx="325.3" cy="330.0" r="1.0"/>
<circle cx="326.6" cy="330.2" r="1.0"/>
<circle cx="328.0" cy="329.8" r="1.0"/>
<circle cx="329.5" cy="329.7" r="1.0"/>
<circle cx="330.9" cy="330.0" r="1.0"/>
<circle cx="332.1" cy="330.2" r="1.0"/>
<circle cx="319.8" cy="330.8" r="1.0"/>
<circle cx="321.0" cy="331.0" r="1.0"/>
<circle cx="322.6" cy="331.1" r="1.0"/>
<circle cx="323.7" cy="331.0" r="1.0"/>
<circle cx="324.8" cy="331.1" r="1.0"/>
<circle cx="326.3" cy="331.2" r="1.0"/>
<circle cx="327.2" cy="331.3" r="1.0"/>
<circle cx="328.8" cy="331.2" r="1.0"/>
<circle cx="329.8" cy="331.4" r="1.0"/>
<circle cx="323.2" cy="331.9" r="1.0"/>
<circle cx="324.3" cy="332.1" r="1.0"/>
<circle cx="325.7" cy="332.0" r="1.0"/>
<circle cx="327.0" cy="332.3" r="1.0"/>
<circle cx="328.1" cy="331.9" r="1.0"/>
<circle cx="329.1" cy="332.3" r="1.0"/>
<circle cx="323.6" cy="333.1" r="1.0"/>
<circle cx="325.2" cy="333.0" r="1.0"/>
<circle cx="326.2" cy="333.4" r="1.0"/>
<circle cx="327.7" cy="333.5" r="1.0"/>
<circle cx="329.0" cy="333.3" r="1.0"/>
<circle cx="324.2" cy="334.5" r="1.0"/>
<circle cx="325.8" cy="334.4" r="1.0"/>
<circle cx="327.1" cy="334.6" r="1.0"/>
<circle cx="324.8" cy="335.6" r="1.0"/>
<circle cx="326.3" cy="335.8" r="1.0"/>
<circle cx="327.3" cy="335.7" r="1.0"/>
<circle cx="324.5" cy="336.5" r="1.0"/>
<circle cx="325.7" cy="336.4" r="1.0"/>
<circle cx="326.9" cy="336.4" r="1.0"/>
<circle cx="325.2" cy="337.8" r="1.0"/>
<circle cx="326.4" cy="337.6" r="1.0"/>
<circle cx="327.7" cy="337.8" r="1.0"/>
<circle cx="324.4" cy="338.7" r="1.0"/>
<circle cx="325.9" cy="338.6" r="1.0"/>
<circle cx="326.7" cy="338.8" r="1.0"/>
<circle cx="325.1" cy="340.1" r="1.0"/>
<circle cx="326.1" cy="339.8" r="1.0"/>
<circle cx="327.4" cy="339.7" r="1.0"/>
<circle cx="325.5" cy="340.9" r="1.0"/>
<circle cx="325.3" cy="341.8" r="1.0"/>
<circle cx="326.3" cy="342.2" r="1.0"/>
<circle cx="326.0" cy="246.6" r="1.05"/>
<circle cx="326.0" cy="269.2" r="1.05"/>
<circle cx="326.0" cy="345.7" r="1.05"/>
<circle cx="326.0" cy="361.3" r="1.05"/>
</g>
<line x1="80" y1="414.7" x2="80" y2="568.4" stroke="#EBEBEB" stroke-width="0.9"/>
<line x1="133.3" y1="414.7" x2="133.3" y2="568.4" stroke="#EBEBEB" stroke-width="0.9"/>
<line x1="186.6" y1="414.7" x2="186.6" y2="568.4" stroke="#EBEBEB" stroke-width="0.9"/>
<line x1="239.9" y1="414.7" x2="239.9" y2="568.4" stroke="#EBEBEB" stroke-width="0.9"/>
<line x1="293.2" y1="414.7" x2="293.2" y2="568.4" stroke="#EBEBEB" stroke-width="0.9"/>
<line x1="346.5" y1="414.7" x2="346.5" y2="568.4" stroke="#EBEBEB" stroke-width="0.9"/>
<line x1="66.9" y1="421.2" x2="359.8" y2="421.2" stroke="#EBEBEB" stroke-width="0.9"/>
<line x1="66.9" y1="456.53" x2="359.8" y2="456.53" stroke="#EBEBEB" stroke-width="0.9"/>
<line x1="66.9" y1="491.86" x2="359.8" y2="491.86" stroke="#EBEBEB" stroke-width="0.9"/>
<line x1="66.9" y1="527.19" x2="359.8" y2="527.19" stroke="#EBEBEB" stroke-width="0.9"/>
<line x1="66.9" y1="562.52" x2="359.8" y2="562.52" stroke="#EBEBEB" stroke-width="0.9"/>
<path d="M81.6,421.2 L92.3,435.5 L100,439.4 L116.3,449.7 L122.5,456.8 L138.8,464 L140.9,470.1 L149,481.4 L157,491.6 L159.8,498.2 L169,506.4 L181.3,526.8 L185.4,534 L201.7,555.5 L205,562.6" fill="none" stroke="#C8C8C8" stroke-width="1.45" stroke-linejoin="round"/>
<path d="M80.5,442.3 L115.2,449.5 L115.6,455.8 L130,460.3 L139.6,463 L140.3,471.3 L175.4,484.5 L175.4,491.7 L180,493.8 L203.3,505.3 L203.3,513.1 L214.7,518.9 L214.7,526.7 L223,534.6 L244.4,541.1 L271.3,562.5" fill="none" stroke="#D08CD0" stroke-width="1.45" stroke-linejoin="round"/>
<path d="M81.6,421.2 L84.1,437.3 L84.8,457 L88.4,465.9 L88.8,476.6 L92.3,485.6 L93.8,512.4 L99.5,526.7 L116.3,548.2 L127.1,555.4 L129.9,562.5" fill="none" stroke="#F5A623" stroke-width="1.45" stroke-linejoin="round"/>
<path d="M80.5,421.2 L81.5,450 L82.5,500 L83.4,533.9 L84.5,555.4 L89.5,562.5" fill="none" stroke="#7AC943" stroke-width="1.45" stroke-linejoin="round"/>
<path d="M87,421.2 L89.2,428 L100,432.3 L106.1,434.7 L107.1,441.5 L116.3,454.8 L122.5,464 L125.5,473.2 L126.6,483.4 L128.4,492 L136.3,505.3 L145.5,512.5 L157.8,519.7 L159.8,526.8 L171.1,541.2 L176.2,555.5 L182.3,562.6" fill="none" stroke="#5566C0" stroke-width="1.45" stroke-linejoin="round"/>
<path d="M91.3,421.2 L109.2,427.6 L119.9,434.8 L157.5,442.6 L180,449.8 L205,463 L215.8,477.4 L226.5,484.5 L233.7,492.7 L248,506 L258.7,513.1 L282,533.9 L308.3,562.5" fill="none" stroke="#EE5A3A" stroke-width="1.45" stroke-linejoin="round"/>
<line x1="67" y1="491.9" x2="359.5" y2="491.9" stroke="#111" stroke-width="1.5" stroke-dasharray="1.5 3.57"/>
<line x1="66.5" y1="414.2" x2="66.5" y2="570" stroke="#000" stroke-width="1.3"/>
<line x1="65.9" y1="569.6" x2="359.8" y2="569.6" stroke="#000" stroke-width="1.3"/>
<line x1="62" y1="421.2" x2="66.5" y2="421.2" stroke="#000" stroke-width="1.3"/>
<text x="60.4" y="424.5" font-size="9.4" text-anchor="end" fill="#000" letter-spacing="0.8">1.00</text>
<line x1="62" y1="456.53" x2="66.5" y2="456.53" stroke="#000" stroke-width="1.3"/>
<text x="60.4" y="459.83" font-size="9.4" text-anchor="end" fill="#000" letter-spacing="0.8">0.95</text>
<line x1="62" y1="491.86" x2="66.5" y2="491.86" stroke="#000" stroke-width="1.3"/>
<text x="60.4" y="495.16" font-size="9.4" text-anchor="end" fill="#000" letter-spacing="0.8">0.90</text>
<line x1="62" y1="527.19" x2="66.5" y2="527.19" stroke="#000" stroke-width="1.3"/>
<text x="60.4" y="530.49" font-size="9.4" text-anchor="end" fill="#000" letter-spacing="0.8">0.85</text>
<line x1="62" y1="562.52" x2="66.5" y2="562.52" stroke="#000" stroke-width="1.3"/>
<text x="60.4" y="565.82" font-size="9.4" text-anchor="end" fill="#000" letter-spacing="0.8">0.80</text>
<line x1="80" y1="569.4" x2="80" y2="572.4" stroke="#000" stroke-width="1.1"/>
<text x="80.9" y="580.9" font-size="9.4" text-anchor="middle" fill="#000" letter-spacing="0.8">0</text>
<line x1="133.3" y1="569.4" x2="133.3" y2="572.4" stroke="#000" stroke-width="1.1"/>
<text x="132.4" y="580.9" font-size="9.4" text-anchor="middle" fill="#000" letter-spacing="0.8">500</text>
<line x1="186.6" y1="569.4" x2="186.6" y2="572.4" stroke="#000" stroke-width="1.1"/>
<text x="188.6" y="580.9" font-size="9.4" text-anchor="middle" fill="#000" letter-spacing="0.8">1000</text>
<line x1="239.9" y1="569.4" x2="239.9" y2="572.4" stroke="#000" stroke-width="1.1"/>
<text x="242.6" y="580.9" font-size="9.4" text-anchor="middle" fill="#000" letter-spacing="0.8">1500</text>
<line x1="293.2" y1="569.4" x2="293.2" y2="572.4" stroke="#000" stroke-width="1.1"/>
<text x="296.1" y="580.9" font-size="9.4" text-anchor="middle" fill="#000" letter-spacing="0.8">2000</text>
<line x1="346.5" y1="569.4" x2="346.5" y2="572.4" stroke="#000" stroke-width="1.1"/>
<text x="349.6" y="580.9" font-size="9.4" text-anchor="middle" fill="#000" letter-spacing="0.8">2500</text>
<text x="214.2" y="591.3" font-size="9.5" text-anchor="middle" fill="#000" letter-spacing="0.8">Count</text>
<text x="33.4" y="487.6" font-size="9.5" text-anchor="middle" fill="#000" letter-spacing="0.8" transform="rotate(-90 33.4 487.6)">Precision</text>
<text x="4.2" y="421.8" font-size="17" text-anchor="start" fill="#000" font-weight="bold">d</text>
<rect x="238.2" y="414.1" width="130.5" height="56.2" fill="#fff" stroke="#111" stroke-width="1.3"/>
<line x1="243.7" y1="419.7" x2="258.7" y2="419.7" stroke="#EE5A3A" stroke-width="1.6"/>
<text x="261.4" y="422.9" font-size="9.2" text-anchor="start" fill="#000" letter-spacing="0.77">Mixed Z−Score</text>
<line x1="243.7" y1="428.3" x2="258.7" y2="428.3" stroke="#7AC943" stroke-width="1.6"/>
<text x="261.4" y="431.5" font-size="9.2" text-anchor="start" fill="#000" letter-spacing="0.77">Bagel</text>
<line x1="243.7" y1="437.3" x2="258.7" y2="437.3" stroke="#5566C0" stroke-width="1.6"/>
<text x="261.4" y="440.5" font-size="9.2" text-anchor="start" fill="#000" letter-spacing="0.77">CERES</text>
<line x1="243.7" y1="445.1" x2="258.7" y2="445.1" stroke="#D08CD0" stroke-width="1.6"/>
<text x="261.4" y="448.3" font-size="9.2" text-anchor="start" fill="#000" letter-spacing="0.77">Ranking</text>
<line x1="243.7" y1="453.4" x2="258.7" y2="453.4" stroke="#F5A623" stroke-width="1.6"/>
<text x="261.4" y="456.6" font-size="9.2" text-anchor="start" fill="#000" letter-spacing="0.77">JACKS</text>
<line x1="243.7" y1="462" x2="258.7" y2="462" stroke="#C8C8C8" stroke-width="1.6"/>
<text x="261.4" y="465.2" font-size="9.2" text-anchor="start" fill="#000" letter-spacing="0.77">Mean log<tspan font-size="6" dy="2">2</tspan><tspan dy="-2">(FC)</tspan></text>
<text x="385.9" y="233.6" font-size="17.6" text-anchor="start" fill="#000" font-weight="bold">f</text>
<rect x="411.1" y="217.1" width="218.70" height="22.5" fill="#F0ECEC"/>
<rect x="411.30" y="217.10" width="2.40" height="7.50" fill="#e69a2f"/>
<rect x="413.70" y="217.10" width="1.80" height="7.50" fill="#e7a343"/>
<rect x="415.50" y="217.10" width="1.00" height="7.50" fill="#e79b32"/>
<rect x="416.50" y="217.10" width="2.40" height="7.50" fill="#e79b32"/>
<rect x="418.90" y="217.10" width="1.40" height="7.50" fill="#e9ac59"/>
<rect x="420.30" y="217.10" width="3.00" height="7.50" fill="#e79f3c"/>
<rect x="423.30" y="217.10" width="1.80" height="7.50" fill="#e69728"/>
<rect x="425.10" y="217.10" width="2.40" height="7.50" fill="#e79f3b"/>
<rect x="427.50" y="217.10" width="2.40" height="7.50" fill="#e9ae5e"/>
<rect x="429.90" y="217.10" width="1.00" height="7.50" fill="#e7a03e"/>
<rect x="430.90" y="217.10" width="1.40" height="7.50" fill="#e8a447"/>
<rect x="433.30" y="217.10" width="1.40" height="7.50" fill="#e8a344"/>
<rect x="434.70" y="217.10" width="1.80" height="7.50" fill="#e79f3b"/>
<rect x="436.50" y="217.10" width="2.40" height="7.50" fill="#e69626"/>
<rect x="439.90" y="217.10" width="1.00" height="7.50" fill="#e7a343"/>
<rect x="440.90" y="217.10" width="2.40" height="7.50" fill="#e79c34"/>
<rect x="443.30" y="217.10" width="1.40" height="7.50" fill="#e8a64a"/>
<rect x="445.70" y="217.10" width="1.00" height="7.50" fill="#e6982a"/>
<rect x="446.70" y="217.10" width="1.80" height="7.50" fill="#e69727"/>
<rect x="448.50" y="217.10" width="0.80" height="7.50" fill="#e7a140"/>
<rect x="449.30" y="217.10" width="3.00" height="7.50" fill="#e8a951"/>
<rect x="452.30" y="217.10" width="1.40" height="7.50" fill="#e9af61"/>
<rect x="453.70" y="217.10" width="0.80" height="7.50" fill="#e9ac59"/>
<rect x="454.50" y="217.10" width="0.80" height="7.50" fill="#e9ae5e"/>
<rect x="455.30" y="217.10" width="1.00" height="7.50" fill="#e79e39"/>
<rect x="456.30" y="217.10" width="2.40" height="7.50" fill="#e8ab56"/>
<rect x="458.70" y="217.10" width="1.00" height="7.50" fill="#e8a548"/>
<rect x="459.70" y="217.10" width="1.80" height="7.50" fill="#e8a548"/>
<rect x="461.50" y="217.10" width="0.50" height="7.50" fill="#e69a2e"/>
<rect x="498.00" y="217.10" width="0.80" height="7.50" fill="#e8aa55"/>
<rect x="498.80" y="217.10" width="2.40" height="7.50" fill="#e79f3b"/>
<rect x="501.20" y="217.10" width="1.00" height="7.50" fill="#e8aa55"/>
<rect x="502.20" y="217.10" width="2.40" height="7.50" fill="#e8a74e"/>
<rect x="504.60" y="217.10" width="0.80" height="7.50" fill="#e9ae5d"/>
<rect x="505.40" y="217.10" width="3.00" height="7.50" fill="#e8aa53"/>
<rect x="508.40" y="217.10" width="1.40" height="7.50" fill="#e7a03c"/>
<rect x="509.80" y="217.10" width="2.40" height="7.50" fill="#e8a345"/>
<rect x="512.20" y="217.10" width="1.80" height="7.50" fill="#e8ab57"/>
<rect x="514.00" y="217.10" width="1.00" height="7.50" fill="#e79b31"/>
<rect x="515.00" y="217.10" width="1.00" height="7.50" fill="#e9ac58"/>
<rect x="516.00" y="217.10" width="2.40" height="7.50" fill="#e8ab56"/>
<rect x="519.10" y="217.10" width="1.80" height="7.50" fill="#e9af5f"/>
<rect x="520.90" y="217.10" width="2.40" height="7.50" fill="#e69728"/>
<rect x="523.30" y="217.10" width="3.00" height="7.50" fill="#e8a64a"/>
<rect x="526.30" y="217.10" width="2.40" height="7.50" fill="#e8a344"/>
<rect x="528.70" y="217.10" width="3.00" height="7.50" fill="#e69727"/>
<rect x="531.70" y="217.10" width="1.80" height="7.50" fill="#e7a140"/>
<rect x="534.50" y="217.10" width="1.00" height="7.50" fill="#e6982b"/>
<rect x="535.50" y="217.10" width="0.80" height="7.50" fill="#e9ae5d"/>
<rect x="536.30" y="217.10" width="1.00" height="7.50" fill="#e9ae5e"/>
<rect x="537.30" y="217.10" width="1.40" height="7.50" fill="#e7a242"/>
<rect x="539.20" y="217.10" width="1.80" height="7.50" fill="#e69727"/>
<rect x="541.00" y="217.10" width="3.00" height="7.50" fill="#e7a242"/>
<rect x="545.00" y="217.10" width="0.80" height="7.50" fill="#e8a445"/>
<rect x="545.80" y="217.10" width="1.40" height="7.50" fill="#e69728"/>
<rect x="547.20" y="217.10" width="3.00" height="7.50" fill="#e9ae5d"/>
<rect x="550.20" y="217.10" width="1.40" height="7.50" fill="#e8a84e"/>
<rect x="552.10" y="217.10" width="1.40" height="7.50" fill="#e79d36"/>
<rect x="554.50" y="217.10" width="1.00" height="7.50" fill="#e79b32"/>
<rect x="556.20" y="217.10" width="1.80" height="7.50" fill="#e6992c"/>
<rect x="560.20" y="217.10" width="3.00" height="7.50" fill="#e8a64b"/>
<rect x="563.20" y="217.10" width="2.40" height="7.50" fill="#e9ae5d"/>
<rect x="565.60" y="217.10" width="0.80" height="7.50" fill="#e69626"/>
<rect x="567.40" y="217.10" width="3.00" height="7.50" fill="#e79e38"/>
<rect x="570.40" y="217.10" width="1.80" height="7.50" fill="#e69a30"/>
<rect x="572.20" y="217.10" width="2.40" height="7.50" fill="#e9af60"/>
<rect x="574.60" y="217.10" width="1.80" height="7.50" fill="#e9af60"/>
<rect x="576.90" y="217.10" width="2.40" height="7.50" fill="#e79f3a"/>
<rect x="579.30" y="217.10" width="0.80" height="7.50" fill="#e8a64c"/>
<rect x="580.10" y="217.10" width="2.40" height="7.50" fill="#e8ab55"/>
<rect x="582.50" y="217.10" width="1.40" height="7.50" fill="#e79f3a"/>
<rect x="583.90" y="217.10" width="1.00" height="7.50" fill="#e8a74e"/>
<rect x="584.90" y="217.10" width="1.00" height="7.50" fill="#e79f3c"/>
<rect x="587.10" y="217.10" width="1.40" height="7.50" fill="#e8aa55"/>
<rect x="588.50" y="217.10" width="1.40" height="7.50" fill="#e69a30"/>
<rect x="590.90" y="217.10" width="1.40" height="7.50" fill="#e79b31"/>
<rect x="592.30" y="217.10" width="1.80" height="7.50" fill="#e8a951"/>
<rect x="594.10" y="217.10" width="1.80" height="7.50" fill="#e8a64b"/>
<rect x="595.90" y="217.10" width="3.00" height="7.50" fill="#e8a84f"/>
<rect x="599.90" y="217.10" width="0.80" height="7.50" fill="#e79a30"/>
<rect x="600.70" y="217.10" width="2.40" height="7.50" fill="#e9af5f"/>
<rect x="603.10" y="217.10" width="2.40" height="7.50" fill="#e8a74c"/>
<rect x="605.50" y="217.10" width="2.40" height="7.50" fill="#e9af60"/>
<rect x="607.90" y="217.10" width="1.80" height="7.50" fill="#e8ab56"/>
<rect x="609.70" y="217.10" width="1.40" height="7.50" fill="#e8aa53"/>
<rect x="611.10" y="217.10" width="0.80" height="7.50" fill="#e69627"/>
<rect x="611.90" y="217.10" width="0.80" height="7.50" fill="#e7a03c"/>
<rect x="612.70" y="217.10" width="1.40" height="7.50" fill="#e69728"/>
<rect x="614.10" y="217.10" width="1.00" height="7.50" fill="#e79b30"/>
<rect x="615.10" y="217.10" width="3.00" height="7.50" fill="#e9b061"/>
<rect x="618.10" y="217.10" width="3.00" height="7.50" fill="#e9af5f"/>
<rect x="621.10" y="217.10" width="1.40" height="7.50" fill="#e7a241"/>
<rect x="623.50" y="217.10" width="1.00" height="7.50" fill="#e8a64a"/>
<rect x="624.50" y="217.10" width="1.00" height="7.50" fill="#e9ae5c"/>
<rect x="626.50" y="217.10" width="1.80" height="7.50" fill="#e8a446"/>
<rect x="628.30" y="217.10" width="0.80" height="7.50" fill="#e8a64b"/>
<rect x="629.10" y="217.10" width="0.70" height="7.50" fill="#e79b32"/>
<rect x="467.20" y="217.10" width="1.60" height="7.50" fill="#edd0ab"/>
<rect x="473.80" y="217.10" width="2.00" height="7.50" fill="#ebc592"/>
<rect x="478.70" y="217.10" width="0.60" height="7.50" fill="#e9b368"/>
<rect x="488.70" y="217.10" width="1.60" height="7.50" fill="#edd0ad"/>
<rect x="493.60" y="217.10" width="1.60" height="7.50" fill="#ebc491"/>
<rect x="495.20" y="217.10" width="1.30" height="7.50" fill="#ebbd80"/>
<rect x="428" y="224.6" width="0.8" height="7.5" fill="#ebc189"/>
<rect x="443" y="224.6" width="0.8" height="7.5" fill="#ebc189"/>
<rect x="462.00" y="224.60" width="1.30" height="7.50" fill="#e9b164"/>
<rect x="466.90" y="224.60" width="1.30" height="7.50" fill="#eccca3"/>
<rect x="472.10" y="224.60" width="1.30" height="7.50" fill="#eed8bf"/>
<rect x="473.40" y="224.60" width="0.80" height="7.50" fill="#ebc48f"/>
<rect x="477.20" y="224.60" width="1.00" height="7.50" fill="#ecc695"/>
<rect x="482.20" y="224.60" width="0.60" height="7.50" fill="#ebbf85"/>
<rect x="482.80" y="224.60" width="1.00" height="7.50" fill="#eab56e"/>
<rect x="483.80" y="224.60" width="0.60" height="7.50" fill="#edd6ba"/>
<rect x="487.40" y="224.60" width="1.30" height="7.50" fill="#ebc593"/>
<rect x="491.30" y="224.60" width="1.00" height="7.50" fill="#ebbe83"/>
<rect x="497.10" y="224.60" width="1.60" height="7.50" fill="#edd4b4"/>
<rect x="500.00" y="224.60" width="2.00" height="7.50" fill="#e9ad5b"/>
<rect x="503.60" y="224.60" width="0.80" height="7.50" fill="#edcfaa"/>
<rect x="504.40" y="224.60" width="0.80" height="7.50" fill="#e8a74e"/>
<rect x="505.20" y="224.60" width="0.60" height="7.50" fill="#edd3b2"/>
<rect x="505.80" y="224.60" width="1.60" height="7.50" fill="#eccca2"/>
<rect x="509.40" y="224.60" width="1.60" height="7.50" fill="#eccba0"/>
<rect x="512.60" y="224.60" width="0.60" height="7.50" fill="#eabb7c"/>
<rect x="518.70" y="224.60" width="2.00" height="7.50" fill="#eed9c1"/>
<rect x="520.70" y="224.60" width="0.60" height="7.50" fill="#eab771"/>
<rect x="523.90" y="224.60" width="0.80" height="7.50" fill="#edd4b5"/>
<rect x="524.70" y="224.60" width="2.00" height="7.50" fill="#edd1ad"/>
<rect x="526.70" y="224.60" width="1.60" height="7.50" fill="#eed9c1"/>
<rect x="529.90" y="224.60" width="0.10" height="7.50" fill="#eccca1"/>
<rect x="532.00" y="224.60" width="1.00" height="7.50" fill="#ebc592"/>
<rect x="546.80" y="224.60" width="1.00" height="7.50" fill="#eed8be"/>
<rect x="556.30" y="224.60" width="1.60" height="7.50" fill="#eabb7b"/>
<rect x="561.10" y="224.60" width="0.60" height="7.50" fill="#e9b368"/>
<rect x="561.70" y="224.60" width="1.60" height="7.50" fill="#edd5b7"/>
<rect x="564.30" y="224.60" width="1.30" height="7.50" fill="#ecc99b"/>
<rect x="566.60" y="224.60" width="1.60" height="7.50" fill="#edcea7"/>
<rect x="568.20" y="224.60" width="1.30" height="7.50" fill="#ebc490"/>
<rect x="569.50" y="224.60" width="0.50" height="7.50" fill="#eccca2"/>
<rect x="570.00" y="224.60" width="1.30" height="7.50" fill="#eed7bb"/>
<rect x="571.30" y="224.60" width="1.00" height="7.50" fill="#edd5b7"/>
<rect x="595.80" y="224.60" width="1.30" height="7.50" fill="#eed8bd"/>
<rect x="602.60" y="224.60" width="1.00" height="7.50" fill="#eabd7f"/>
<rect x="605.00" y="224.60" width="0.80" height="7.50" fill="#eed9c0"/>
<rect x="607.80" y="224.60" width="1.00" height="7.50" fill="#e9b267"/>
<rect x="609.60" y="224.60" width="0.60" height="7.50" fill="#eccda5"/>
<rect x="610.20" y="224.60" width="0.60" height="7.50" fill="#eedac2"/>
<rect x="610.80" y="224.60" width="1.30" height="7.50" fill="#edcfaa"/>
<rect x="618.90" y="224.60" width="1.60" height="7.50" fill="#ecca9e"/>
<rect x="475" y="232.1" width="0.9" height="7.5" fill="#a8afd8"/>
<rect x="479" y="232.1" width="0.9" height="7.5" fill="#a8afd8"/>
<rect x="490" y="232.1" width="0.9" height="7.5" fill="#a8afd8"/>
<rect x="502" y="232.1" width="0.9" height="7.5" fill="#a8afd8"/>
<rect x="503" y="232.1" width="0.9" height="7.5" fill="#a8afd8"/>
<rect x="513" y="232.1" width="0.9" height="7.5" fill="#a8afd8"/>
<rect x="514" y="232.1" width="0.9" height="7.5" fill="#a8afd8"/>
<rect x="516" y="232.1" width="0.9" height="7.5" fill="#a8afd8"/>
<rect x="524" y="232.1" width="0.9" height="7.5" fill="#a8afd8"/>
<rect x="542" y="232.1" width="0.9" height="7.5" fill="#a8afd8"/>
<rect x="547" y="232.1" width="0.9" height="7.5" fill="#a8afd8"/>
<rect x="559" y="232.1" width="0.9" height="7.5" fill="#a8afd8"/>
<rect x="573" y="232.1" width="0.9" height="7.5" fill="#a8afd8"/>
<rect x="575" y="232.1" width="0.9" height="7.5" fill="#a8afd8"/>
<rect x="580" y="232.1" width="0.9" height="7.5" fill="#a8afd8"/>
<rect x="411.10" y="241.20" width="55.60" height="17.5" fill="#4a9a7e"/>
<rect x="414.10" y="258.70" width="1.30" height="17.50" fill="#daeae5"/>
<rect x="415.40" y="258.70" width="0.80" height="17.50" fill="#ddece6"/>
<rect x="417.80" y="258.70" width="1.60" height="17.50" fill="#eaf3f0"/>
<rect x="419.40" y="258.70" width="1.00" height="17.50" fill="#ecf4f1"/>
<rect x="420.40" y="258.70" width="0.60" height="17.50" fill="#c0dcd2"/>
<rect x="421.60" y="258.70" width="1.60" height="17.50" fill="#deece7"/>
<rect x="424.20" y="258.70" width="1.00" height="17.50" fill="#d4e7e0"/>
<rect x="425.20" y="258.70" width="1.60" height="17.50" fill="#9ac7b7"/>
<rect x="426.80" y="258.70" width="2.00" height="17.50" fill="#a1cbbc"/>
<rect x="430.10" y="258.70" width="2.00" height="17.50" fill="#cce3db"/>
<rect x="432.10" y="258.70" width="1.00" height="17.50" fill="#e4f0ec"/>
<rect x="433.90" y="258.70" width="1.30" height="17.50" fill="#bfdbd2"/>
<rect x="436.80" y="258.70" width="0.80" height="17.50" fill="#d2e6df"/>
<rect x="438.20" y="258.70" width="1.00" height="17.50" fill="#e9f3ef"/>
<rect x="443.50" y="258.70" width="0.60" height="17.50" fill="#e0ede9"/>
<rect x="445.70" y="258.70" width="1.60" height="17.50" fill="#abd0c3"/>
<rect x="447.30" y="258.70" width="1.60" height="17.50" fill="#98c6b6"/>
<rect x="448.90" y="258.70" width="0.80" height="17.50" fill="#abd0c3"/>
<rect x="456.60" y="258.70" width="0.80" height="17.50" fill="#92c2b1"/>
<rect x="457.40" y="258.70" width="1.30" height="17.50" fill="#d2e6df"/>
<rect x="458.70" y="258.70" width="1.00" height="17.50" fill="#b1d3c7"/>
<rect x="459.70" y="258.70" width="1.30" height="17.50" fill="#e1eeea"/>
<rect x="461.00" y="258.70" width="1.30" height="17.50" fill="#d0e5dd"/>
<rect x="463.10" y="258.70" width="1.30" height="17.50" fill="#e9f2ef"/>
<rect x="466.70" y="258.70" width="30.40" height="17.5" fill="#4a9a7e"/>
<rect x="411.50" y="276.20" width="1.30" height="17.50" fill="#c4d3e8"/>
<rect x="413.40" y="276.20" width="2.00" height="17.50" fill="#a4bcdc"/>
<rect x="416.40" y="276.20" width="0.60" height="17.50" fill="#c6d5e9"/>
<rect x="417.60" y="276.20" width="0.60" height="17.50" fill="#9bb5d8"/>
<rect x="418.80" y="276.20" width="1.60" height="17.50" fill="#94b0d5"/>
<rect x="421.40" y="276.20" width="1.30" height="17.50" fill="#b2c7e1"/>
<rect x="422.70" y="276.20" width="1.00" height="17.50" fill="#7196c8"/>
<rect x="423.70" y="276.20" width="1.60" height="17.50" fill="#afc4e0"/>
<rect x="427.30" y="276.20" width="1.60" height="17.50" fill="#d8e3f0"/>
<rect x="430.90" y="276.20" width="1.60" height="17.50" fill="#dae4f1"/>
<rect x="434.50" y="276.20" width="1.60" height="17.50" fill="#bdcee5"/>
<rect x="437.70" y="276.20" width="0.80" height="17.50" fill="#d0dced"/>
<rect x="438.50" y="276.20" width="1.60" height="17.50" fill="#d0dced"/>
<rect x="440.10" y="276.20" width="0.80" height="17.50" fill="#aac1de"/>
<rect x="441.90" y="276.20" width="0.60" height="17.50" fill="#91aed4"/>
<rect x="442.50" y="276.20" width="1.00" height="17.50" fill="#8baad2"/>
<rect x="444.30" y="276.20" width="2.00" height="17.50" fill="#a4bcdc"/>
<rect x="446.30" y="276.20" width="2.00" height="17.50" fill="#d4dfee"/>
<rect x="448.30" y="276.20" width="0.80" height="17.50" fill="#a3bbdb"/>
<rect x="450.40" y="276.20" width="1.30" height="17.50" fill="#b4c8e2"/>
<rect x="451.70" y="276.20" width="1.00" height="17.50" fill="#799ccb"/>
<rect x="452.70" y="276.20" width="1.00" height="17.50" fill="#7599c9"/>
<rect x="453.70" y="276.20" width="1.30" height="17.50" fill="#c7d6e9"/>
<rect x="460.00" y="276.20" width="1.00" height="17.50" fill="#7498c9"/>
<rect x="464.30" y="276.20" width="2.00" height="17.50" fill="#6e94c7"/>
<rect x="470.40" y="276.20" width="1.00" height="17.50" fill="#d7e2ef"/>
<rect x="476.00" y="276.20" width="1.30" height="17.50" fill="#c6d5e9"/>
<rect x="478.10" y="276.20" width="0.80" height="17.50" fill="#acc2df"/>
<rect x="478.90" y="276.20" width="2.00" height="17.50" fill="#e4ebf4"/>
<rect x="480.90" y="276.20" width="1.00" height="17.50" fill="#b6c9e3"/>
<rect x="488.30" y="276.20" width="1.00" height="17.50" fill="#b9cbe4"/>
<rect x="491.30" y="276.20" width="0.80" height="17.50" fill="#d0dced"/>
<rect x="492.10" y="276.20" width="1.00" height="17.50" fill="#abc1de"/>
<rect x="493.10" y="276.20" width="1.00" height="17.50" fill="#d1dded"/>
<rect x="494.10" y="276.20" width="1.30" height="17.50" fill="#ccd9eb"/>
<rect x="495.40" y="276.20" width="1.60" height="17.50" fill="#e6edf5"/>
<rect x="497.00" y="276.20" width="0.10" height="17.50" fill="#d2dded"/>
<rect x="497.10" y="276.20" width="13.90" height="17.5" fill="#4878b8"/>
<rect x="414.50" y="293.70" width="1.60" height="17.50" fill="#90c1b0"/>
<rect x="417.70" y="293.70" width="0.80" height="17.50" fill="#d5e8e1"/>
<rect x="418.50" y="293.70" width="2.00" height="17.50" fill="#81b9a5"/>
<rect x="422.50" y="293.70" width="1.30" height="17.50" fill="#a9cfc2"/>
<rect x="426.10" y="293.70" width="1.30" height="17.50" fill="#cbe2da"/>
<rect x="427.40" y="293.70" width="0.80" height="17.50" fill="#d6e8e2"/>
<rect x="429.20" y="293.70" width="1.30" height="17.50" fill="#a8cfc1"/>
<rect x="431.50" y="293.70" width="0.60" height="17.50" fill="#aad0c2"/>
<rect x="432.10" y="293.70" width="0.80" height="17.50" fill="#a1cbbc"/>
<rect x="432.90" y="293.70" width="0.80" height="17.50" fill="#daeae4"/>
<rect x="433.70" y="293.70" width="1.00" height="17.50" fill="#d7e9e2"/>
<rect x="434.70" y="293.70" width="0.80" height="17.50" fill="#82b9a6"/>
<rect x="435.50" y="293.70" width="1.00" height="17.50" fill="#d8e9e3"/>
<rect x="436.50" y="293.70" width="2.00" height="17.50" fill="#b5d6ca"/>
<rect x="438.50" y="293.70" width="1.60" height="17.50" fill="#d3e7e0"/>
<rect x="440.10" y="293.70" width="1.60" height="17.50" fill="#c5dfd6"/>
<rect x="441.70" y="293.70" width="1.00" height="17.50" fill="#9fc9bb"/>
<rect x="442.70" y="293.70" width="1.30" height="17.50" fill="#82b9a6"/>
<rect x="444.00" y="293.70" width="2.00" height="17.50" fill="#82b9a6"/>
<rect x="446.00" y="293.70" width="1.30" height="17.50" fill="#c5dfd6"/>
<rect x="447.30" y="293.70" width="1.00" height="17.50" fill="#bcd9cf"/>
<rect x="448.30" y="293.70" width="1.30" height="17.50" fill="#b5d6ca"/>
<rect x="449.60" y="293.70" width="2.00" height="17.50" fill="#d6e8e2"/>
<rect x="451.60" y="293.70" width="1.60" height="17.50" fill="#9bc7b8"/>
<rect x="453.20" y="293.70" width="1.00" height="17.50" fill="#c3ded5"/>
<rect x="454.20" y="293.70" width="1.30" height="17.50" fill="#afd2c6"/>
<rect x="459.20" y="293.70" width="0.80" height="17.50" fill="#daeae5"/>
<rect x="460.00" y="293.70" width="1.60" height="17.50" fill="#d7e9e3"/>
<rect x="461.60" y="293.70" width="0.80" height="17.50" fill="#bedbd0"/>
<rect x="462.40" y="293.70" width="1.00" height="17.50" fill="#89bdab"/>
<rect x="463.40" y="293.70" width="1.00" height="17.50" fill="#8ec0ae"/>
<rect x="465.40" y="293.70" width="0.80" height="17.50" fill="#afd3c6"/>
<rect x="466.20" y="293.70" width="0.50" height="17.50" fill="#b0d3c7"/>
<rect x="466.70" y="293.70" width="1.00" height="17.50" fill="#bbd9cf"/>
<rect x="469.70" y="293.70" width="0.80" height="17.50" fill="#b5d5ca"/>
<rect x="471.50" y="293.70" width="1.00" height="17.50" fill="#cae1d9"/>
<rect x="472.50" y="293.70" width="2.00" height="17.50" fill="#c8e0d8"/>
<rect x="474.50" y="293.70" width="2.00" height="17.50" fill="#ecf4f2"/>
<rect x="477.30" y="293.70" width="1.60" height="17.50" fill="#bbd9ce"/>
<rect x="483.50" y="293.70" width="0.60" height="17.50" fill="#d6e8e2"/>
<rect x="484.10" y="293.70" width="0.60" height="17.50" fill="#d8e9e3"/>
<rect x="487.00" y="293.70" width="1.00" height="17.50" fill="#abd0c3"/>
<rect x="489.20" y="293.70" width="2.00" height="17.50" fill="#a8cfc1"/>
<rect x="491.20" y="293.70" width="1.30" height="17.50" fill="#dbebe5"/>
<rect x="500.00" y="293.70" width="2.00" height="17.50" fill="#b4d5ca"/>
<rect x="502.00" y="293.70" width="1.30" height="17.50" fill="#b8d7cc"/>
<rect x="507.30" y="293.70" width="1.30" height="17.50" fill="#9fc9bb"/>
<rect x="509.90" y="293.70" width="0.80" height="17.50" fill="#bedbd1"/>
<rect x="511.00" y="293.70" width="7.70" height="17.5" fill="#4a9a7e"/>
<rect x="411.50" y="311.20" width="0.60" height="17.50" fill="#e5ecf5"/>
<rect x="412.10" y="311.20" width="0.80" height="17.50" fill="#bbcde5"/>
<rect x="415.30" y="311.20" width="1.60" height="17.50" fill="#c5d4e9"/>
<rect x="420.00" y="311.20" width="0.60" height="17.50" fill="#afc4e0"/>
<rect x="422.50" y="311.20" width="0.60" height="17.50" fill="#b5c8e2"/>
<rect x="423.10" y="311.20" width="0.60" height="17.50" fill="#e7edf6"/>
<rect x="424.70" y="311.20" width="1.00" height="17.50" fill="#b8cbe4"/>
<rect x="425.70" y="311.20" width="0.80" height="17.50" fill="#e8eef6"/>
<rect x="426.50" y="311.20" width="1.00" height="17.50" fill="#c9d7ea"/>
<rect x="430.50" y="311.20" width="0.80" height="17.50" fill="#a2bbdb"/>
<rect x="431.30" y="311.20" width="0.60" height="17.50" fill="#abc1de"/>
<rect x="432.90" y="311.20" width="0.60" height="17.50" fill="#a6bedd"/>
<rect x="433.50" y="311.20" width="1.30" height="17.50" fill="#becfe6"/>
<rect x="441.80" y="311.20" width="2.00" height="17.50" fill="#e6edf5"/>
<rect x="445.20" y="311.20" width="0.80" height="17.50" fill="#b6c9e3"/>
<rect x="447.30" y="311.20" width="2.00" height="17.50" fill="#aec3df"/>
<rect x="450.60" y="311.20" width="1.30" height="17.50" fill="#9db6d9"/>
<rect x="452.70" y="311.20" width="1.00" height="17.50" fill="#bacce4"/>
<rect x="455.60" y="311.20" width="0.60" height="17.50" fill="#d1dded"/>
<rect x="463.10" y="311.20" width="1.30" height="17.50" fill="#c4d4e8"/>
<rect x="468.40" y="311.20" width="1.00" height="17.50" fill="#ebf0f7"/>
<rect x="472.00" y="311.20" width="1.30" height="17.50" fill="#acc1df"/>
<rect x="476.20" y="311.20" width="1.30" height="17.50" fill="#b0c5e0"/>
<rect x="477.50" y="311.20" width="0.80" height="17.50" fill="#cedbec"/>
<rect x="479.90" y="311.20" width="2.00" height="17.50" fill="#b6c9e3"/>
<rect x="481.90" y="311.20" width="1.60" height="17.50" fill="#cad8ea"/>
<rect x="485.60" y="311.20" width="0.60" height="17.50" fill="#9db7d9"/>
<rect x="488.80" y="311.20" width="1.00" height="17.50" fill="#e9eef6"/>
<rect x="493.10" y="311.20" width="0.60" height="17.50" fill="#a4bcdc"/>
<rect x="504.20" y="311.20" width="1.30" height="17.50" fill="#dce5f1"/>
<rect x="513.50" y="311.20" width="0.60" height="17.50" fill="#b2c6e1"/>
<rect x="517.50" y="311.20" width="0.60" height="17.50" fill="#d0dded"/>
<rect x="518.10" y="311.20" width="0.60" height="17.50" fill="#d2deed"/>
<rect x="518.70" y="311.20" width="16.00" height="17.5" fill="#4878b8"/>
<rect x="411.3" y="311.20" width="1.6" height="17.5" fill="#517fbc"/>
<rect x="416.70" y="328.70" width="1.30" height="17.50" fill="#d7e2f0"/>
<rect x="422.10" y="328.70" width="1.30" height="17.50" fill="#dfe8f3"/>
<rect x="431.20" y="328.70" width="2.00" height="17.50" fill="#c7d6e9"/>
<rect x="433.20" y="328.70" width="0.80" height="17.50" fill="#b8cbe4"/>
<rect x="434.80" y="328.70" width="1.00" height="17.50" fill="#c2d2e7"/>
<rect x="437.80" y="328.70" width="1.60" height="17.50" fill="#bfd0e6"/>
<rect x="440.70" y="328.70" width="0.60" height="17.50" fill="#d5e0ef"/>
<rect x="442.30" y="328.70" width="1.30" height="17.50" fill="#d6e1ef"/>
<rect x="446.20" y="328.70" width="1.00" height="17.50" fill="#e6edf5"/>
<rect x="448.80" y="328.70" width="1.00" height="17.50" fill="#d8e2f0"/>
<rect x="458.00" y="328.70" width="1.60" height="17.50" fill="#c9d7ea"/>
<rect x="460.40" y="328.70" width="0.80" height="17.50" fill="#b3c7e1"/>
<rect x="461.20" y="328.70" width="0.60" height="17.50" fill="#c8d6ea"/>
<rect x="463.60" y="328.70" width="1.30" height="17.50" fill="#a3bbdb"/>
<rect x="468.60" y="328.70" width="1.00" height="17.50" fill="#bccee5"/>
<rect x="469.60" y="328.70" width="1.00" height="17.50" fill="#d4dfee"/>
<rect x="471.60" y="328.70" width="0.80" height="17.50" fill="#e8eef6"/>
<rect x="476.20" y="328.70" width="1.60" height="17.50" fill="#93afd5"/>
<rect x="479.10" y="328.70" width="1.60" height="17.50" fill="#9db7d9"/>
<rect x="480.70" y="328.70" width="1.00" height="17.50" fill="#afc4e0"/>
<rect x="484.50" y="328.70" width="1.60" height="17.50" fill="#dfe8f3"/>
<rect x="486.10" y="328.70" width="1.00" height="17.50" fill="#9eb7d9"/>
<rect x="496.90" y="328.70" width="1.00" height="17.50" fill="#becfe6"/>
<rect x="500.80" y="328.70" width="1.00" height="17.50" fill="#e8eef6"/>
<rect x="507.90" y="328.70" width="1.00" height="17.50" fill="#a5bddc"/>
<rect x="509.70" y="328.70" width="1.60" height="17.50" fill="#b9cbe4"/>
<rect x="512.60" y="328.70" width="1.00" height="17.50" fill="#c2d2e7"/>
<rect x="514.60" y="328.70" width="1.00" height="17.50" fill="#e1e9f3"/>
<rect x="515.60" y="328.70" width="1.30" height="17.50" fill="#becfe6"/>
<rect x="518.00" y="328.70" width="1.00" height="17.50" fill="#a9bfdd"/>
<rect x="519.00" y="328.70" width="0.80" height="17.50" fill="#90add4"/>
<rect x="519.80" y="328.70" width="1.00" height="17.50" fill="#b5c8e2"/>
<rect x="522.80" y="328.70" width="1.30" height="17.50" fill="#9ab5d8"/>
<rect x="526.10" y="328.70" width="2.00" height="17.50" fill="#c6d5e9"/>
<rect x="528.10" y="328.70" width="0.60" height="17.50" fill="#a5bddc"/>
<rect x="528.70" y="328.70" width="1.60" height="17.50" fill="#d3dfee"/>
<rect x="531.10" y="328.70" width="0.80" height="17.50" fill="#a8bfdd"/>
<rect x="531.90" y="328.70" width="2.00" height="17.50" fill="#c4d3e8"/>
<rect x="533.90" y="328.70" width="0.80" height="17.50" fill="#aac0de"/>
<rect x="534.70" y="328.70" width="14.10" height="17.5" fill="#4878b8"/>
<rect x="411.50" y="346.20" width="1.00" height="17.50" fill="#d3e7e0"/>
<rect x="415.40" y="346.20" width="2.00" height="17.50" fill="#b4d5c9"/>
<rect x="419.30" y="346.20" width="1.00" height="17.50" fill="#bad9ce"/>
<rect x="421.30" y="346.20" width="0.60" height="17.50" fill="#cae2d9"/>
<rect x="423.50" y="346.20" width="1.00" height="17.50" fill="#b9d8cd"/>
<rect x="425.50" y="346.20" width="1.00" height="17.50" fill="#a8cec1"/>
<rect x="427.30" y="346.20" width="2.00" height="17.50" fill="#9dc8b9"/>
<rect x="433.20" y="346.20" width="0.80" height="17.50" fill="#bad9ce"/>
<rect x="434.00" y="346.20" width="1.00" height="17.50" fill="#d7e9e2"/>
<rect x="435.00" y="346.20" width="0.60" height="17.50" fill="#b5d6ca"/>
<rect x="437.60" y="346.20" width="0.80" height="17.50" fill="#d2e6df"/>
<rect x="438.40" y="346.20" width="1.00" height="17.50" fill="#cae2d9"/>
<rect x="441.00" y="346.20" width="0.60" height="17.50" fill="#9cc8b8"/>
<rect x="441.60" y="346.20" width="2.00" height="17.50" fill="#d1e5de"/>
<rect x="443.60" y="346.20" width="1.60" height="17.50" fill="#acd1c4"/>
<rect x="445.20" y="346.20" width="1.00" height="17.50" fill="#deece7"/>
<rect x="447.50" y="346.20" width="0.80" height="17.50" fill="#d0e5dd"/>
<rect x="450.30" y="346.20" width="1.60" height="17.50" fill="#cbe2da"/>
<rect x="451.90" y="346.20" width="1.30" height="17.50" fill="#d9eae4"/>
<rect x="453.20" y="346.20" width="1.30" height="17.50" fill="#b5d6ca"/>
<rect x="454.50" y="346.20" width="0.50" height="17.50" fill="#a7cec0"/>
<rect x="455.00" y="346.20" width="1.00" height="17.50" fill="#eaf4f0"/>
<rect x="457.00" y="346.20" width="1.00" height="17.50" fill="#e2efeb"/>
<rect x="458.00" y="346.20" width="0.60" height="17.50" fill="#d7e9e3"/>
<rect x="459.60" y="346.20" width="1.00" height="17.50" fill="#ebf4f1"/>
<rect x="462.40" y="346.20" width="0.80" height="17.50" fill="#c6dfd6"/>
<rect x="464.20" y="346.20" width="0.60" height="17.50" fill="#dbebe6"/>
<rect x="464.80" y="346.20" width="2.00" height="17.50" fill="#c7e0d7"/>
<rect x="466.80" y="346.20" width="1.00" height="17.50" fill="#e1eeea"/>
<rect x="469.10" y="346.20" width="0.60" height="17.50" fill="#d5e7e1"/>
<rect x="470.00" y="346.20" width="1.00" height="17.50" fill="#e0eee9"/>
<rect x="472.80" y="346.20" width="1.60" height="17.50" fill="#b9d8cd"/>
<rect x="475.20" y="346.20" width="1.60" height="17.50" fill="#dcece6"/>
<rect x="488.80" y="346.20" width="2.00" height="17.50" fill="#b2d4c8"/>
<rect x="492.80" y="346.20" width="1.30" height="17.50" fill="#cee4dc"/>
<rect x="500.10" y="346.20" width="1.00" height="17.50" fill="#c8e1d8"/>
<rect x="501.10" y="346.20" width="1.30" height="17.50" fill="#deece7"/>
<rect x="502.40" y="346.20" width="1.60" height="17.50" fill="#ecf4f1"/>
<rect x="504.80" y="346.20" width="1.60" height="17.50" fill="#ddece7"/>
<rect x="506.40" y="346.20" width="0.80" height="17.50" fill="#ddece7"/>
<rect x="507.20" y="346.20" width="1.00" height="17.50" fill="#daeae4"/>
<rect x="511.80" y="346.20" width="0.80" height="17.50" fill="#e6f1ed"/>
<rect x="522.00" y="346.20" width="0.60" height="17.50" fill="#cae1d9"/>
<rect x="523.60" y="346.20" width="0.60" height="17.50" fill="#cbe2da"/>
<rect x="537.10" y="346.20" width="1.30" height="17.50" fill="#ebf4f1"/>
<rect x="538.40" y="346.20" width="1.00" height="17.50" fill="#d5e8e1"/>
<rect x="540.40" y="346.20" width="1.00" height="17.50" fill="#d5e8e1"/>
<rect x="546.70" y="346.20" width="1.00" height="17.50" fill="#e6f1ed"/>
<rect x="548.90" y="346.20" width="1.00" height="17.5" fill="#4a9a7e"/>
<rect x="412.30" y="363.70" width="2.00" height="17.50" fill="#dfe7f3"/>
<rect x="414.30" y="363.70" width="1.00" height="17.50" fill="#b7cae3"/>
<rect x="415.30" y="363.70" width="1.60" height="17.50" fill="#cfdced"/>
<rect x="417.90" y="363.70" width="1.30" height="17.50" fill="#d5e0ef"/>
<rect x="419.20" y="363.70" width="1.00" height="17.50" fill="#c7d6e9"/>
<rect x="420.20" y="363.70" width="0.60" height="17.50" fill="#d4dfee"/>
<rect x="422.80" y="363.70" width="0.80" height="17.50" fill="#d1dded"/>
<rect x="426.90" y="363.70" width="0.80" height="17.50" fill="#e8eef6"/>
<rect x="430.10" y="363.70" width="1.30" height="17.50" fill="#b8cbe4"/>
<rect x="432.70" y="363.70" width="1.00" height="17.50" fill="#aec3df"/>
<rect x="438.40" y="363.70" width="1.00" height="17.50" fill="#bbcde4"/>
<rect x="439.40" y="363.70" width="1.60" height="17.50" fill="#c8d6ea"/>
<rect x="444.40" y="363.70" width="1.00" height="17.50" fill="#dee6f2"/>
<rect x="447.70" y="363.70" width="1.00" height="17.50" fill="#adc3df"/>
<rect x="448.70" y="363.70" width="1.60" height="17.50" fill="#c2d2e7"/>
<rect x="450.30" y="363.70" width="2.00" height="17.50" fill="#d6e1ef"/>
<rect x="452.30" y="363.70" width="0.80" height="17.50" fill="#dee7f2"/>
<rect x="454.10" y="363.70" width="1.00" height="17.50" fill="#e5ecf5"/>
<rect x="456.70" y="363.70" width="1.00" height="17.50" fill="#cbd9eb"/>
<rect x="457.70" y="363.70" width="1.00" height="17.50" fill="#b6c9e3"/>
<rect x="458.70" y="363.70" width="2.00" height="17.50" fill="#c7d5e9"/>
<rect x="461.50" y="363.70" width="1.00" height="17.50" fill="#d6e1ef"/>
<rect x="463.30" y="363.70" width="0.60" height="17.50" fill="#dbe4f1"/>
<rect x="465.20" y="363.70" width="1.00" height="17.50" fill="#c3d3e8"/>
<rect x="469.20" y="363.70" width="2.00" height="17.50" fill="#d5e0ef"/>
<rect x="471.20" y="363.70" width="1.00" height="17.50" fill="#b6c9e3"/>
<rect x="477.10" y="363.70" width="0.60" height="17.50" fill="#c1d2e7"/>
<rect x="482.70" y="363.70" width="1.00" height="17.50" fill="#d0dced"/>
<rect x="484.70" y="363.70" width="1.30" height="17.50" fill="#e0e8f3"/>
<rect x="488.40" y="363.70" width="1.60" height="17.50" fill="#e8eef6"/>
<rect x="493.80" y="363.70" width="1.30" height="17.50" fill="#d8e3f0"/>
<rect x="496.50" y="363.70" width="0.60" height="17.50" fill="#b0c5e0"/>
<rect x="504.10" y="363.70" width="0.80" height="17.50" fill="#b7cae3"/>
<rect x="506.90" y="363.70" width="0.60" height="17.50" fill="#d6e1ef"/>
<rect x="509.40" y="363.70" width="0.60" height="17.50" fill="#d0dced"/>
<rect x="510.00" y="363.70" width="0.60" height="17.50" fill="#e0e8f3"/>
<rect x="510.60" y="363.70" width="1.60" height="17.50" fill="#d0dced"/>
<rect x="512.20" y="363.70" width="1.00" height="17.50" fill="#dfe8f3"/>
<rect x="516.40" y="363.70" width="1.30" height="17.50" fill="#e4ebf5"/>
<rect x="518.30" y="363.70" width="1.30" height="17.50" fill="#afc4e0"/>
<rect x="519.60" y="363.70" width="1.30" height="17.50" fill="#c9d7ea"/>
<rect x="523.50" y="363.70" width="0.60" height="17.50" fill="#bccee5"/>
<rect x="524.70" y="363.70" width="1.60" height="17.50" fill="#dde6f2"/>
<rect x="526.30" y="363.70" width="1.30" height="17.50" fill="#e6ecf5"/>
<rect x="532.90" y="363.70" width="0.60" height="17.50" fill="#cedbec"/>
<rect x="539.40" y="363.70" width="0.60" height="17.50" fill="#d6e1ef"/>
<rect x="541.60" y="363.70" width="0.80" height="17.50" fill="#cedbec"/>
<rect x="542.40" y="363.70" width="1.00" height="17.50" fill="#bfd0e6"/>
<rect x="543.40" y="363.70" width="1.00" height="17.50" fill="#e2eaf4"/>
<rect x="544.40" y="363.70" width="2.00" height="17.50" fill="#dde6f2"/>
<rect x="546.40" y="363.70" width="1.00" height="17.50" fill="#d0dced"/>
<rect x="548.20" y="363.70" width="1.30" height="17.50" fill="#d5e0ef"/>
<rect x="550.10" y="363.70" width="7.70" height="17.5" fill="#4878b8"/>
<rect x="414.80" y="381.20" width="1.00" height="17.50" fill="#9ec9ba"/>
<rect x="418.40" y="381.20" width="1.60" height="17.50" fill="#d0e5de"/>
<rect x="421.30" y="381.20" width="0.60" height="17.50" fill="#c3ded5"/>
<rect x="423.20" y="381.20" width="1.00" height="17.50" fill="#dbebe6"/>
<rect x="424.20" y="381.20" width="1.00" height="17.50" fill="#acd1c4"/>
<rect x="425.20" y="381.20" width="1.00" height="17.50" fill="#cce2db"/>
<rect x="426.20" y="381.20" width="0.60" height="17.50" fill="#b6d6cb"/>
<rect x="426.80" y="381.20" width="0.60" height="17.50" fill="#d5e7e1"/>
<rect x="427.40" y="381.20" width="1.00" height="17.50" fill="#cfe4dd"/>
<rect x="428.40" y="381.20" width="2.00" height="17.50" fill="#d1e5de"/>
<rect x="430.40" y="381.20" width="1.00" height="17.50" fill="#afd3c6"/>
<rect x="431.40" y="381.20" width="0.60" height="17.50" fill="#dcebe6"/>
<rect x="435.70" y="381.20" width="2.00" height="17.50" fill="#c0dcd2"/>
<rect x="439.70" y="381.20" width="1.00" height="17.50" fill="#bad9ce"/>
<rect x="440.70" y="381.20" width="2.00" height="17.50" fill="#aed2c5"/>
<rect x="443.70" y="381.20" width="0.80" height="17.50" fill="#c7e0d7"/>
<rect x="445.50" y="381.20" width="1.00" height="17.50" fill="#b2d4c8"/>
<rect x="447.10" y="381.20" width="2.00" height="17.50" fill="#aacfc2"/>
<rect x="449.10" y="381.20" width="1.60" height="17.50" fill="#daeae5"/>
<rect x="451.70" y="381.20" width="1.60" height="17.50" fill="#a2cbbd"/>
<rect x="453.30" y="381.20" width="0.80" height="17.50" fill="#cfe4dd"/>
<rect x="454.90" y="381.20" width="0.10" height="17.50" fill="#d2e6df"/>
<rect x="455.00" y="381.20" width="1.00" height="17.50" fill="#d8e9e3"/>
<rect x="456.00" y="381.20" width="1.00" height="17.50" fill="#c5dfd6"/>
<rect x="461.50" y="381.20" width="2.00" height="17.50" fill="#cde3dc"/>
<rect x="463.50" y="381.20" width="0.80" height="17.50" fill="#bcd9cf"/>
<rect x="471.10" y="381.20" width="1.30" height="17.50" fill="#c5dfd5"/>
<rect x="480.40" y="381.20" width="1.60" height="17.50" fill="#b5d6ca"/>
<rect x="488.80" y="381.20" width="2.00" height="17.50" fill="#aed2c5"/>
<rect x="493.10" y="381.20" width="1.00" height="17.50" fill="#b2d4c8"/>
<rect x="496.10" y="381.20" width="1.00" height="17.50" fill="#bfdbd1"/>
<rect x="502.00" y="381.20" width="1.30" height="17.50" fill="#aed2c5"/>
<rect x="504.30" y="381.20" width="1.00" height="17.50" fill="#bedbd1"/>
<rect x="509.30" y="381.20" width="1.00" height="17.50" fill="#dcece6"/>
<rect x="515.50" y="381.20" width="1.30" height="17.50" fill="#daebe5"/>
<rect x="518.80" y="381.20" width="2.00" height="17.50" fill="#eaf3f0"/>
<rect x="527.70" y="381.20" width="1.00" height="17.50" fill="#b3d4c9"/>
<rect x="535.90" y="381.20" width="0.80" height="17.50" fill="#d0e5dd"/>
<rect x="541.20" y="381.20" width="0.60" height="17.50" fill="#dcebe6"/>
<rect x="543.40" y="381.20" width="1.60" height="17.50" fill="#ecf5f2"/>
<rect x="545.00" y="381.20" width="1.30" height="17.50" fill="#b5d6cb"/>
<rect x="550.60" y="381.20" width="0.80" height="17.50" fill="#c5dfd6"/>
<rect x="554.10" y="381.20" width="1.00" height="17.50" fill="#c6dfd6"/>
<rect x="555.70" y="381.20" width="1.30" height="17.50" fill="#b6d6cb"/>
<rect x="557.90" y="381.20" width="0.70" height="17.5" fill="#4a9a7e"/>
<rect x="411.50" y="398.70" width="1.60" height="17.50" fill="#d2deed"/>
<rect x="415.20" y="398.70" width="2.00" height="17.50" fill="#b3c7e1"/>
<rect x="419.80" y="398.70" width="1.30" height="17.50" fill="#d0dded"/>
<rect x="421.10" y="398.70" width="2.00" height="17.50" fill="#7b9ecc"/>
<rect x="423.10" y="398.70" width="0.60" height="17.50" fill="#c6d5e9"/>
<rect x="424.70" y="398.70" width="0.60" height="17.50" fill="#d2deee"/>
<rect x="429.40" y="398.70" width="2.00" height="17.50" fill="#bfd0e6"/>
<rect x="431.40" y="398.70" width="2.00" height="17.50" fill="#bccee5"/>
<rect x="433.40" y="398.70" width="0.80" height="17.50" fill="#c2d2e7"/>
<rect x="434.20" y="398.70" width="1.00" height="17.50" fill="#83a3cf"/>
<rect x="435.20" y="398.70" width="0.80" height="17.50" fill="#a8bfdd"/>
<rect x="439.60" y="398.70" width="1.00" height="17.50" fill="#d2deed"/>
<rect x="440.60" y="398.70" width="1.00" height="17.50" fill="#ccdaeb"/>
<rect x="441.60" y="398.70" width="1.00" height="17.50" fill="#9eb7d9"/>
<rect x="442.60" y="398.70" width="1.30" height="17.50" fill="#afc4e0"/>
<rect x="444.90" y="398.70" width="0.60" height="17.50" fill="#cbd9eb"/>
<rect x="445.50" y="398.70" width="1.00" height="17.50" fill="#96b2d6"/>
<rect x="447.30" y="398.70" width="2.00" height="17.50" fill="#d6e1ef"/>
<rect x="450.90" y="398.70" width="0.80" height="17.50" fill="#d9e3f0"/>
<rect x="454.60" y="398.70" width="2.00" height="17.50" fill="#d3deee"/>
<rect x="458.60" y="398.70" width="0.80" height="17.50" fill="#90add4"/>
<rect x="461.70" y="398.70" width="1.60" height="17.50" fill="#799ccb"/>
<rect x="463.30" y="398.70" width="0.60" height="17.50" fill="#d9e3f0"/>
<rect x="463.90" y="398.70" width="0.60" height="17.50" fill="#d1dded"/>
<rect x="464.50" y="398.70" width="0.60" height="17.50" fill="#85a5d0"/>
<rect x="465.90" y="398.70" width="1.00" height="17.50" fill="#d3deee"/>
<rect x="467.00" y="398.70" width="0.60" height="17.50" fill="#dee7f2"/>
<rect x="467.60" y="398.70" width="1.60" height="17.50" fill="#a8bfdd"/>
<rect x="471.80" y="398.70" width="1.00" height="17.50" fill="#a6bedd"/>
<rect x="473.60" y="398.70" width="1.60" height="17.50" fill="#d4dfee"/>
<rect x="479.30" y="398.70" width="1.30" height="17.50" fill="#e0e8f3"/>
<rect x="480.60" y="398.70" width="1.60" height="17.50" fill="#e1e9f3"/>
<rect x="491.80" y="398.70" width="0.80" height="17.50" fill="#c8d7ea"/>
<rect x="492.60" y="398.70" width="1.60" height="17.50" fill="#b0c5e0"/>
<rect x="495.20" y="398.70" width="1.00" height="17.50" fill="#dce5f1"/>
<rect x="497.00" y="398.70" width="0.60" height="17.50" fill="#bfd0e6"/>
<rect x="498.60" y="398.70" width="0.60" height="17.50" fill="#d1dded"/>
<rect x="499.20" y="398.70" width="0.60" height="17.50" fill="#8ba9d2"/>
<rect x="499.80" y="398.70" width="1.00" height="17.50" fill="#aec3e0"/>
<rect x="502.80" y="398.70" width="1.00" height="17.50" fill="#d4dfee"/>
<rect x="503.80" y="398.70" width="1.30" height="17.50" fill="#c0d1e7"/>
<rect x="505.10" y="398.70" width="1.30" height="17.50" fill="#ccdaeb"/>
<rect x="506.40" y="398.70" width="1.00" height="17.50" fill="#8facd3"/>
<rect x="509.40" y="398.70" width="1.60" height="17.50" fill="#b8cbe4"/>
<rect x="517.90" y="398.70" width="1.30" height="17.50" fill="#c1d1e7"/>
<rect x="526.80" y="398.70" width="1.00" height="17.50" fill="#dee7f2"/>
<rect x="529.40" y="398.70" width="1.60" height="17.50" fill="#ecf1f8"/>
<rect x="555.60" y="398.70" width="0.80" height="17.50" fill="#d4e0ee"/>
<rect x="558.60" y="398.70" width="0.70" height="17.5" fill="#4878b8"/>
<rect x="411.50" y="416.20" width="2.00" height="17.50" fill="#d6e8e2"/>
<rect x="418.70" y="416.20" width="1.60" height="17.50" fill="#e3f0eb"/>
<rect x="428.00" y="416.20" width="1.60" height="17.50" fill="#c0dcd2"/>
<rect x="442.20" y="416.20" width="1.60" height="17.50" fill="#dbebe5"/>
<rect x="444.80" y="416.20" width="0.80" height="17.50" fill="#e3efeb"/>
<rect x="452.50" y="416.20" width="1.00" height="17.50" fill="#e5f1ed"/>
<rect x="453.50" y="416.20" width="1.00" height="17.50" fill="#eaf3f0"/>
<rect x="461.20" y="416.20" width="1.00" height="17.50" fill="#dfede8"/>
<rect x="464.80" y="416.20" width="1.00" height="17.50" fill="#64a890"/>
<rect x="465.80" y="416.20" width="2.00" height="17.50" fill="#60a68e"/>
<rect x="467.80" y="416.20" width="0.60" height="17.50" fill="#89bdab"/>
<rect x="468.40" y="416.20" width="1.00" height="17.50" fill="#83baa6"/>
<rect x="472.30" y="416.20" width="1.00" height="17.50" fill="#8dbfae"/>
<rect x="473.30" y="416.20" width="0.60" height="17.50" fill="#9cc8b9"/>
<rect x="475.90" y="416.20" width="1.30" height="17.50" fill="#83baa7"/>
<rect x="477.20" y="416.20" width="1.00" height="17.50" fill="#80b8a5"/>
<rect x="478.20" y="416.20" width="1.00" height="17.50" fill="#6fae98"/>
<rect x="479.20" y="416.20" width="0.60" height="17.50" fill="#8abeac"/>
<rect x="480.80" y="416.20" width="1.00" height="17.50" fill="#98c6b6"/>
<rect x="481.80" y="416.20" width="0.60" height="17.50" fill="#a4ccbe"/>
<rect x="482.40" y="416.20" width="1.00" height="17.50" fill="#8cbfad"/>
<rect x="484.20" y="416.20" width="1.00" height="17.50" fill="#73b19b"/>
<rect x="485.20" y="416.20" width="1.00" height="17.50" fill="#99c6b6"/>
<rect x="486.20" y="416.20" width="2.00" height="17.50" fill="#a3ccbe"/>
<rect x="488.20" y="416.20" width="1.60" height="17.50" fill="#99c6b6"/>
<rect x="489.80" y="416.20" width="1.30" height="17.50" fill="#a4ccbe"/>
<rect x="491.10" y="416.20" width="0.60" height="17.50" fill="#74b29c"/>
<rect x="491.70" y="416.20" width="1.30" height="17.50" fill="#60a78e"/>
<rect x="493.00" y="416.20" width="2.00" height="17.50" fill="#5da58c"/>
<rect x="495.00" y="416.20" width="2.00" height="17.50" fill="#5ea58c"/>
<rect x="497.00" y="416.20" width="0.60" height="17.50" fill="#a4ccbe"/>
<rect x="499.60" y="416.20" width="0.40" height="17.50" fill="#74b19c"/>
<rect x="502.00" y="416.20" width="1.00" height="17.50" fill="#ebf4f1"/>
<rect x="515.60" y="416.20" width="1.60" height="17.50" fill="#e6f1ed"/>
<rect x="533.50" y="416.20" width="1.00" height="17.50" fill="#d6e8e2"/>
<rect x="559.50" y="416.20" width="0.10" height="17.5" fill="#4a9a7e"/>
<rect x="412.80" y="433.70" width="1.30" height="17.50" fill="#d1dded"/>
<rect x="415.10" y="433.70" width="0.60" height="17.50" fill="#bacce4"/>
<rect x="416.50" y="433.70" width="2.00" height="17.50" fill="#a9c0de"/>
<rect x="418.50" y="433.70" width="0.80" height="17.50" fill="#bbcde5"/>
<rect x="423.30" y="433.70" width="1.30" height="17.50" fill="#dae4f1"/>
<rect x="426.80" y="433.70" width="1.60" height="17.50" fill="#e3eaf4"/>
<rect x="434.20" y="433.70" width="1.60" height="17.50" fill="#c4d3e8"/>
<rect x="438.80" y="433.70" width="1.00" height="17.50" fill="#d7e1ef"/>
<rect x="439.80" y="433.70" width="1.30" height="17.50" fill="#b0c4e0"/>
<rect x="442.10" y="433.70" width="1.00" height="17.50" fill="#dae3f0"/>
<rect x="449.10" y="433.70" width="0.60" height="17.50" fill="#a8bfdd"/>
<rect x="450.30" y="433.70" width="1.60" height="17.50" fill="#9ab5d8"/>
<rect x="453.20" y="433.70" width="0.60" height="17.50" fill="#e2eaf4"/>
<rect x="455.80" y="433.70" width="2.00" height="17.50" fill="#a0b9da"/>
<rect x="457.80" y="433.70" width="1.00" height="17.50" fill="#aac1de"/>
<rect x="462.40" y="433.70" width="1.00" height="17.50" fill="#e3eaf4"/>
<rect x="463.40" y="433.70" width="0.80" height="17.50" fill="#d5e0ef"/>
<rect x="464.20" y="433.70" width="1.00" height="17.50" fill="#e3eaf4"/>
<rect x="465.20" y="433.70" width="1.00" height="17.50" fill="#b5c9e2"/>
<rect x="466.20" y="433.70" width="0.80" height="17.50" fill="#dbe4f1"/>
<rect x="467.60" y="433.70" width="1.30" height="17.50" fill="#c2d2e7"/>
<rect x="474.50" y="433.70" width="0.80" height="17.50" fill="#cedbec"/>
<rect x="475.30" y="433.70" width="1.30" height="17.50" fill="#cad8ea"/>
<rect x="479.90" y="433.70" width="2.00" height="17.50" fill="#e3eaf4"/>
<rect x="481.90" y="433.70" width="1.00" height="17.50" fill="#bacce4"/>
<rect x="490.10" y="433.70" width="0.60" height="17.50" fill="#c2d2e7"/>
<rect x="494.00" y="433.70" width="0.60" height="17.50" fill="#c3d3e8"/>
<rect x="497.50" y="433.70" width="1.30" height="17.50" fill="#9fb8da"/>
<rect x="500.70" y="433.70" width="2.00" height="17.50" fill="#bbcde4"/>
<rect x="502.70" y="433.70" width="0.60" height="17.50" fill="#9bb5d8"/>
<rect x="513.30" y="433.70" width="0.60" height="17.50" fill="#b9cbe4"/>
<rect x="521.30" y="433.70" width="0.80" height="17.50" fill="#ecf1f8"/>
<rect x="531.70" y="433.70" width="1.30" height="17.50" fill="#cbd9eb"/>
<rect x="552.20" y="433.70" width="0.60" height="17.50" fill="#d7e1ef"/>
<rect x="553.80" y="433.70" width="1.00" height="17.50" fill="#ecf1f8"/>
<rect x="559.30" y="433.70" width="1.00" height="17.5" fill="#4878b8"/>
<rect x="411.50" y="451.20" width="1.30" height="17.50" fill="#b5d5ca"/>
<rect x="414.40" y="451.20" width="0.80" height="17.50" fill="#c4ded5"/>
<rect x="415.20" y="451.20" width="0.60" height="17.50" fill="#a0cabc"/>
<rect x="415.80" y="451.20" width="0.60" height="17.50" fill="#cce3db"/>
<rect x="417.20" y="451.20" width="1.30" height="17.50" fill="#dcece6"/>
<rect x="419.50" y="451.20" width="0.60" height="17.50" fill="#e1eeea"/>
<rect x="420.10" y="451.20" width="1.00" height="17.50" fill="#e3efeb"/>
<rect x="421.10" y="451.20" width="0.60" height="17.50" fill="#b6d6cb"/>
<rect x="421.70" y="451.20" width="0.80" height="17.50" fill="#e2efeb"/>
<rect x="422.50" y="451.20" width="2.00" height="17.50" fill="#94c3b2"/>
<rect x="424.50" y="451.20" width="2.00" height="17.50" fill="#dfede8"/>
<rect x="426.50" y="451.20" width="1.00" height="17.50" fill="#c7e0d7"/>
<rect x="427.50" y="451.20" width="1.00" height="17.50" fill="#b6d6cb"/>
<rect x="428.50" y="451.20" width="0.80" height="17.50" fill="#a4ccbe"/>
<rect x="429.30" y="451.20" width="2.00" height="17.50" fill="#ddece7"/>
<rect x="432.60" y="451.20" width="0.60" height="17.50" fill="#c5dfd6"/>
<rect x="433.80" y="451.20" width="0.60" height="17.50" fill="#d0e5de"/>
<rect x="434.40" y="451.20" width="0.60" height="17.50" fill="#a8cec1"/>
<rect x="435.00" y="451.20" width="2.00" height="17.50" fill="#bfdbd1"/>
<rect x="437.00" y="451.20" width="1.60" height="17.50" fill="#cce3db"/>
<rect x="440.20" y="451.20" width="1.60" height="17.50" fill="#b5d6ca"/>
<rect x="441.80" y="451.20" width="1.00" height="17.50" fill="#d3e7e0"/>
<rect x="445.40" y="451.20" width="1.60" height="17.50" fill="#cce2da"/>
<rect x="447.00" y="451.20" width="2.00" height="17.50" fill="#d6e8e2"/>
<rect x="450.30" y="451.20" width="1.60" height="17.50" fill="#b2d4c8"/>
<rect x="456.80" y="451.20" width="2.00" height="17.50" fill="#d5e8e1"/>
<rect x="458.80" y="451.20" width="1.30" height="17.50" fill="#cbe2da"/>
<rect x="460.10" y="451.20" width="1.30" height="17.50" fill="#a9cfc2"/>
<rect x="461.40" y="451.20" width="1.60" height="17.50" fill="#b7d7cc"/>
<rect x="463.00" y="451.20" width="1.00" height="17.50" fill="#97c5b5"/>
<rect x="464.00" y="451.20" width="1.00" height="17.50" fill="#c7e0d7"/>
<rect x="467.00" y="451.20" width="0.60" height="17.50" fill="#d0e5de"/>
<rect x="470.50" y="451.20" width="0.80" height="17.50" fill="#bedbd1"/>
<rect x="471.30" y="451.20" width="1.60" height="17.50" fill="#e4f0ec"/>
<rect x="473.50" y="451.20" width="1.60" height="17.50" fill="#9cc8b9"/>
<rect x="475.10" y="451.20" width="1.60" height="17.50" fill="#cce2da"/>
<rect x="482.90" y="451.20" width="0.80" height="17.50" fill="#b3d4c9"/>
<rect x="484.70" y="451.20" width="1.30" height="17.50" fill="#afd2c6"/>
<rect x="486.00" y="451.20" width="0.80" height="17.50" fill="#bfdbd1"/>
<rect x="486.80" y="451.20" width="1.60" height="17.50" fill="#cde3db"/>
<rect x="490.00" y="451.20" width="1.60" height="17.50" fill="#bbd9ce"/>
<rect x="491.60" y="451.20" width="1.00" height="17.50" fill="#e3efeb"/>
<rect x="495.90" y="451.20" width="2.00" height="17.50" fill="#e0ede9"/>
<rect x="499.50" y="451.20" width="1.00" height="17.50" fill="#e3efeb"/>
<rect x="502.10" y="451.20" width="0.80" height="17.50" fill="#b6d6cb"/>
<rect x="502.90" y="451.20" width="2.00" height="17.50" fill="#dfede8"/>
<rect x="511.20" y="451.20" width="1.00" height="17.50" fill="#b0d3c7"/>
<rect x="513.80" y="451.20" width="0.80" height="17.50" fill="#c8e0d8"/>
<rect x="516.30" y="451.20" width="1.00" height="17.50" fill="#eaf3f0"/>
<rect x="528.70" y="451.20" width="0.60" height="17.50" fill="#dfede8"/>
<rect x="545.80" y="451.20" width="0.60" height="17.50" fill="#ecf5f2"/>
<rect x="551.00" y="451.20" width="2.00" height="17.50" fill="#d5e8e1"/>
<rect x="560.60" y="451.20" width="1.20" height="17.5" fill="#4a9a7e"/>
<rect x="415.60" y="468.70" width="2.00" height="17.50" fill="#dce5f1"/>
<rect x="417.60" y="468.70" width="1.30" height="17.50" fill="#dce5f2"/>
<rect x="418.90" y="468.70" width="1.60" height="17.50" fill="#d8e2f0"/>
<rect x="420.50" y="468.70" width="1.60" height="17.50" fill="#b6c9e3"/>
<rect x="422.10" y="468.70" width="1.60" height="17.50" fill="#e2e9f4"/>
<rect x="423.70" y="468.70" width="1.30" height="17.50" fill="#dce5f2"/>
<rect x="425.00" y="468.70" width="2.00" height="17.50" fill="#a9bfdd"/>
<rect x="427.00" y="468.70" width="1.00" height="17.50" fill="#d0dced"/>
<rect x="428.00" y="468.70" width="0.80" height="17.50" fill="#bdcfe6"/>
<rect x="428.80" y="468.70" width="0.80" height="17.50" fill="#b5c9e2"/>
<rect x="434.90" y="468.70" width="1.00" height="17.50" fill="#bacce4"/>
<rect x="436.90" y="468.70" width="2.00" height="17.50" fill="#bacce4"/>
<rect x="445.00" y="468.70" width="0.60" height="17.50" fill="#d3dfee"/>
<rect x="448.00" y="468.70" width="1.60" height="17.50" fill="#dee6f2"/>
<rect x="451.20" y="468.70" width="1.60" height="17.50" fill="#d7e2f0"/>
<rect x="459.20" y="468.70" width="0.60" height="17.50" fill="#c0d1e7"/>
<rect x="459.80" y="468.70" width="2.00" height="17.50" fill="#dbe4f1"/>
<rect x="461.80" y="468.70" width="0.60" height="17.50" fill="#e1e9f3"/>
<rect x="464.00" y="468.70" width="0.60" height="17.50" fill="#c8d7ea"/>
<rect x="464.60" y="468.70" width="1.00" height="17.50" fill="#e3eaf4"/>
<rect x="465.60" y="468.70" width="1.00" height="17.50" fill="#d7e1ef"/>
<rect x="466.60" y="468.70" width="0.40" height="17.50" fill="#a2badb"/>
<rect x="469.00" y="468.70" width="0.60" height="17.50" fill="#acc2df"/>
<rect x="469.60" y="468.70" width="0.60" height="17.50" fill="#b9cce4"/>
<rect x="470.20" y="468.70" width="1.30" height="17.50" fill="#cddaeb"/>
<rect x="471.50" y="468.70" width="0.80" height="17.50" fill="#d3dfee"/>
<rect x="473.90" y="468.70" width="1.60" height="17.50" fill="#dee7f2"/>
<rect x="477.30" y="468.70" width="2.00" height="17.50" fill="#c5d4e8"/>
<rect x="484.20" y="468.70" width="1.00" height="17.50" fill="#dee6f2"/>
<rect x="485.80" y="468.70" width="2.00" height="17.50" fill="#cad8eb"/>
<rect x="487.80" y="468.70" width="1.00" height="17.50" fill="#c0d1e7"/>
<rect x="490.40" y="468.70" width="1.00" height="17.50" fill="#d2deee"/>
<rect x="491.40" y="468.70" width="1.00" height="17.50" fill="#c2d2e7"/>
<rect x="493.00" y="468.70" width="0.80" height="17.50" fill="#d6e1ef"/>
<rect x="497.80" y="468.70" width="1.00" height="17.50" fill="#b9cce4"/>
<rect x="499.80" y="468.70" width="1.00" height="17.50" fill="#c8d7ea"/>
<rect x="500.80" y="468.70" width="1.30" height="17.50" fill="#dbe4f1"/>
<rect x="503.00" y="468.70" width="1.00" height="17.50" fill="#b7cae3"/>
<rect x="517.80" y="468.70" width="1.00" height="17.50" fill="#e2eaf4"/>
<rect x="522.80" y="468.70" width="1.00" height="17.50" fill="#c5d4e9"/>
<rect x="528.40" y="468.70" width="1.60" height="17.50" fill="#ecf1f8"/>
<rect x="533.40" y="468.70" width="0.60" height="17.50" fill="#e5ecf5"/>
<rect x="534.60" y="468.70" width="0.80" height="17.50" fill="#cbd9eb"/>
<rect x="537.50" y="468.70" width="1.00" height="17.50" fill="#c6d5e9"/>
<rect x="542.90" y="468.70" width="2.00" height="17.50" fill="#c1d1e7"/>
<rect x="545.50" y="468.70" width="1.00" height="17.50" fill="#eaeff7"/>
<rect x="555.50" y="468.70" width="1.00" height="17.50" fill="#d1dded"/>
<rect x="558.50" y="468.70" width="1.30" height="17.50" fill="#e1e9f4"/>
<rect x="561.80" y="468.70" width="1.00" height="17.5" fill="#4878b8"/>
<rect x="412.80" y="486.20" width="1.00" height="17.50" fill="#d6e1ef"/>
<rect x="415.40" y="486.20" width="1.00" height="17.50" fill="#e1e9f3"/>
<rect x="416.40" y="486.20" width="0.60" height="17.50" fill="#d5e0ef"/>
<rect x="417.00" y="486.20" width="1.00" height="17.50" fill="#bccee5"/>
<rect x="418.00" y="486.20" width="1.00" height="17.50" fill="#c6d5e9"/>
<rect x="419.00" y="486.20" width="0.60" height="17.50" fill="#c3d3e8"/>
<rect x="419.60" y="486.20" width="1.00" height="17.50" fill="#b7cae3"/>
<rect x="420.60" y="486.20" width="0.60" height="17.50" fill="#d2deee"/>
<rect x="421.20" y="486.20" width="0.60" height="17.50" fill="#a6bddc"/>
<rect x="421.80" y="486.20" width="1.30" height="17.50" fill="#9eb7d9"/>
<rect x="423.10" y="486.20" width="1.00" height="17.50" fill="#bfd0e6"/>
<rect x="424.10" y="486.20" width="0.80" height="17.50" fill="#dfe8f3"/>
<rect x="428.50" y="486.20" width="1.00" height="17.50" fill="#d5e0ef"/>
<rect x="434.50" y="486.20" width="1.60" height="17.50" fill="#96b1d6"/>
<rect x="445.90" y="486.20" width="0.80" height="17.50" fill="#97b2d7"/>
<rect x="447.50" y="486.20" width="1.00" height="17.50" fill="#abc1de"/>
<rect x="448.50" y="486.20" width="1.00" height="17.50" fill="#b6c9e3"/>
<rect x="451.50" y="486.20" width="0.60" height="17.50" fill="#9cb6d9"/>
<rect x="455.10" y="486.20" width="0.60" height="17.50" fill="#c5d5e9"/>
<rect x="457.90" y="486.20" width="0.60" height="17.50" fill="#d6e1ef"/>
<rect x="458.50" y="486.20" width="0.80" height="17.50" fill="#9db7d9"/>
<rect x="459.30" y="486.20" width="1.00" height="17.50" fill="#c7d6e9"/>
<rect x="461.30" y="486.20" width="1.30" height="17.50" fill="#d0dced"/>
<rect x="463.60" y="486.20" width="1.30" height="17.50" fill="#bacce4"/>
<rect x="470.20" y="486.20" width="1.60" height="17.50" fill="#9bb5d8"/>
<rect x="472.80" y="486.20" width="0.80" height="17.50" fill="#dae4f1"/>
<rect x="475.80" y="486.20" width="0.60" height="17.50" fill="#aec3e0"/>
<rect x="476.40" y="486.20" width="2.00" height="17.50" fill="#e0e8f3"/>
<rect x="483.80" y="486.20" width="2.00" height="17.50" fill="#c4d3e8"/>
<rect x="489.00" y="486.20" width="0.80" height="17.50" fill="#9fb8da"/>
<rect x="489.80" y="486.20" width="0.80" height="17.50" fill="#9eb8d9"/>
<rect x="499.30" y="486.20" width="0.60" height="17.50" fill="#c5d4e8"/>
<rect x="510.80" y="486.20" width="0.80" height="17.50" fill="#cad8eb"/>
<rect x="513.60" y="486.20" width="0.60" height="17.50" fill="#9cb6d8"/>
<rect x="515.00" y="486.20" width="0.80" height="17.50" fill="#ccd9eb"/>
<rect x="539.40" y="486.20" width="2.00" height="17.50" fill="#d5e0ef"/>
<rect x="544.40" y="486.20" width="1.00" height="17.50" fill="#d7e1ef"/>
<rect x="555.40" y="486.20" width="1.00" height="17.50" fill="#e3eaf4"/>
<rect x="558.40" y="486.20" width="0.80" height="17.5" fill="#4878b8"/>
<rect x="423.10" y="503.70" width="1.00" height="17.50" fill="#bbcce4"/>
<rect x="435.60" y="503.70" width="1.00" height="17.50" fill="#e5ecf5"/>
<rect x="442.50" y="503.70" width="1.00" height="17.50" fill="#c9d7ea"/>
<rect x="448.40" y="503.70" width="0.80" height="17.50" fill="#aec3e0"/>
<rect x="453.80" y="503.70" width="1.00" height="17.50" fill="#cddaec"/>
<rect x="467.00" y="503.70" width="0.80" height="17.50" fill="#e9eff6"/>
<rect x="472.60" y="503.70" width="1.00" height="17.50" fill="#e6edf5"/>
<rect x="473.60" y="503.70" width="0.60" height="17.50" fill="#e8eef6"/>
<rect x="476.20" y="503.70" width="1.00" height="17.50" fill="#e1e9f3"/>
<rect x="477.20" y="503.70" width="1.00" height="17.50" fill="#e8eef6"/>
<rect x="479.50" y="503.70" width="1.30" height="17.50" fill="#bdcee5"/>
<rect x="480.80" y="503.70" width="0.80" height="17.50" fill="#b1c5e1"/>
<rect x="483.60" y="503.70" width="0.80" height="17.50" fill="#cddaeb"/>
<rect x="488.80" y="503.70" width="0.60" height="17.50" fill="#bfd0e6"/>
<rect x="494.60" y="503.70" width="1.60" height="17.50" fill="#d7e1ef"/>
<rect x="496.20" y="503.70" width="1.00" height="17.50" fill="#d1dded"/>
<rect x="508.40" y="503.70" width="1.00" height="17.50" fill="#a5bcdc"/>
<rect x="511.70" y="503.70" width="1.30" height="17.50" fill="#a9c0de"/>
<rect x="516.60" y="503.70" width="0.80" height="17.50" fill="#bbcde5"/>
<rect x="517.40" y="503.70" width="1.30" height="17.50" fill="#e9eff6"/>
<rect x="521.30" y="503.70" width="1.00" height="17.50" fill="#c9d7ea"/>
<rect x="529.40" y="503.70" width="1.30" height="17.50" fill="#b7cae3"/>
<rect x="547.50" y="503.70" width="1.30" height="17.50" fill="#c6d5e9"/>
<rect x="550.90" y="503.70" width="1.30" height="17.50" fill="#d5e0ef"/>
<rect x="553.80" y="503.70" width="1.60" height="17.50" fill="#dbe4f1"/>
<rect x="561.10" y="503.70" width="0.90" height="17.50" fill="#d8e2f0"/>
<rect x="562.80" y="503.70" width="0.90" height="17.5" fill="#4878b8"/>
<rect x="411.50" y="521.20" width="0.80" height="17.50" fill="#ebf4f0"/>
<rect x="419.80" y="521.20" width="1.30" height="17.50" fill="#e5f1ed"/>
<rect x="421.10" y="521.20" width="1.00" height="17.50" fill="#c1ddd3"/>
<rect x="422.90" y="521.20" width="1.00" height="17.50" fill="#e4f0ec"/>
<rect x="424.90" y="521.20" width="1.30" height="17.50" fill="#e5f0ec"/>
<rect x="429.40" y="521.20" width="1.60" height="17.50" fill="#cee4dc"/>
<rect x="431.00" y="521.20" width="0.80" height="17.50" fill="#e5f1ed"/>
<rect x="439.60" y="521.20" width="1.00" height="17.50" fill="#cfe4dd"/>
<rect x="441.20" y="521.20" width="1.60" height="17.50" fill="#c3ddd4"/>
<rect x="442.80" y="521.20" width="2.00" height="17.50" fill="#cce2da"/>
<rect x="444.80" y="521.20" width="0.80" height="17.50" fill="#e6f1ed"/>
<rect x="445.60" y="521.20" width="1.60" height="17.50" fill="#c1dcd3"/>
<rect x="447.20" y="521.20" width="1.00" height="17.50" fill="#b7d7cc"/>
<rect x="459.60" y="521.20" width="1.00" height="17.50" fill="#bddad0"/>
<rect x="464.80" y="521.20" width="1.30" height="17.50" fill="#e9f3ef"/>
<rect x="467.60" y="521.20" width="1.00" height="17.50" fill="#cee4dc"/>
<rect x="471.60" y="521.20" width="1.60" height="17.50" fill="#d6e8e2"/>
<rect x="473.20" y="521.20" width="0.80" height="17.50" fill="#bad8ce"/>
<rect x="481.80" y="521.20" width="0.80" height="17.50" fill="#e0eee9"/>
<rect x="484.90" y="521.20" width="0.80" height="17.50" fill="#d0e5dd"/>
<rect x="492.00" y="521.20" width="0.60" height="17.50" fill="#cde3db"/>
<rect x="502.90" y="521.20" width="1.60" height="17.50" fill="#d4e7e1"/>
<rect x="508.20" y="521.20" width="0.80" height="17.50" fill="#e7f2ee"/>
<rect x="513.20" y="521.20" width="1.00" height="17.50" fill="#afd3c6"/>
<rect x="514.20" y="521.20" width="1.00" height="17.50" fill="#bfdbd1"/>
<rect x="548.80" y="521.20" width="1.30" height="17.50" fill="#b5d5ca"/>
<rect x="552.50" y="521.20" width="0.60" height="17.50" fill="#ecf4f1"/>
<rect x="555.70" y="521.20" width="1.00" height="17.50" fill="#d6e8e2"/>
<rect x="557.50" y="521.20" width="1.60" height="17.50" fill="#dfede8"/>
<rect x="563.60" y="521.20" width="0.80" height="17.5" fill="#4a9a7e"/>
<rect x="421.90" y="538.70" width="0.60" height="17.50" fill="#cfdbec"/>
<rect x="422.50" y="538.70" width="1.60" height="17.50" fill="#ecf1f8"/>
<rect x="428.30" y="538.70" width="1.00" height="17.50" fill="#c3d3e8"/>
<rect x="429.90" y="538.70" width="0.60" height="17.50" fill="#ccd9eb"/>
<rect x="443.70" y="538.70" width="2.00" height="17.50" fill="#cedbec"/>
<rect x="452.10" y="538.70" width="2.00" height="17.50" fill="#a5bddc"/>
<rect x="454.10" y="538.70" width="1.00" height="17.50" fill="#c2d2e7"/>
<rect x="456.10" y="538.70" width="1.00" height="17.50" fill="#b3c7e1"/>
<rect x="472.50" y="538.70" width="1.30" height="17.50" fill="#d4e0ee"/>
<rect x="475.10" y="538.70" width="1.60" height="17.50" fill="#c0d1e7"/>
<rect x="476.70" y="538.70" width="0.60" height="17.50" fill="#a9bfde"/>
<rect x="477.30" y="538.70" width="1.60" height="17.50" fill="#a3bbdb"/>
<rect x="478.90" y="538.70" width="1.00" height="17.50" fill="#e3ebf4"/>
<rect x="481.50" y="538.70" width="0.80" height="17.50" fill="#b0c5e0"/>
<rect x="489.30" y="538.70" width="0.80" height="17.50" fill="#afc4e0"/>
<rect x="502.60" y="538.70" width="1.30" height="17.50" fill="#b9cbe4"/>
<rect x="505.50" y="538.70" width="1.30" height="17.50" fill="#a4bcdc"/>
<rect x="506.80" y="538.70" width="0.80" height="17.50" fill="#b6c9e3"/>
<rect x="507.60" y="538.70" width="0.80" height="17.50" fill="#d3dfee"/>
<rect x="508.40" y="538.70" width="1.00" height="17.50" fill="#c0d0e7"/>
<rect x="509.40" y="538.70" width="2.00" height="17.50" fill="#c2d2e7"/>
<rect x="515.00" y="538.70" width="1.00" height="17.50" fill="#aac0de"/>
<rect x="516.00" y="538.70" width="1.00" height="17.50" fill="#adc2df"/>
<rect x="517.00" y="538.70" width="1.00" height="17.50" fill="#e3ebf4"/>
<rect x="520.00" y="538.70" width="0.80" height="17.50" fill="#adc2df"/>
<rect x="535.10" y="538.70" width="2.00" height="17.50" fill="#cddaec"/>
<rect x="564.40" y="538.70" width="0.80" height="17.5" fill="#4878b8"/>
<rect x="413.50" y="556.20" width="1.60" height="17.50" fill="#bad8ce"/>
<rect x="420.10" y="556.20" width="0.80" height="17.50" fill="#dcece6"/>
<rect x="423.50" y="556.20" width="1.60" height="17.50" fill="#bcdacf"/>
<rect x="432.40" y="556.20" width="1.00" height="17.50" fill="#c7e0d7"/>
<rect x="434.60" y="556.20" width="2.00" height="17.50" fill="#ebf4f1"/>
<rect x="454.00" y="556.20" width="1.60" height="17.50" fill="#e1eeea"/>
<rect x="456.40" y="556.20" width="1.60" height="17.50" fill="#ecf5f2"/>
<rect x="460.00" y="556.20" width="1.60" height="17.50" fill="#bfdbd1"/>
<rect x="461.60" y="556.20" width="1.60" height="17.50" fill="#cee4dc"/>
<rect x="463.20" y="556.20" width="2.00" height="17.50" fill="#b4d5c9"/>
<rect x="465.20" y="556.20" width="1.00" height="17.50" fill="#daeae5"/>
<rect x="466.20" y="556.20" width="0.80" height="17.50" fill="#d3e7e0"/>
<rect x="471.70" y="556.20" width="1.30" height="17.50" fill="#e1efea"/>
<rect x="482.40" y="556.20" width="1.00" height="17.50" fill="#ebf4f1"/>
<rect x="512.80" y="556.20" width="1.00" height="17.50" fill="#c8e0d8"/>
<rect x="529.20" y="556.20" width="1.60" height="17.50" fill="#e4f0ec"/>
<rect x="540.60" y="556.20" width="1.30" height="17.50" fill="#e6f1ed"/>
<rect x="559.90" y="556.20" width="2.00" height="17.50" fill="#e7f2ee"/>
<rect x="565.20" y="556.20" width="0.90" height="17.5" fill="#4a9a7e"/>
<rect x="418.50" y="573.70" width="1.00" height="17.50" fill="#a6bddc"/>
<rect x="428.80" y="573.70" width="0.80" height="17.50" fill="#c1d2e7"/>
<rect x="437.60" y="573.70" width="2.00" height="17.50" fill="#b2c6e1"/>
<rect x="441.20" y="573.70" width="1.00" height="17.50" fill="#d1dded"/>
<rect x="444.80" y="573.70" width="1.00" height="17.50" fill="#ecf1f8"/>
<rect x="450.00" y="573.70" width="1.00" height="17.50" fill="#cbd8eb"/>
<rect x="463.10" y="573.70" width="1.00" height="17.50" fill="#dae4f1"/>
<rect x="464.10" y="573.70" width="0.80" height="17.50" fill="#e5ecf5"/>
<rect x="468.30" y="573.70" width="1.00" height="17.50" fill="#e2eaf4"/>
<rect x="469.90" y="573.70" width="1.00" height="17.50" fill="#e3ebf4"/>
<rect x="471.90" y="573.70" width="2.00" height="17.50" fill="#a9bfdd"/>
<rect x="473.90" y="573.70" width="0.60" height="17.50" fill="#e2e9f4"/>
<rect x="474.50" y="573.70" width="1.00" height="17.50" fill="#a2badb"/>
<rect x="475.50" y="573.70" width="1.00" height="17.50" fill="#bccee5"/>
<rect x="476.50" y="573.70" width="1.60" height="17.50" fill="#e1e9f3"/>
<rect x="478.10" y="573.70" width="2.00" height="17.50" fill="#bbcde5"/>
<rect x="482.10" y="573.70" width="0.60" height="17.50" fill="#dfe7f2"/>
<rect x="484.90" y="573.70" width="2.00" height="17.50" fill="#dee6f2"/>
<rect x="487.50" y="573.70" width="1.00" height="17.50" fill="#9fb8da"/>
<rect x="489.10" y="573.70" width="0.60" height="17.50" fill="#e0e8f3"/>
<rect x="489.70" y="573.70" width="1.00" height="17.50" fill="#becfe6"/>
<rect x="490.70" y="573.70" width="1.30" height="17.50" fill="#dde6f2"/>
<rect x="492.00" y="573.70" width="2.00" height="17.50" fill="#b6c9e3"/>
<rect x="494.00" y="573.70" width="1.00" height="17.50" fill="#c7d6e9"/>
<rect x="495.00" y="573.70" width="1.60" height="17.50" fill="#ccd9eb"/>
<rect x="496.60" y="573.70" width="1.00" height="17.50" fill="#bfd0e6"/>
<rect x="497.60" y="573.70" width="1.00" height="17.50" fill="#c9d7ea"/>
<rect x="499.20" y="573.70" width="1.00" height="17.50" fill="#dee7f2"/>
<rect x="501.50" y="573.70" width="1.30" height="17.50" fill="#bfd0e6"/>
<rect x="506.50" y="573.70" width="1.60" height="17.50" fill="#bacce4"/>
<rect x="508.10" y="573.70" width="1.00" height="17.50" fill="#cddaeb"/>
<rect x="511.30" y="573.70" width="1.30" height="17.50" fill="#bbcde5"/>
<rect x="512.60" y="573.70" width="1.30" height="17.50" fill="#becfe6"/>
<rect x="516.00" y="573.70" width="2.00" height="17.50" fill="#b5c9e2"/>
<rect x="523.10" y="573.70" width="1.00" height="17.50" fill="#ecf1f7"/>
<rect x="533.90" y="573.70" width="0.60" height="17.50" fill="#d5e0ef"/>
<rect x="559.70" y="573.70" width="0.80" height="17.50" fill="#d6e1ef"/>
<rect x="566.00" y="573.70" width="0.80" height="17.5" fill="#4878b8"/>
<text x="632.5" y="224.3" font-size="7.7" text-anchor="start" fill="#000">TP53 Mutation</text>
<text x="632.5" y="231.6" font-size="7.7" text-anchor="start" fill="#000">PTEN Mutation</text>
<text x="632.5" y="239" font-size="7.7" text-anchor="start" fill="#000">PTEN CN Loss</text>
<text x="632.5" y="251" font-size="8.9" text-anchor="start" fill="#000">PTEN</text>
<text x="632.5" y="268.5" font-size="8.9" text-anchor="start" fill="#000">TP53</text>
<text x="632.5" y="286" font-size="8.9" text-anchor="start" fill="#000">PDCD10</text>
<text x="632.5" y="303.5" font-size="8.9" text-anchor="start" fill="#000">NF2</text>
<text x="632.5" y="321" font-size="8.9" text-anchor="start" fill="#000">LILRA6</text>
<text x="632.5" y="338.5" font-size="8.9" text-anchor="start" fill="#000">ZNF611</text>
<text x="632.5" y="356" font-size="8.9" text-anchor="start" fill="#000">TSC1</text>
<text x="632.5" y="373.5" font-size="8.9" text-anchor="start" fill="#000">VCX3B</text>
<text x="632.5" y="391" font-size="8.9" text-anchor="start" fill="#000">TSC2</text>
<text x="632.5" y="408.5" font-size="8.9" text-anchor="start" fill="#000">TAOK1</text>
<text x="632.5" y="426" font-size="8.9" text-anchor="start" fill="#000">CDKN1A</text>
<text x="632.5" y="443.5" font-size="8.9" text-anchor="start" fill="#000">KIRREL1</text>
<text x="632.5" y="461" font-size="8.9" text-anchor="start" fill="#000">KEAP1</text>
<text x="632.5" y="478.5" font-size="8.9" text-anchor="start" fill="#000">AMBRA1</text>
<text x="632.5" y="496" font-size="8.9" text-anchor="start" fill="#000">MAP4K4</text>
<text x="632.5" y="513.5" font-size="8.9" text-anchor="start" fill="#000">TAF5L</text>
<text x="632.5" y="531" font-size="8.9" text-anchor="start" fill="#000">RB1</text>
<text x="632.5" y="548.5" font-size="8.9" text-anchor="start" fill="#000">IGFL1</text>
<text x="632.5" y="566" font-size="8.9" text-anchor="start" fill="#000">ARNT</text>
<text x="632.5" y="583.5" font-size="8.9" text-anchor="start" fill="#000">FRYL</text>
</svg></body></html>
